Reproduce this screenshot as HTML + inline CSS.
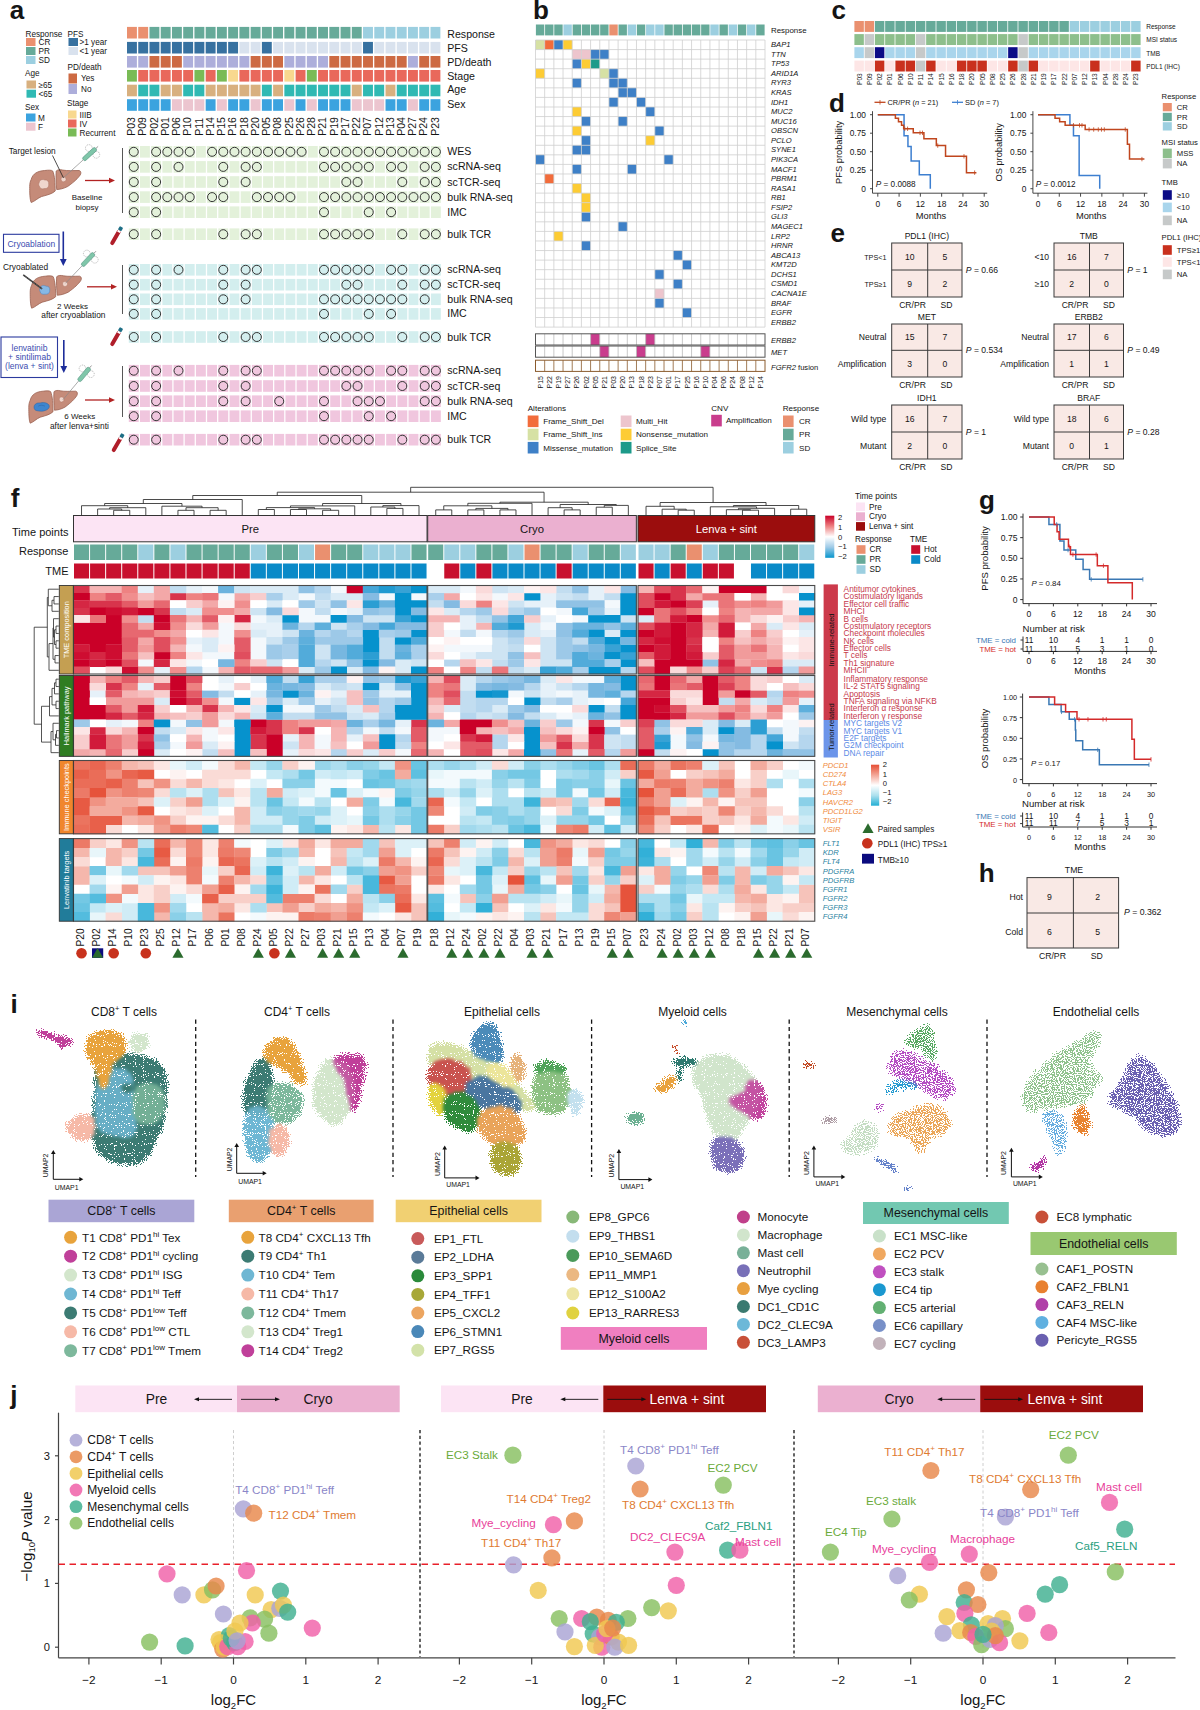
<!DOCTYPE html>
<html><head><meta charset="utf-8"><title>Figure</title>
<style>
html,body{margin:0;padding:0;background:#fff;}
svg{display:block;}
svg text{font-family:"Liberation Sans", sans-serif;}
</style></head>
<body>
<svg width="1200" height="1710" viewBox="0 0 1200 1710">
<rect x="0" y="0" width="1200" height="1710" fill="#fff"/>
<text x="9.80" y="18.50" font-size="26" fill="#151515" font-weight="bold">a</text>
<text x="25.50" y="36.50" font-size="8.2" fill="#151515">Response</text>
<rect x="26.00" y="38.00" width="9.50" height="8.00" fill="#ea906f"/>
<text x="38.50" y="45.00" font-size="8.2" fill="#151515">CR</text>
<rect x="26.00" y="47.00" width="9.50" height="8.00" fill="#66aa99"/>
<text x="38.50" y="54.00" font-size="8.2" fill="#151515">PR</text>
<rect x="26.00" y="56.00" width="9.50" height="8.00" fill="#9ccfe0"/>
<text x="38.50" y="63.00" font-size="8.2" fill="#151515">SD</text>
<text x="25.00" y="76.00" font-size="8.2" fill="#151515">Age</text>
<rect x="26.50" y="80.50" width="9.50" height="8.00" fill="#d8b07f"/>
<text x="38.50" y="87.50" font-size="8.2" fill="#151515">≥65</text>
<rect x="26.50" y="89.70" width="9.50" height="8.00" fill="#30b9b3"/>
<text x="38.50" y="96.70" font-size="8.2" fill="#151515"><65</text>
<text x="25.00" y="110.00" font-size="8.2" fill="#151515">Sex</text>
<rect x="26.00" y="113.50" width="9.50" height="8.00" fill="#3ba3df"/>
<text x="38.00" y="120.50" font-size="8.2" fill="#151515">M</text>
<rect x="26.00" y="122.70" width="9.50" height="8.00" fill="#ecc5cf"/>
<text x="38.00" y="129.70" font-size="8.2" fill="#151515">F</text>
<text x="67.50" y="36.50" font-size="8.2" fill="#151515">PFS</text>
<rect x="68.50" y="38.00" width="9.50" height="8.00" fill="#3771a0"/>
<text x="79.50" y="45.00" font-size="8.2" fill="#151515">>1 year</text>
<rect x="68.50" y="47.00" width="9.50" height="8.00" fill="#d9e2ee"/>
<text x="79.50" y="54.00" font-size="8.2" fill="#151515"><1 year</text>
<text x="67.50" y="70.00" font-size="8.2" fill="#151515">PD/death</text>
<rect x="68.50" y="73.50" width="8.50" height="10.00" fill="#cd6a43"/>
<text x="81.00" y="81.30" font-size="8.2" fill="#151515">Yes</text>
<rect x="68.50" y="84.00" width="8.50" height="10.00" fill="#adaedb"/>
<text x="81.00" y="91.80" font-size="8.2" fill="#151515">No</text>
<text x="67.00" y="106.00" font-size="8.2" fill="#151515">Stage</text>
<rect x="68.00" y="110.50" width="8.50" height="8.00" fill="#f8d88f"/>
<text x="79.50" y="117.50" font-size="8.2" fill="#151515">IIIB</text>
<rect x="68.00" y="119.50" width="8.50" height="8.00" fill="#e9685b"/>
<text x="79.50" y="126.50" font-size="8.2" fill="#151515">IV</text>
<rect x="68.00" y="128.50" width="8.50" height="8.00" fill="#79bb56"/>
<text x="79.50" y="135.50" font-size="8.2" fill="#151515">Recurrent</text>
<rect x="127.00" y="26.90" width="9.90" height="11.60" fill="#ea906f"/>
<rect x="138.24" y="26.90" width="9.90" height="11.60" fill="#ea906f"/>
<rect x="149.48" y="26.90" width="9.90" height="11.60" fill="#66aa99"/>
<rect x="160.72" y="26.90" width="9.90" height="11.60" fill="#66aa99"/>
<rect x="171.96" y="26.90" width="9.90" height="11.60" fill="#66aa99"/>
<rect x="183.20" y="26.90" width="9.90" height="11.60" fill="#66aa99"/>
<rect x="194.44" y="26.90" width="9.90" height="11.60" fill="#66aa99"/>
<rect x="205.68" y="26.90" width="9.90" height="11.60" fill="#66aa99"/>
<rect x="216.92" y="26.90" width="9.90" height="11.60" fill="#66aa99"/>
<rect x="228.16" y="26.90" width="9.90" height="11.60" fill="#66aa99"/>
<rect x="239.40" y="26.90" width="9.90" height="11.60" fill="#66aa99"/>
<rect x="250.64" y="26.90" width="9.90" height="11.60" fill="#66aa99"/>
<rect x="261.88" y="26.90" width="9.90" height="11.60" fill="#66aa99"/>
<rect x="273.12" y="26.90" width="9.90" height="11.60" fill="#66aa99"/>
<rect x="284.36" y="26.90" width="9.90" height="11.60" fill="#66aa99"/>
<rect x="295.60" y="26.90" width="9.90" height="11.60" fill="#66aa99"/>
<rect x="306.84" y="26.90" width="9.90" height="11.60" fill="#66aa99"/>
<rect x="318.08" y="26.90" width="9.90" height="11.60" fill="#66aa99"/>
<rect x="329.32" y="26.90" width="9.90" height="11.60" fill="#66aa99"/>
<rect x="340.56" y="26.90" width="9.90" height="11.60" fill="#66aa99"/>
<rect x="351.80" y="26.90" width="9.90" height="11.60" fill="#66aa99"/>
<rect x="363.04" y="26.90" width="9.90" height="11.60" fill="#9ccfe0"/>
<rect x="374.28" y="26.90" width="9.90" height="11.60" fill="#9ccfe0"/>
<rect x="385.52" y="26.90" width="9.90" height="11.60" fill="#9ccfe0"/>
<rect x="396.76" y="26.90" width="9.90" height="11.60" fill="#9ccfe0"/>
<rect x="408.00" y="26.90" width="9.90" height="11.60" fill="#9ccfe0"/>
<rect x="419.24" y="26.90" width="9.90" height="11.60" fill="#9ccfe0"/>
<rect x="430.48" y="26.90" width="9.90" height="11.60" fill="#9ccfe0"/>
<text x="447.30" y="37.90" font-size="10.6" fill="#151515">Response</text>
<rect x="127.00" y="41.90" width="9.90" height="11.60" fill="#3771a0"/>
<rect x="138.24" y="41.90" width="9.90" height="11.60" fill="#3771a0"/>
<rect x="149.48" y="41.90" width="9.90" height="11.60" fill="#3771a0"/>
<rect x="160.72" y="41.90" width="9.90" height="11.60" fill="#3771a0"/>
<rect x="171.96" y="41.90" width="9.90" height="11.60" fill="#3771a0"/>
<rect x="183.20" y="41.90" width="9.90" height="11.60" fill="#3771a0"/>
<rect x="194.44" y="41.90" width="9.90" height="11.60" fill="#3771a0"/>
<rect x="205.68" y="41.90" width="9.90" height="11.60" fill="#3771a0"/>
<rect x="216.92" y="41.90" width="9.90" height="11.60" fill="#3771a0"/>
<rect x="228.16" y="41.90" width="9.90" height="11.60" fill="#3771a0"/>
<rect x="239.40" y="41.90" width="9.90" height="11.60" fill="#d9e2ee"/>
<rect x="250.64" y="41.90" width="9.90" height="11.60" fill="#d9e2ee"/>
<rect x="261.88" y="41.90" width="9.90" height="11.60" fill="#3771a0"/>
<rect x="273.12" y="41.90" width="9.90" height="11.60" fill="#d9e2ee"/>
<rect x="284.36" y="41.90" width="9.90" height="11.60" fill="#d9e2ee"/>
<rect x="295.60" y="41.90" width="9.90" height="11.60" fill="#d9e2ee"/>
<rect x="306.84" y="41.90" width="9.90" height="11.60" fill="#d9e2ee"/>
<rect x="318.08" y="41.90" width="9.90" height="11.60" fill="#d9e2ee"/>
<rect x="329.32" y="41.90" width="9.90" height="11.60" fill="#d9e2ee"/>
<rect x="340.56" y="41.90" width="9.90" height="11.60" fill="#d9e2ee"/>
<rect x="351.80" y="41.90" width="9.90" height="11.60" fill="#d9e2ee"/>
<rect x="363.04" y="41.90" width="9.90" height="11.60" fill="#3771a0"/>
<rect x="374.28" y="41.90" width="9.90" height="11.60" fill="#d9e2ee"/>
<rect x="385.52" y="41.90" width="9.90" height="11.60" fill="#d9e2ee"/>
<rect x="396.76" y="41.90" width="9.90" height="11.60" fill="#d9e2ee"/>
<rect x="408.00" y="41.90" width="9.90" height="11.60" fill="#d9e2ee"/>
<rect x="419.24" y="41.90" width="9.90" height="11.60" fill="#d9e2ee"/>
<rect x="430.48" y="41.90" width="9.90" height="11.60" fill="#d9e2ee"/>
<text x="447.30" y="51.90" font-size="10.6" fill="#151515">PFS</text>
<rect x="127.00" y="56.00" width="9.90" height="11.60" fill="#adaedb"/>
<rect x="138.24" y="56.00" width="9.90" height="11.60" fill="#adaedb"/>
<rect x="149.48" y="56.00" width="9.90" height="11.60" fill="#cd6a43"/>
<rect x="160.72" y="56.00" width="9.90" height="11.60" fill="#cd6a43"/>
<rect x="171.96" y="56.00" width="9.90" height="11.60" fill="#cd6a43"/>
<rect x="183.20" y="56.00" width="9.90" height="11.60" fill="#adaedb"/>
<rect x="194.44" y="56.00" width="9.90" height="11.60" fill="#adaedb"/>
<rect x="205.68" y="56.00" width="9.90" height="11.60" fill="#adaedb"/>
<rect x="216.92" y="56.00" width="9.90" height="11.60" fill="#adaedb"/>
<rect x="228.16" y="56.00" width="9.90" height="11.60" fill="#adaedb"/>
<rect x="239.40" y="56.00" width="9.90" height="11.60" fill="#adaedb"/>
<rect x="250.64" y="56.00" width="9.90" height="11.60" fill="#cd6a43"/>
<rect x="261.88" y="56.00" width="9.90" height="11.60" fill="#cd6a43"/>
<rect x="273.12" y="56.00" width="9.90" height="11.60" fill="#cd6a43"/>
<rect x="284.36" y="56.00" width="9.90" height="11.60" fill="#adaedb"/>
<rect x="295.60" y="56.00" width="9.90" height="11.60" fill="#adaedb"/>
<rect x="306.84" y="56.00" width="9.90" height="11.60" fill="#adaedb"/>
<rect x="318.08" y="56.00" width="9.90" height="11.60" fill="#adaedb"/>
<rect x="329.32" y="56.00" width="9.90" height="11.60" fill="#cd6a43"/>
<rect x="340.56" y="56.00" width="9.90" height="11.60" fill="#cd6a43"/>
<rect x="351.80" y="56.00" width="9.90" height="11.60" fill="#cd6a43"/>
<rect x="363.04" y="56.00" width="9.90" height="11.60" fill="#cd6a43"/>
<rect x="374.28" y="56.00" width="9.90" height="11.60" fill="#cd6a43"/>
<rect x="385.52" y="56.00" width="9.90" height="11.60" fill="#cd6a43"/>
<rect x="396.76" y="56.00" width="9.90" height="11.60" fill="#cd6a43"/>
<rect x="408.00" y="56.00" width="9.90" height="11.60" fill="#adaedb"/>
<rect x="419.24" y="56.00" width="9.90" height="11.60" fill="#cd6a43"/>
<rect x="430.48" y="56.00" width="9.90" height="11.60" fill="#cd6a43"/>
<text x="447.30" y="65.90" font-size="10.6" fill="#151515">PD/death</text>
<rect x="127.00" y="70.00" width="9.90" height="11.60" fill="#79bb56"/>
<rect x="138.24" y="70.00" width="9.90" height="11.60" fill="#e9685b"/>
<rect x="149.48" y="70.00" width="9.90" height="11.60" fill="#e9685b"/>
<rect x="160.72" y="70.00" width="9.90" height="11.60" fill="#e9685b"/>
<rect x="171.96" y="70.00" width="9.90" height="11.60" fill="#e9685b"/>
<rect x="183.20" y="70.00" width="9.90" height="11.60" fill="#e9685b"/>
<rect x="194.44" y="70.00" width="9.90" height="11.60" fill="#79bb56"/>
<rect x="205.68" y="70.00" width="9.90" height="11.60" fill="#e9685b"/>
<rect x="216.92" y="70.00" width="9.90" height="11.60" fill="#79bb56"/>
<rect x="228.16" y="70.00" width="9.90" height="11.60" fill="#f8d88f"/>
<rect x="239.40" y="70.00" width="9.90" height="11.60" fill="#e9685b"/>
<rect x="250.64" y="70.00" width="9.90" height="11.60" fill="#e9685b"/>
<rect x="261.88" y="70.00" width="9.90" height="11.60" fill="#e9685b"/>
<rect x="273.12" y="70.00" width="9.90" height="11.60" fill="#e9685b"/>
<rect x="284.36" y="70.00" width="9.90" height="11.60" fill="#f8d88f"/>
<rect x="295.60" y="70.00" width="9.90" height="11.60" fill="#e9685b"/>
<rect x="306.84" y="70.00" width="9.90" height="11.60" fill="#79bb56"/>
<rect x="318.08" y="70.00" width="9.90" height="11.60" fill="#e9685b"/>
<rect x="329.32" y="70.00" width="9.90" height="11.60" fill="#e9685b"/>
<rect x="340.56" y="70.00" width="9.90" height="11.60" fill="#e9685b"/>
<rect x="351.80" y="70.00" width="9.90" height="11.60" fill="#e9685b"/>
<rect x="363.04" y="70.00" width="9.90" height="11.60" fill="#e9685b"/>
<rect x="374.28" y="70.00" width="9.90" height="11.60" fill="#e9685b"/>
<rect x="385.52" y="70.00" width="9.90" height="11.60" fill="#e9685b"/>
<rect x="396.76" y="70.00" width="9.90" height="11.60" fill="#e9685b"/>
<rect x="408.00" y="70.00" width="9.90" height="11.60" fill="#e9685b"/>
<rect x="419.24" y="70.00" width="9.90" height="11.60" fill="#e9685b"/>
<rect x="430.48" y="70.00" width="9.90" height="11.60" fill="#e9685b"/>
<text x="447.30" y="79.70" font-size="10.6" fill="#151515">Stage</text>
<rect x="127.00" y="84.70" width="9.90" height="11.60" fill="#d8b07f"/>
<rect x="138.24" y="84.70" width="9.90" height="11.60" fill="#30b9b3"/>
<rect x="149.48" y="84.70" width="9.90" height="11.60" fill="#30b9b3"/>
<rect x="160.72" y="84.70" width="9.90" height="11.60" fill="#d8b07f"/>
<rect x="171.96" y="84.70" width="9.90" height="11.60" fill="#d8b07f"/>
<rect x="183.20" y="84.70" width="9.90" height="11.60" fill="#30b9b3"/>
<rect x="194.44" y="84.70" width="9.90" height="11.60" fill="#30b9b3"/>
<rect x="205.68" y="84.70" width="9.90" height="11.60" fill="#d8b07f"/>
<rect x="216.92" y="84.70" width="9.90" height="11.60" fill="#d8b07f"/>
<rect x="228.16" y="84.70" width="9.90" height="11.60" fill="#d8b07f"/>
<rect x="239.40" y="84.70" width="9.90" height="11.60" fill="#d8b07f"/>
<rect x="250.64" y="84.70" width="9.90" height="11.60" fill="#d8b07f"/>
<rect x="261.88" y="84.70" width="9.90" height="11.60" fill="#30b9b3"/>
<rect x="273.12" y="84.70" width="9.90" height="11.60" fill="#d8b07f"/>
<rect x="284.36" y="84.70" width="9.90" height="11.60" fill="#30b9b3"/>
<rect x="295.60" y="84.70" width="9.90" height="11.60" fill="#30b9b3"/>
<rect x="306.84" y="84.70" width="9.90" height="11.60" fill="#30b9b3"/>
<rect x="318.08" y="84.70" width="9.90" height="11.60" fill="#30b9b3"/>
<rect x="329.32" y="84.70" width="9.90" height="11.60" fill="#30b9b3"/>
<rect x="340.56" y="84.70" width="9.90" height="11.60" fill="#30b9b3"/>
<rect x="351.80" y="84.70" width="9.90" height="11.60" fill="#d8b07f"/>
<rect x="363.04" y="84.70" width="9.90" height="11.60" fill="#30b9b3"/>
<rect x="374.28" y="84.70" width="9.90" height="11.60" fill="#30b9b3"/>
<rect x="385.52" y="84.70" width="9.90" height="11.60" fill="#d8b07f"/>
<rect x="396.76" y="84.70" width="9.90" height="11.60" fill="#30b9b3"/>
<rect x="408.00" y="84.70" width="9.90" height="11.60" fill="#30b9b3"/>
<rect x="419.24" y="84.70" width="9.90" height="11.60" fill="#30b9b3"/>
<rect x="430.48" y="84.70" width="9.90" height="11.60" fill="#30b9b3"/>
<text x="447.30" y="93.30" font-size="10.6" fill="#151515">Age</text>
<rect x="127.00" y="99.20" width="9.90" height="11.60" fill="#3ba3df"/>
<rect x="138.24" y="99.20" width="9.90" height="11.60" fill="#3ba3df"/>
<rect x="149.48" y="99.20" width="9.90" height="11.60" fill="#3ba3df"/>
<rect x="160.72" y="99.20" width="9.90" height="11.60" fill="#3ba3df"/>
<rect x="171.96" y="99.20" width="9.90" height="11.60" fill="#ecc5cf"/>
<rect x="183.20" y="99.20" width="9.90" height="11.60" fill="#ecc5cf"/>
<rect x="194.44" y="99.20" width="9.90" height="11.60" fill="#ecc5cf"/>
<rect x="205.68" y="99.20" width="9.90" height="11.60" fill="#3ba3df"/>
<rect x="216.92" y="99.20" width="9.90" height="11.60" fill="#ecc5cf"/>
<rect x="228.16" y="99.20" width="9.90" height="11.60" fill="#3ba3df"/>
<rect x="239.40" y="99.20" width="9.90" height="11.60" fill="#3ba3df"/>
<rect x="250.64" y="99.20" width="9.90" height="11.60" fill="#ecc5cf"/>
<rect x="261.88" y="99.20" width="9.90" height="11.60" fill="#3ba3df"/>
<rect x="273.12" y="99.20" width="9.90" height="11.60" fill="#3ba3df"/>
<rect x="284.36" y="99.20" width="9.90" height="11.60" fill="#ecc5cf"/>
<rect x="295.60" y="99.20" width="9.90" height="11.60" fill="#3ba3df"/>
<rect x="306.84" y="99.20" width="9.90" height="11.60" fill="#ecc5cf"/>
<rect x="318.08" y="99.20" width="9.90" height="11.60" fill="#3ba3df"/>
<rect x="329.32" y="99.20" width="9.90" height="11.60" fill="#3ba3df"/>
<rect x="340.56" y="99.20" width="9.90" height="11.60" fill="#3ba3df"/>
<rect x="351.80" y="99.20" width="9.90" height="11.60" fill="#ecc5cf"/>
<rect x="363.04" y="99.20" width="9.90" height="11.60" fill="#ecc5cf"/>
<rect x="374.28" y="99.20" width="9.90" height="11.60" fill="#ecc5cf"/>
<rect x="385.52" y="99.20" width="9.90" height="11.60" fill="#3ba3df"/>
<rect x="396.76" y="99.20" width="9.90" height="11.60" fill="#3ba3df"/>
<rect x="408.00" y="99.20" width="9.90" height="11.60" fill="#ecc5cf"/>
<rect x="419.24" y="99.20" width="9.90" height="11.60" fill="#3ba3df"/>
<rect x="430.48" y="99.20" width="9.90" height="11.60" fill="#3ba3df"/>
<text x="447.30" y="107.70" font-size="10.6" fill="#151515">Sex</text>
<text transform="translate(135.25,135.80) rotate(-90)" font-size="10.5" fill="#151515">P03</text>
<text transform="translate(146.49,135.80) rotate(-90)" font-size="10.5" fill="#151515">P09</text>
<text transform="translate(157.73,135.80) rotate(-90)" font-size="10.5" fill="#151515">P02</text>
<text transform="translate(168.97,135.80) rotate(-90)" font-size="10.5" fill="#151515">P01</text>
<text transform="translate(180.21,135.80) rotate(-90)" font-size="10.5" fill="#151515">P06</text>
<text transform="translate(191.45,135.80) rotate(-90)" font-size="10.5" fill="#151515">P10</text>
<text transform="translate(202.69,135.80) rotate(-90)" font-size="10.5" fill="#151515">P11</text>
<text transform="translate(213.93,135.80) rotate(-90)" font-size="10.5" fill="#151515">P14</text>
<text transform="translate(225.17,135.80) rotate(-90)" font-size="10.5" fill="#151515">P15</text>
<text transform="translate(236.41,135.80) rotate(-90)" font-size="10.5" fill="#151515">P16</text>
<text transform="translate(247.65,135.80) rotate(-90)" font-size="10.5" fill="#151515">P18</text>
<text transform="translate(258.89,135.80) rotate(-90)" font-size="10.5" fill="#151515">P20</text>
<text transform="translate(270.13,135.80) rotate(-90)" font-size="10.5" fill="#151515">P05</text>
<text transform="translate(281.37,135.80) rotate(-90)" font-size="10.5" fill="#151515">P08</text>
<text transform="translate(292.61,135.80) rotate(-90)" font-size="10.5" fill="#151515">P25</text>
<text transform="translate(303.85,135.80) rotate(-90)" font-size="10.5" fill="#151515">P26</text>
<text transform="translate(315.09,135.80) rotate(-90)" font-size="10.5" fill="#151515">P28</text>
<text transform="translate(326.33,135.80) rotate(-90)" font-size="10.5" fill="#151515">P21</text>
<text transform="translate(337.57,135.80) rotate(-90)" font-size="10.5" fill="#151515">P19</text>
<text transform="translate(348.81,135.80) rotate(-90)" font-size="10.5" fill="#151515">P17</text>
<text transform="translate(360.05,135.80) rotate(-90)" font-size="10.5" fill="#151515">P22</text>
<text transform="translate(371.29,135.80) rotate(-90)" font-size="10.5" fill="#151515">P07</text>
<text transform="translate(382.53,135.80) rotate(-90)" font-size="10.5" fill="#151515">P12</text>
<text transform="translate(393.77,135.80) rotate(-90)" font-size="10.5" fill="#151515">P13</text>
<text transform="translate(405.01,135.80) rotate(-90)" font-size="10.5" fill="#151515">P04</text>
<text transform="translate(416.25,135.80) rotate(-90)" font-size="10.5" fill="#151515">P27</text>
<text transform="translate(427.49,135.80) rotate(-90)" font-size="10.5" fill="#151515">P24</text>
<text transform="translate(438.73,135.80) rotate(-90)" font-size="10.5" fill="#151515">P23</text>
<rect x="128.80" y="146.00" width="9.90" height="11.60" fill="#e3f1da"/>
<rect x="139.99" y="146.00" width="9.90" height="11.60" fill="#e3f1da"/>
<rect x="151.18" y="146.00" width="9.90" height="11.60" fill="#e3f1da"/>
<rect x="162.37" y="146.00" width="9.90" height="11.60" fill="#e3f1da"/>
<rect x="173.56" y="146.00" width="9.90" height="11.60" fill="#e3f1da"/>
<rect x="184.75" y="146.00" width="9.90" height="11.60" fill="#e3f1da"/>
<rect x="195.94" y="146.00" width="9.90" height="11.60" fill="#e3f1da"/>
<rect x="207.13" y="146.00" width="9.90" height="11.60" fill="#e3f1da"/>
<rect x="218.32" y="146.00" width="9.90" height="11.60" fill="#e3f1da"/>
<rect x="229.51" y="146.00" width="9.90" height="11.60" fill="#e3f1da"/>
<rect x="240.70" y="146.00" width="9.90" height="11.60" fill="#e3f1da"/>
<rect x="251.89" y="146.00" width="9.90" height="11.60" fill="#e3f1da"/>
<rect x="263.08" y="146.00" width="9.90" height="11.60" fill="#e3f1da"/>
<rect x="274.27" y="146.00" width="9.90" height="11.60" fill="#e3f1da"/>
<rect x="285.46" y="146.00" width="9.90" height="11.60" fill="#e3f1da"/>
<rect x="296.65" y="146.00" width="9.90" height="11.60" fill="#e3f1da"/>
<rect x="307.84" y="146.00" width="9.90" height="11.60" fill="#e3f1da"/>
<rect x="319.03" y="146.00" width="9.90" height="11.60" fill="#e3f1da"/>
<rect x="330.22" y="146.00" width="9.90" height="11.60" fill="#e3f1da"/>
<rect x="341.41" y="146.00" width="9.90" height="11.60" fill="#e3f1da"/>
<rect x="352.60" y="146.00" width="9.90" height="11.60" fill="#e3f1da"/>
<rect x="363.79" y="146.00" width="9.90" height="11.60" fill="#e3f1da"/>
<rect x="374.98" y="146.00" width="9.90" height="11.60" fill="#e3f1da"/>
<rect x="386.17" y="146.00" width="9.90" height="11.60" fill="#e3f1da"/>
<rect x="397.36" y="146.00" width="9.90" height="11.60" fill="#e3f1da"/>
<rect x="408.55" y="146.00" width="9.90" height="11.60" fill="#e3f1da"/>
<rect x="419.74" y="146.00" width="9.90" height="11.60" fill="#e3f1da"/>
<rect x="430.93" y="146.00" width="9.90" height="11.60" fill="#e3f1da"/>
<circle cx="133.75" cy="151.80" r="4.5" fill="none" stroke="#333" stroke-width="1.0"/>
<circle cx="156.13" cy="151.80" r="4.5" fill="none" stroke="#333" stroke-width="1.0"/>
<circle cx="167.32" cy="151.80" r="4.5" fill="none" stroke="#333" stroke-width="1.0"/>
<circle cx="178.51" cy="151.80" r="4.5" fill="none" stroke="#333" stroke-width="1.0"/>
<circle cx="189.70" cy="151.80" r="4.5" fill="none" stroke="#333" stroke-width="1.0"/>
<circle cx="212.08" cy="151.80" r="4.5" fill="none" stroke="#333" stroke-width="1.0"/>
<circle cx="223.27" cy="151.80" r="4.5" fill="none" stroke="#333" stroke-width="1.0"/>
<circle cx="234.46" cy="151.80" r="4.5" fill="none" stroke="#333" stroke-width="1.0"/>
<circle cx="245.65" cy="151.80" r="4.5" fill="none" stroke="#333" stroke-width="1.0"/>
<circle cx="256.84" cy="151.80" r="4.5" fill="none" stroke="#333" stroke-width="1.0"/>
<circle cx="268.03" cy="151.80" r="4.5" fill="none" stroke="#333" stroke-width="1.0"/>
<circle cx="279.22" cy="151.80" r="4.5" fill="none" stroke="#333" stroke-width="1.0"/>
<circle cx="290.41" cy="151.80" r="4.5" fill="none" stroke="#333" stroke-width="1.0"/>
<circle cx="301.60" cy="151.80" r="4.5" fill="none" stroke="#333" stroke-width="1.0"/>
<circle cx="323.98" cy="151.80" r="4.5" fill="none" stroke="#333" stroke-width="1.0"/>
<circle cx="335.17" cy="151.80" r="4.5" fill="none" stroke="#333" stroke-width="1.0"/>
<circle cx="346.36" cy="151.80" r="4.5" fill="none" stroke="#333" stroke-width="1.0"/>
<circle cx="357.55" cy="151.80" r="4.5" fill="none" stroke="#333" stroke-width="1.0"/>
<circle cx="368.74" cy="151.80" r="4.5" fill="none" stroke="#333" stroke-width="1.0"/>
<circle cx="379.93" cy="151.80" r="4.5" fill="none" stroke="#333" stroke-width="1.0"/>
<circle cx="391.12" cy="151.80" r="4.5" fill="none" stroke="#333" stroke-width="1.0"/>
<circle cx="402.31" cy="151.80" r="4.5" fill="none" stroke="#333" stroke-width="1.0"/>
<circle cx="413.50" cy="151.80" r="4.5" fill="none" stroke="#333" stroke-width="1.0"/>
<circle cx="424.69" cy="151.80" r="4.5" fill="none" stroke="#333" stroke-width="1.0"/>
<circle cx="435.88" cy="151.80" r="4.5" fill="none" stroke="#333" stroke-width="1.0"/>
<text x="447.30" y="155.30" font-size="10.6" fill="#151515">WES</text>
<rect x="128.80" y="161.10" width="9.90" height="11.60" fill="#e3f1da"/>
<rect x="139.99" y="161.10" width="9.90" height="11.60" fill="#e3f1da"/>
<rect x="151.18" y="161.10" width="9.90" height="11.60" fill="#e3f1da"/>
<rect x="162.37" y="161.10" width="9.90" height="11.60" fill="#e3f1da"/>
<rect x="173.56" y="161.10" width="9.90" height="11.60" fill="#e3f1da"/>
<rect x="184.75" y="161.10" width="9.90" height="11.60" fill="#e3f1da"/>
<rect x="195.94" y="161.10" width="9.90" height="11.60" fill="#e3f1da"/>
<rect x="207.13" y="161.10" width="9.90" height="11.60" fill="#e3f1da"/>
<rect x="218.32" y="161.10" width="9.90" height="11.60" fill="#e3f1da"/>
<rect x="229.51" y="161.10" width="9.90" height="11.60" fill="#e3f1da"/>
<rect x="240.70" y="161.10" width="9.90" height="11.60" fill="#e3f1da"/>
<rect x="251.89" y="161.10" width="9.90" height="11.60" fill="#e3f1da"/>
<rect x="263.08" y="161.10" width="9.90" height="11.60" fill="#e3f1da"/>
<rect x="274.27" y="161.10" width="9.90" height="11.60" fill="#e3f1da"/>
<rect x="285.46" y="161.10" width="9.90" height="11.60" fill="#e3f1da"/>
<rect x="296.65" y="161.10" width="9.90" height="11.60" fill="#e3f1da"/>
<rect x="307.84" y="161.10" width="9.90" height="11.60" fill="#e3f1da"/>
<rect x="319.03" y="161.10" width="9.90" height="11.60" fill="#e3f1da"/>
<rect x="330.22" y="161.10" width="9.90" height="11.60" fill="#e3f1da"/>
<rect x="341.41" y="161.10" width="9.90" height="11.60" fill="#e3f1da"/>
<rect x="352.60" y="161.10" width="9.90" height="11.60" fill="#e3f1da"/>
<rect x="363.79" y="161.10" width="9.90" height="11.60" fill="#e3f1da"/>
<rect x="374.98" y="161.10" width="9.90" height="11.60" fill="#e3f1da"/>
<rect x="386.17" y="161.10" width="9.90" height="11.60" fill="#e3f1da"/>
<rect x="397.36" y="161.10" width="9.90" height="11.60" fill="#e3f1da"/>
<rect x="408.55" y="161.10" width="9.90" height="11.60" fill="#e3f1da"/>
<rect x="419.74" y="161.10" width="9.90" height="11.60" fill="#e3f1da"/>
<rect x="430.93" y="161.10" width="9.90" height="11.60" fill="#e3f1da"/>
<circle cx="133.75" cy="166.90" r="4.5" fill="none" stroke="#333" stroke-width="1.0"/>
<circle cx="156.13" cy="166.90" r="4.5" fill="none" stroke="#333" stroke-width="1.0"/>
<circle cx="178.51" cy="166.90" r="4.5" fill="none" stroke="#333" stroke-width="1.0"/>
<circle cx="223.27" cy="166.90" r="4.5" fill="none" stroke="#333" stroke-width="1.0"/>
<circle cx="245.65" cy="166.90" r="4.5" fill="none" stroke="#333" stroke-width="1.0"/>
<circle cx="256.84" cy="166.90" r="4.5" fill="none" stroke="#333" stroke-width="1.0"/>
<circle cx="323.98" cy="166.90" r="4.5" fill="none" stroke="#333" stroke-width="1.0"/>
<circle cx="335.17" cy="166.90" r="4.5" fill="none" stroke="#333" stroke-width="1.0"/>
<circle cx="346.36" cy="166.90" r="4.5" fill="none" stroke="#333" stroke-width="1.0"/>
<circle cx="357.55" cy="166.90" r="4.5" fill="none" stroke="#333" stroke-width="1.0"/>
<circle cx="368.74" cy="166.90" r="4.5" fill="none" stroke="#333" stroke-width="1.0"/>
<circle cx="391.12" cy="166.90" r="4.5" fill="none" stroke="#333" stroke-width="1.0"/>
<circle cx="402.31" cy="166.90" r="4.5" fill="none" stroke="#333" stroke-width="1.0"/>
<circle cx="424.69" cy="166.90" r="4.5" fill="none" stroke="#333" stroke-width="1.0"/>
<circle cx="435.88" cy="166.90" r="4.5" fill="none" stroke="#333" stroke-width="1.0"/>
<text x="447.30" y="170.40" font-size="10.6" fill="#151515">scRNA-seq</text>
<rect x="128.80" y="176.20" width="9.90" height="11.60" fill="#e3f1da"/>
<rect x="139.99" y="176.20" width="9.90" height="11.60" fill="#e3f1da"/>
<rect x="151.18" y="176.20" width="9.90" height="11.60" fill="#e3f1da"/>
<rect x="162.37" y="176.20" width="9.90" height="11.60" fill="#e3f1da"/>
<rect x="173.56" y="176.20" width="9.90" height="11.60" fill="#e3f1da"/>
<rect x="184.75" y="176.20" width="9.90" height="11.60" fill="#e3f1da"/>
<rect x="195.94" y="176.20" width="9.90" height="11.60" fill="#e3f1da"/>
<rect x="207.13" y="176.20" width="9.90" height="11.60" fill="#e3f1da"/>
<rect x="218.32" y="176.20" width="9.90" height="11.60" fill="#e3f1da"/>
<rect x="229.51" y="176.20" width="9.90" height="11.60" fill="#e3f1da"/>
<rect x="240.70" y="176.20" width="9.90" height="11.60" fill="#e3f1da"/>
<rect x="251.89" y="176.20" width="9.90" height="11.60" fill="#e3f1da"/>
<rect x="263.08" y="176.20" width="9.90" height="11.60" fill="#e3f1da"/>
<rect x="274.27" y="176.20" width="9.90" height="11.60" fill="#e3f1da"/>
<rect x="285.46" y="176.20" width="9.90" height="11.60" fill="#e3f1da"/>
<rect x="296.65" y="176.20" width="9.90" height="11.60" fill="#e3f1da"/>
<rect x="307.84" y="176.20" width="9.90" height="11.60" fill="#e3f1da"/>
<rect x="319.03" y="176.20" width="9.90" height="11.60" fill="#e3f1da"/>
<rect x="330.22" y="176.20" width="9.90" height="11.60" fill="#e3f1da"/>
<rect x="341.41" y="176.20" width="9.90" height="11.60" fill="#e3f1da"/>
<rect x="352.60" y="176.20" width="9.90" height="11.60" fill="#e3f1da"/>
<rect x="363.79" y="176.20" width="9.90" height="11.60" fill="#e3f1da"/>
<rect x="374.98" y="176.20" width="9.90" height="11.60" fill="#e3f1da"/>
<rect x="386.17" y="176.20" width="9.90" height="11.60" fill="#e3f1da"/>
<rect x="397.36" y="176.20" width="9.90" height="11.60" fill="#e3f1da"/>
<rect x="408.55" y="176.20" width="9.90" height="11.60" fill="#e3f1da"/>
<rect x="419.74" y="176.20" width="9.90" height="11.60" fill="#e3f1da"/>
<rect x="430.93" y="176.20" width="9.90" height="11.60" fill="#e3f1da"/>
<circle cx="133.75" cy="182.00" r="4.5" fill="none" stroke="#333" stroke-width="1.0"/>
<circle cx="156.13" cy="182.00" r="4.5" fill="none" stroke="#333" stroke-width="1.0"/>
<circle cx="223.27" cy="182.00" r="4.5" fill="none" stroke="#333" stroke-width="1.0"/>
<circle cx="245.65" cy="182.00" r="4.5" fill="none" stroke="#333" stroke-width="1.0"/>
<circle cx="346.36" cy="182.00" r="4.5" fill="none" stroke="#333" stroke-width="1.0"/>
<circle cx="357.55" cy="182.00" r="4.5" fill="none" stroke="#333" stroke-width="1.0"/>
<circle cx="402.31" cy="182.00" r="4.5" fill="none" stroke="#333" stroke-width="1.0"/>
<circle cx="424.69" cy="182.00" r="4.5" fill="none" stroke="#333" stroke-width="1.0"/>
<circle cx="435.88" cy="182.00" r="4.5" fill="none" stroke="#333" stroke-width="1.0"/>
<text x="447.30" y="185.50" font-size="10.6" fill="#151515">scTCR-seq</text>
<rect x="128.80" y="191.30" width="9.90" height="11.60" fill="#e3f1da"/>
<rect x="139.99" y="191.30" width="9.90" height="11.60" fill="#e3f1da"/>
<rect x="151.18" y="191.30" width="9.90" height="11.60" fill="#e3f1da"/>
<rect x="162.37" y="191.30" width="9.90" height="11.60" fill="#e3f1da"/>
<rect x="173.56" y="191.30" width="9.90" height="11.60" fill="#e3f1da"/>
<rect x="184.75" y="191.30" width="9.90" height="11.60" fill="#e3f1da"/>
<rect x="195.94" y="191.30" width="9.90" height="11.60" fill="#e3f1da"/>
<rect x="207.13" y="191.30" width="9.90" height="11.60" fill="#e3f1da"/>
<rect x="218.32" y="191.30" width="9.90" height="11.60" fill="#e3f1da"/>
<rect x="229.51" y="191.30" width="9.90" height="11.60" fill="#e3f1da"/>
<rect x="240.70" y="191.30" width="9.90" height="11.60" fill="#e3f1da"/>
<rect x="251.89" y="191.30" width="9.90" height="11.60" fill="#e3f1da"/>
<rect x="263.08" y="191.30" width="9.90" height="11.60" fill="#e3f1da"/>
<rect x="274.27" y="191.30" width="9.90" height="11.60" fill="#e3f1da"/>
<rect x="285.46" y="191.30" width="9.90" height="11.60" fill="#e3f1da"/>
<rect x="296.65" y="191.30" width="9.90" height="11.60" fill="#e3f1da"/>
<rect x="307.84" y="191.30" width="9.90" height="11.60" fill="#e3f1da"/>
<rect x="319.03" y="191.30" width="9.90" height="11.60" fill="#e3f1da"/>
<rect x="330.22" y="191.30" width="9.90" height="11.60" fill="#e3f1da"/>
<rect x="341.41" y="191.30" width="9.90" height="11.60" fill="#e3f1da"/>
<rect x="352.60" y="191.30" width="9.90" height="11.60" fill="#e3f1da"/>
<rect x="363.79" y="191.30" width="9.90" height="11.60" fill="#e3f1da"/>
<rect x="374.98" y="191.30" width="9.90" height="11.60" fill="#e3f1da"/>
<rect x="386.17" y="191.30" width="9.90" height="11.60" fill="#e3f1da"/>
<rect x="397.36" y="191.30" width="9.90" height="11.60" fill="#e3f1da"/>
<rect x="408.55" y="191.30" width="9.90" height="11.60" fill="#e3f1da"/>
<rect x="419.74" y="191.30" width="9.90" height="11.60" fill="#e3f1da"/>
<rect x="430.93" y="191.30" width="9.90" height="11.60" fill="#e3f1da"/>
<circle cx="133.75" cy="197.10" r="4.5" fill="none" stroke="#333" stroke-width="1.0"/>
<circle cx="156.13" cy="197.10" r="4.5" fill="none" stroke="#333" stroke-width="1.0"/>
<circle cx="167.32" cy="197.10" r="4.5" fill="none" stroke="#333" stroke-width="1.0"/>
<circle cx="178.51" cy="197.10" r="4.5" fill="none" stroke="#333" stroke-width="1.0"/>
<circle cx="189.70" cy="197.10" r="4.5" fill="none" stroke="#333" stroke-width="1.0"/>
<circle cx="212.08" cy="197.10" r="4.5" fill="none" stroke="#333" stroke-width="1.0"/>
<circle cx="223.27" cy="197.10" r="4.5" fill="none" stroke="#333" stroke-width="1.0"/>
<circle cx="256.84" cy="197.10" r="4.5" fill="none" stroke="#333" stroke-width="1.0"/>
<circle cx="268.03" cy="197.10" r="4.5" fill="none" stroke="#333" stroke-width="1.0"/>
<circle cx="279.22" cy="197.10" r="4.5" fill="none" stroke="#333" stroke-width="1.0"/>
<circle cx="290.41" cy="197.10" r="4.5" fill="none" stroke="#333" stroke-width="1.0"/>
<circle cx="323.98" cy="197.10" r="4.5" fill="none" stroke="#333" stroke-width="1.0"/>
<circle cx="335.17" cy="197.10" r="4.5" fill="none" stroke="#333" stroke-width="1.0"/>
<circle cx="346.36" cy="197.10" r="4.5" fill="none" stroke="#333" stroke-width="1.0"/>
<circle cx="357.55" cy="197.10" r="4.5" fill="none" stroke="#333" stroke-width="1.0"/>
<circle cx="368.74" cy="197.10" r="4.5" fill="none" stroke="#333" stroke-width="1.0"/>
<circle cx="379.93" cy="197.10" r="4.5" fill="none" stroke="#333" stroke-width="1.0"/>
<circle cx="391.12" cy="197.10" r="4.5" fill="none" stroke="#333" stroke-width="1.0"/>
<circle cx="402.31" cy="197.10" r="4.5" fill="none" stroke="#333" stroke-width="1.0"/>
<circle cx="413.50" cy="197.10" r="4.5" fill="none" stroke="#333" stroke-width="1.0"/>
<circle cx="424.69" cy="197.10" r="4.5" fill="none" stroke="#333" stroke-width="1.0"/>
<circle cx="435.88" cy="197.10" r="4.5" fill="none" stroke="#333" stroke-width="1.0"/>
<text x="447.30" y="200.60" font-size="10.6" fill="#151515">bulk RNA-seq</text>
<rect x="128.80" y="206.40" width="9.90" height="11.60" fill="#e3f1da"/>
<rect x="139.99" y="206.40" width="9.90" height="11.60" fill="#e3f1da"/>
<rect x="151.18" y="206.40" width="9.90" height="11.60" fill="#e3f1da"/>
<rect x="162.37" y="206.40" width="9.90" height="11.60" fill="#e3f1da"/>
<rect x="173.56" y="206.40" width="9.90" height="11.60" fill="#e3f1da"/>
<rect x="184.75" y="206.40" width="9.90" height="11.60" fill="#e3f1da"/>
<rect x="195.94" y="206.40" width="9.90" height="11.60" fill="#e3f1da"/>
<rect x="207.13" y="206.40" width="9.90" height="11.60" fill="#e3f1da"/>
<rect x="218.32" y="206.40" width="9.90" height="11.60" fill="#e3f1da"/>
<rect x="229.51" y="206.40" width="9.90" height="11.60" fill="#e3f1da"/>
<rect x="240.70" y="206.40" width="9.90" height="11.60" fill="#e3f1da"/>
<rect x="251.89" y="206.40" width="9.90" height="11.60" fill="#e3f1da"/>
<rect x="263.08" y="206.40" width="9.90" height="11.60" fill="#e3f1da"/>
<rect x="274.27" y="206.40" width="9.90" height="11.60" fill="#e3f1da"/>
<rect x="285.46" y="206.40" width="9.90" height="11.60" fill="#e3f1da"/>
<rect x="296.65" y="206.40" width="9.90" height="11.60" fill="#e3f1da"/>
<rect x="307.84" y="206.40" width="9.90" height="11.60" fill="#e3f1da"/>
<rect x="319.03" y="206.40" width="9.90" height="11.60" fill="#e3f1da"/>
<rect x="330.22" y="206.40" width="9.90" height="11.60" fill="#e3f1da"/>
<rect x="341.41" y="206.40" width="9.90" height="11.60" fill="#e3f1da"/>
<rect x="352.60" y="206.40" width="9.90" height="11.60" fill="#e3f1da"/>
<rect x="363.79" y="206.40" width="9.90" height="11.60" fill="#e3f1da"/>
<rect x="374.98" y="206.40" width="9.90" height="11.60" fill="#e3f1da"/>
<rect x="386.17" y="206.40" width="9.90" height="11.60" fill="#e3f1da"/>
<rect x="397.36" y="206.40" width="9.90" height="11.60" fill="#e3f1da"/>
<rect x="408.55" y="206.40" width="9.90" height="11.60" fill="#e3f1da"/>
<rect x="419.74" y="206.40" width="9.90" height="11.60" fill="#e3f1da"/>
<rect x="430.93" y="206.40" width="9.90" height="11.60" fill="#e3f1da"/>
<circle cx="133.75" cy="212.20" r="4.5" fill="none" stroke="#333" stroke-width="1.0"/>
<circle cx="156.13" cy="212.20" r="4.5" fill="none" stroke="#333" stroke-width="1.0"/>
<circle cx="323.98" cy="212.20" r="4.5" fill="none" stroke="#333" stroke-width="1.0"/>
<circle cx="368.74" cy="212.20" r="4.5" fill="none" stroke="#333" stroke-width="1.0"/>
<circle cx="391.12" cy="212.20" r="4.5" fill="none" stroke="#333" stroke-width="1.0"/>
<text x="447.30" y="215.70" font-size="10.6" fill="#151515">IMC</text>
<rect x="128.80" y="228.40" width="9.90" height="11.60" fill="#e3f1da"/>
<rect x="139.99" y="228.40" width="9.90" height="11.60" fill="#e3f1da"/>
<rect x="151.18" y="228.40" width="9.90" height="11.60" fill="#e3f1da"/>
<rect x="162.37" y="228.40" width="9.90" height="11.60" fill="#e3f1da"/>
<rect x="173.56" y="228.40" width="9.90" height="11.60" fill="#e3f1da"/>
<rect x="184.75" y="228.40" width="9.90" height="11.60" fill="#e3f1da"/>
<rect x="195.94" y="228.40" width="9.90" height="11.60" fill="#e3f1da"/>
<rect x="207.13" y="228.40" width="9.90" height="11.60" fill="#e3f1da"/>
<rect x="218.32" y="228.40" width="9.90" height="11.60" fill="#e3f1da"/>
<rect x="229.51" y="228.40" width="9.90" height="11.60" fill="#e3f1da"/>
<rect x="240.70" y="228.40" width="9.90" height="11.60" fill="#e3f1da"/>
<rect x="251.89" y="228.40" width="9.90" height="11.60" fill="#e3f1da"/>
<rect x="263.08" y="228.40" width="9.90" height="11.60" fill="#e3f1da"/>
<rect x="274.27" y="228.40" width="9.90" height="11.60" fill="#e3f1da"/>
<rect x="285.46" y="228.40" width="9.90" height="11.60" fill="#e3f1da"/>
<rect x="296.65" y="228.40" width="9.90" height="11.60" fill="#e3f1da"/>
<rect x="307.84" y="228.40" width="9.90" height="11.60" fill="#e3f1da"/>
<rect x="319.03" y="228.40" width="9.90" height="11.60" fill="#e3f1da"/>
<rect x="330.22" y="228.40" width="9.90" height="11.60" fill="#e3f1da"/>
<rect x="341.41" y="228.40" width="9.90" height="11.60" fill="#e3f1da"/>
<rect x="352.60" y="228.40" width="9.90" height="11.60" fill="#e3f1da"/>
<rect x="363.79" y="228.40" width="9.90" height="11.60" fill="#e3f1da"/>
<rect x="374.98" y="228.40" width="9.90" height="11.60" fill="#e3f1da"/>
<rect x="386.17" y="228.40" width="9.90" height="11.60" fill="#e3f1da"/>
<rect x="397.36" y="228.40" width="9.90" height="11.60" fill="#e3f1da"/>
<rect x="408.55" y="228.40" width="9.90" height="11.60" fill="#e3f1da"/>
<rect x="419.74" y="228.40" width="9.90" height="11.60" fill="#e3f1da"/>
<rect x="430.93" y="228.40" width="9.90" height="11.60" fill="#e3f1da"/>
<circle cx="133.75" cy="234.20" r="4.5" fill="none" stroke="#333" stroke-width="1.0"/>
<circle cx="156.13" cy="234.20" r="4.5" fill="none" stroke="#333" stroke-width="1.0"/>
<circle cx="223.27" cy="234.20" r="4.5" fill="none" stroke="#333" stroke-width="1.0"/>
<circle cx="245.65" cy="234.20" r="4.5" fill="none" stroke="#333" stroke-width="1.0"/>
<circle cx="256.84" cy="234.20" r="4.5" fill="none" stroke="#333" stroke-width="1.0"/>
<circle cx="323.98" cy="234.20" r="4.5" fill="none" stroke="#333" stroke-width="1.0"/>
<circle cx="335.17" cy="234.20" r="4.5" fill="none" stroke="#333" stroke-width="1.0"/>
<circle cx="346.36" cy="234.20" r="4.5" fill="none" stroke="#333" stroke-width="1.0"/>
<circle cx="357.55" cy="234.20" r="4.5" fill="none" stroke="#333" stroke-width="1.0"/>
<circle cx="368.74" cy="234.20" r="4.5" fill="none" stroke="#333" stroke-width="1.0"/>
<circle cx="402.31" cy="234.20" r="4.5" fill="none" stroke="#333" stroke-width="1.0"/>
<circle cx="424.69" cy="234.20" r="4.5" fill="none" stroke="#333" stroke-width="1.0"/>
<circle cx="435.88" cy="234.20" r="4.5" fill="none" stroke="#333" stroke-width="1.0"/>
<text x="447.30" y="237.70" font-size="10.6" fill="#151515">bulk TCR</text>
<rect x="128.80" y="264.00" width="9.90" height="11.60" fill="#d3eeee"/>
<rect x="139.99" y="264.00" width="9.90" height="11.60" fill="#d3eeee"/>
<rect x="151.18" y="264.00" width="9.90" height="11.60" fill="#d3eeee"/>
<rect x="162.37" y="264.00" width="9.90" height="11.60" fill="#d3eeee"/>
<rect x="173.56" y="264.00" width="9.90" height="11.60" fill="#d3eeee"/>
<rect x="184.75" y="264.00" width="9.90" height="11.60" fill="#d3eeee"/>
<rect x="195.94" y="264.00" width="9.90" height="11.60" fill="#d3eeee"/>
<rect x="207.13" y="264.00" width="9.90" height="11.60" fill="#d3eeee"/>
<rect x="218.32" y="264.00" width="9.90" height="11.60" fill="#d3eeee"/>
<rect x="229.51" y="264.00" width="9.90" height="11.60" fill="#d3eeee"/>
<rect x="240.70" y="264.00" width="9.90" height="11.60" fill="#d3eeee"/>
<rect x="251.89" y="264.00" width="9.90" height="11.60" fill="#d3eeee"/>
<rect x="263.08" y="264.00" width="9.90" height="11.60" fill="#d3eeee"/>
<rect x="274.27" y="264.00" width="9.90" height="11.60" fill="#d3eeee"/>
<rect x="285.46" y="264.00" width="9.90" height="11.60" fill="#d3eeee"/>
<rect x="296.65" y="264.00" width="9.90" height="11.60" fill="#d3eeee"/>
<rect x="307.84" y="264.00" width="9.90" height="11.60" fill="#d3eeee"/>
<rect x="319.03" y="264.00" width="9.90" height="11.60" fill="#d3eeee"/>
<rect x="330.22" y="264.00" width="9.90" height="11.60" fill="#d3eeee"/>
<rect x="341.41" y="264.00" width="9.90" height="11.60" fill="#d3eeee"/>
<rect x="352.60" y="264.00" width="9.90" height="11.60" fill="#d3eeee"/>
<rect x="363.79" y="264.00" width="9.90" height="11.60" fill="#d3eeee"/>
<rect x="374.98" y="264.00" width="9.90" height="11.60" fill="#d3eeee"/>
<rect x="386.17" y="264.00" width="9.90" height="11.60" fill="#d3eeee"/>
<rect x="397.36" y="264.00" width="9.90" height="11.60" fill="#d3eeee"/>
<rect x="408.55" y="264.00" width="9.90" height="11.60" fill="#d3eeee"/>
<rect x="419.74" y="264.00" width="9.90" height="11.60" fill="#d3eeee"/>
<rect x="430.93" y="264.00" width="9.90" height="11.60" fill="#d3eeee"/>
<circle cx="133.75" cy="269.80" r="4.5" fill="none" stroke="#333" stroke-width="1.0"/>
<circle cx="156.13" cy="269.80" r="4.5" fill="none" stroke="#333" stroke-width="1.0"/>
<circle cx="178.51" cy="269.80" r="4.5" fill="none" stroke="#333" stroke-width="1.0"/>
<circle cx="223.27" cy="269.80" r="4.5" fill="none" stroke="#333" stroke-width="1.0"/>
<circle cx="245.65" cy="269.80" r="4.5" fill="none" stroke="#333" stroke-width="1.0"/>
<circle cx="256.84" cy="269.80" r="4.5" fill="none" stroke="#333" stroke-width="1.0"/>
<circle cx="323.98" cy="269.80" r="4.5" fill="none" stroke="#333" stroke-width="1.0"/>
<circle cx="335.17" cy="269.80" r="4.5" fill="none" stroke="#333" stroke-width="1.0"/>
<circle cx="346.36" cy="269.80" r="4.5" fill="none" stroke="#333" stroke-width="1.0"/>
<circle cx="357.55" cy="269.80" r="4.5" fill="none" stroke="#333" stroke-width="1.0"/>
<circle cx="368.74" cy="269.80" r="4.5" fill="none" stroke="#333" stroke-width="1.0"/>
<circle cx="391.12" cy="269.80" r="4.5" fill="none" stroke="#333" stroke-width="1.0"/>
<circle cx="402.31" cy="269.80" r="4.5" fill="none" stroke="#333" stroke-width="1.0"/>
<circle cx="424.69" cy="269.80" r="4.5" fill="none" stroke="#333" stroke-width="1.0"/>
<circle cx="435.88" cy="269.80" r="4.5" fill="none" stroke="#333" stroke-width="1.0"/>
<text x="447.30" y="273.30" font-size="10.6" fill="#151515">scRNA-seq</text>
<rect x="128.80" y="278.90" width="9.90" height="11.60" fill="#d3eeee"/>
<rect x="139.99" y="278.90" width="9.90" height="11.60" fill="#d3eeee"/>
<rect x="151.18" y="278.90" width="9.90" height="11.60" fill="#d3eeee"/>
<rect x="162.37" y="278.90" width="9.90" height="11.60" fill="#d3eeee"/>
<rect x="173.56" y="278.90" width="9.90" height="11.60" fill="#d3eeee"/>
<rect x="184.75" y="278.90" width="9.90" height="11.60" fill="#d3eeee"/>
<rect x="195.94" y="278.90" width="9.90" height="11.60" fill="#d3eeee"/>
<rect x="207.13" y="278.90" width="9.90" height="11.60" fill="#d3eeee"/>
<rect x="218.32" y="278.90" width="9.90" height="11.60" fill="#d3eeee"/>
<rect x="229.51" y="278.90" width="9.90" height="11.60" fill="#d3eeee"/>
<rect x="240.70" y="278.90" width="9.90" height="11.60" fill="#d3eeee"/>
<rect x="251.89" y="278.90" width="9.90" height="11.60" fill="#d3eeee"/>
<rect x="263.08" y="278.90" width="9.90" height="11.60" fill="#d3eeee"/>
<rect x="274.27" y="278.90" width="9.90" height="11.60" fill="#d3eeee"/>
<rect x="285.46" y="278.90" width="9.90" height="11.60" fill="#d3eeee"/>
<rect x="296.65" y="278.90" width="9.90" height="11.60" fill="#d3eeee"/>
<rect x="307.84" y="278.90" width="9.90" height="11.60" fill="#d3eeee"/>
<rect x="319.03" y="278.90" width="9.90" height="11.60" fill="#d3eeee"/>
<rect x="330.22" y="278.90" width="9.90" height="11.60" fill="#d3eeee"/>
<rect x="341.41" y="278.90" width="9.90" height="11.60" fill="#d3eeee"/>
<rect x="352.60" y="278.90" width="9.90" height="11.60" fill="#d3eeee"/>
<rect x="363.79" y="278.90" width="9.90" height="11.60" fill="#d3eeee"/>
<rect x="374.98" y="278.90" width="9.90" height="11.60" fill="#d3eeee"/>
<rect x="386.17" y="278.90" width="9.90" height="11.60" fill="#d3eeee"/>
<rect x="397.36" y="278.90" width="9.90" height="11.60" fill="#d3eeee"/>
<rect x="408.55" y="278.90" width="9.90" height="11.60" fill="#d3eeee"/>
<rect x="419.74" y="278.90" width="9.90" height="11.60" fill="#d3eeee"/>
<rect x="430.93" y="278.90" width="9.90" height="11.60" fill="#d3eeee"/>
<circle cx="133.75" cy="284.70" r="4.5" fill="none" stroke="#333" stroke-width="1.0"/>
<circle cx="156.13" cy="284.70" r="4.5" fill="none" stroke="#333" stroke-width="1.0"/>
<circle cx="223.27" cy="284.70" r="4.5" fill="none" stroke="#333" stroke-width="1.0"/>
<circle cx="245.65" cy="284.70" r="4.5" fill="none" stroke="#333" stroke-width="1.0"/>
<circle cx="346.36" cy="284.70" r="4.5" fill="none" stroke="#333" stroke-width="1.0"/>
<circle cx="357.55" cy="284.70" r="4.5" fill="none" stroke="#333" stroke-width="1.0"/>
<circle cx="402.31" cy="284.70" r="4.5" fill="none" stroke="#333" stroke-width="1.0"/>
<circle cx="424.69" cy="284.70" r="4.5" fill="none" stroke="#333" stroke-width="1.0"/>
<circle cx="435.88" cy="284.70" r="4.5" fill="none" stroke="#333" stroke-width="1.0"/>
<text x="447.30" y="288.20" font-size="10.6" fill="#151515">scTCR-seq</text>
<rect x="128.80" y="293.50" width="9.90" height="11.60" fill="#d3eeee"/>
<rect x="139.99" y="293.50" width="9.90" height="11.60" fill="#d3eeee"/>
<rect x="151.18" y="293.50" width="9.90" height="11.60" fill="#d3eeee"/>
<rect x="162.37" y="293.50" width="9.90" height="11.60" fill="#d3eeee"/>
<rect x="173.56" y="293.50" width="9.90" height="11.60" fill="#d3eeee"/>
<rect x="184.75" y="293.50" width="9.90" height="11.60" fill="#d3eeee"/>
<rect x="195.94" y="293.50" width="9.90" height="11.60" fill="#d3eeee"/>
<rect x="207.13" y="293.50" width="9.90" height="11.60" fill="#d3eeee"/>
<rect x="218.32" y="293.50" width="9.90" height="11.60" fill="#d3eeee"/>
<rect x="229.51" y="293.50" width="9.90" height="11.60" fill="#d3eeee"/>
<rect x="240.70" y="293.50" width="9.90" height="11.60" fill="#d3eeee"/>
<rect x="251.89" y="293.50" width="9.90" height="11.60" fill="#d3eeee"/>
<rect x="263.08" y="293.50" width="9.90" height="11.60" fill="#d3eeee"/>
<rect x="274.27" y="293.50" width="9.90" height="11.60" fill="#d3eeee"/>
<rect x="285.46" y="293.50" width="9.90" height="11.60" fill="#d3eeee"/>
<rect x="296.65" y="293.50" width="9.90" height="11.60" fill="#d3eeee"/>
<rect x="307.84" y="293.50" width="9.90" height="11.60" fill="#d3eeee"/>
<rect x="319.03" y="293.50" width="9.90" height="11.60" fill="#d3eeee"/>
<rect x="330.22" y="293.50" width="9.90" height="11.60" fill="#d3eeee"/>
<rect x="341.41" y="293.50" width="9.90" height="11.60" fill="#d3eeee"/>
<rect x="352.60" y="293.50" width="9.90" height="11.60" fill="#d3eeee"/>
<rect x="363.79" y="293.50" width="9.90" height="11.60" fill="#d3eeee"/>
<rect x="374.98" y="293.50" width="9.90" height="11.60" fill="#d3eeee"/>
<rect x="386.17" y="293.50" width="9.90" height="11.60" fill="#d3eeee"/>
<rect x="397.36" y="293.50" width="9.90" height="11.60" fill="#d3eeee"/>
<rect x="408.55" y="293.50" width="9.90" height="11.60" fill="#d3eeee"/>
<rect x="419.74" y="293.50" width="9.90" height="11.60" fill="#d3eeee"/>
<rect x="430.93" y="293.50" width="9.90" height="11.60" fill="#d3eeee"/>
<circle cx="133.75" cy="299.30" r="4.5" fill="none" stroke="#333" stroke-width="1.0"/>
<circle cx="156.13" cy="299.30" r="4.5" fill="none" stroke="#333" stroke-width="1.0"/>
<circle cx="223.27" cy="299.30" r="4.5" fill="none" stroke="#333" stroke-width="1.0"/>
<circle cx="245.65" cy="299.30" r="4.5" fill="none" stroke="#333" stroke-width="1.0"/>
<circle cx="323.98" cy="299.30" r="4.5" fill="none" stroke="#333" stroke-width="1.0"/>
<circle cx="335.17" cy="299.30" r="4.5" fill="none" stroke="#333" stroke-width="1.0"/>
<circle cx="346.36" cy="299.30" r="4.5" fill="none" stroke="#333" stroke-width="1.0"/>
<circle cx="357.55" cy="299.30" r="4.5" fill="none" stroke="#333" stroke-width="1.0"/>
<circle cx="368.74" cy="299.30" r="4.5" fill="none" stroke="#333" stroke-width="1.0"/>
<circle cx="379.93" cy="299.30" r="4.5" fill="none" stroke="#333" stroke-width="1.0"/>
<circle cx="391.12" cy="299.30" r="4.5" fill="none" stroke="#333" stroke-width="1.0"/>
<circle cx="402.31" cy="299.30" r="4.5" fill="none" stroke="#333" stroke-width="1.0"/>
<circle cx="424.69" cy="299.30" r="4.5" fill="none" stroke="#333" stroke-width="1.0"/>
<text x="447.30" y="302.80" font-size="10.6" fill="#151515">bulk RNA-seq</text>
<rect x="128.80" y="308.10" width="9.90" height="11.60" fill="#d3eeee"/>
<rect x="139.99" y="308.10" width="9.90" height="11.60" fill="#d3eeee"/>
<rect x="151.18" y="308.10" width="9.90" height="11.60" fill="#d3eeee"/>
<rect x="162.37" y="308.10" width="9.90" height="11.60" fill="#d3eeee"/>
<rect x="173.56" y="308.10" width="9.90" height="11.60" fill="#d3eeee"/>
<rect x="184.75" y="308.10" width="9.90" height="11.60" fill="#d3eeee"/>
<rect x="195.94" y="308.10" width="9.90" height="11.60" fill="#d3eeee"/>
<rect x="207.13" y="308.10" width="9.90" height="11.60" fill="#d3eeee"/>
<rect x="218.32" y="308.10" width="9.90" height="11.60" fill="#d3eeee"/>
<rect x="229.51" y="308.10" width="9.90" height="11.60" fill="#d3eeee"/>
<rect x="240.70" y="308.10" width="9.90" height="11.60" fill="#d3eeee"/>
<rect x="251.89" y="308.10" width="9.90" height="11.60" fill="#d3eeee"/>
<rect x="263.08" y="308.10" width="9.90" height="11.60" fill="#d3eeee"/>
<rect x="274.27" y="308.10" width="9.90" height="11.60" fill="#d3eeee"/>
<rect x="285.46" y="308.10" width="9.90" height="11.60" fill="#d3eeee"/>
<rect x="296.65" y="308.10" width="9.90" height="11.60" fill="#d3eeee"/>
<rect x="307.84" y="308.10" width="9.90" height="11.60" fill="#d3eeee"/>
<rect x="319.03" y="308.10" width="9.90" height="11.60" fill="#d3eeee"/>
<rect x="330.22" y="308.10" width="9.90" height="11.60" fill="#d3eeee"/>
<rect x="341.41" y="308.10" width="9.90" height="11.60" fill="#d3eeee"/>
<rect x="352.60" y="308.10" width="9.90" height="11.60" fill="#d3eeee"/>
<rect x="363.79" y="308.10" width="9.90" height="11.60" fill="#d3eeee"/>
<rect x="374.98" y="308.10" width="9.90" height="11.60" fill="#d3eeee"/>
<rect x="386.17" y="308.10" width="9.90" height="11.60" fill="#d3eeee"/>
<rect x="397.36" y="308.10" width="9.90" height="11.60" fill="#d3eeee"/>
<rect x="408.55" y="308.10" width="9.90" height="11.60" fill="#d3eeee"/>
<rect x="419.74" y="308.10" width="9.90" height="11.60" fill="#d3eeee"/>
<rect x="430.93" y="308.10" width="9.90" height="11.60" fill="#d3eeee"/>
<circle cx="133.75" cy="313.90" r="4.5" fill="none" stroke="#333" stroke-width="1.0"/>
<circle cx="156.13" cy="313.90" r="4.5" fill="none" stroke="#333" stroke-width="1.0"/>
<circle cx="323.98" cy="313.90" r="4.5" fill="none" stroke="#333" stroke-width="1.0"/>
<circle cx="368.74" cy="313.90" r="4.5" fill="none" stroke="#333" stroke-width="1.0"/>
<circle cx="391.12" cy="313.90" r="4.5" fill="none" stroke="#333" stroke-width="1.0"/>
<text x="447.30" y="317.40" font-size="10.6" fill="#151515">IMC</text>
<rect x="128.80" y="331.20" width="9.90" height="11.60" fill="#d3eeee"/>
<rect x="139.99" y="331.20" width="9.90" height="11.60" fill="#d3eeee"/>
<rect x="151.18" y="331.20" width="9.90" height="11.60" fill="#d3eeee"/>
<rect x="162.37" y="331.20" width="9.90" height="11.60" fill="#d3eeee"/>
<rect x="173.56" y="331.20" width="9.90" height="11.60" fill="#d3eeee"/>
<rect x="184.75" y="331.20" width="9.90" height="11.60" fill="#d3eeee"/>
<rect x="195.94" y="331.20" width="9.90" height="11.60" fill="#d3eeee"/>
<rect x="207.13" y="331.20" width="9.90" height="11.60" fill="#d3eeee"/>
<rect x="218.32" y="331.20" width="9.90" height="11.60" fill="#d3eeee"/>
<rect x="229.51" y="331.20" width="9.90" height="11.60" fill="#d3eeee"/>
<rect x="240.70" y="331.20" width="9.90" height="11.60" fill="#d3eeee"/>
<rect x="251.89" y="331.20" width="9.90" height="11.60" fill="#d3eeee"/>
<rect x="263.08" y="331.20" width="9.90" height="11.60" fill="#d3eeee"/>
<rect x="274.27" y="331.20" width="9.90" height="11.60" fill="#d3eeee"/>
<rect x="285.46" y="331.20" width="9.90" height="11.60" fill="#d3eeee"/>
<rect x="296.65" y="331.20" width="9.90" height="11.60" fill="#d3eeee"/>
<rect x="307.84" y="331.20" width="9.90" height="11.60" fill="#d3eeee"/>
<rect x="319.03" y="331.20" width="9.90" height="11.60" fill="#d3eeee"/>
<rect x="330.22" y="331.20" width="9.90" height="11.60" fill="#d3eeee"/>
<rect x="341.41" y="331.20" width="9.90" height="11.60" fill="#d3eeee"/>
<rect x="352.60" y="331.20" width="9.90" height="11.60" fill="#d3eeee"/>
<rect x="363.79" y="331.20" width="9.90" height="11.60" fill="#d3eeee"/>
<rect x="374.98" y="331.20" width="9.90" height="11.60" fill="#d3eeee"/>
<rect x="386.17" y="331.20" width="9.90" height="11.60" fill="#d3eeee"/>
<rect x="397.36" y="331.20" width="9.90" height="11.60" fill="#d3eeee"/>
<rect x="408.55" y="331.20" width="9.90" height="11.60" fill="#d3eeee"/>
<rect x="419.74" y="331.20" width="9.90" height="11.60" fill="#d3eeee"/>
<rect x="430.93" y="331.20" width="9.90" height="11.60" fill="#d3eeee"/>
<circle cx="133.75" cy="337.00" r="4.5" fill="none" stroke="#333" stroke-width="1.0"/>
<circle cx="156.13" cy="337.00" r="4.5" fill="none" stroke="#333" stroke-width="1.0"/>
<circle cx="223.27" cy="337.00" r="4.5" fill="none" stroke="#333" stroke-width="1.0"/>
<circle cx="245.65" cy="337.00" r="4.5" fill="none" stroke="#333" stroke-width="1.0"/>
<circle cx="256.84" cy="337.00" r="4.5" fill="none" stroke="#333" stroke-width="1.0"/>
<circle cx="323.98" cy="337.00" r="4.5" fill="none" stroke="#333" stroke-width="1.0"/>
<circle cx="335.17" cy="337.00" r="4.5" fill="none" stroke="#333" stroke-width="1.0"/>
<circle cx="346.36" cy="337.00" r="4.5" fill="none" stroke="#333" stroke-width="1.0"/>
<circle cx="357.55" cy="337.00" r="4.5" fill="none" stroke="#333" stroke-width="1.0"/>
<circle cx="368.74" cy="337.00" r="4.5" fill="none" stroke="#333" stroke-width="1.0"/>
<circle cx="402.31" cy="337.00" r="4.5" fill="none" stroke="#333" stroke-width="1.0"/>
<circle cx="424.69" cy="337.00" r="4.5" fill="none" stroke="#333" stroke-width="1.0"/>
<circle cx="435.88" cy="337.00" r="4.5" fill="none" stroke="#333" stroke-width="1.0"/>
<text x="447.30" y="340.50" font-size="10.6" fill="#151515">bulk TCR</text>
<rect x="128.80" y="364.90" width="9.90" height="11.60" fill="#f0c6de"/>
<rect x="139.99" y="364.90" width="9.90" height="11.60" fill="#f0c6de"/>
<rect x="151.18" y="364.90" width="9.90" height="11.60" fill="#f0c6de"/>
<rect x="162.37" y="364.90" width="9.90" height="11.60" fill="#f0c6de"/>
<rect x="173.56" y="364.90" width="9.90" height="11.60" fill="#f0c6de"/>
<rect x="184.75" y="364.90" width="9.90" height="11.60" fill="#f0c6de"/>
<rect x="195.94" y="364.90" width="9.90" height="11.60" fill="#f0c6de"/>
<rect x="207.13" y="364.90" width="9.90" height="11.60" fill="#f0c6de"/>
<rect x="218.32" y="364.90" width="9.90" height="11.60" fill="#f0c6de"/>
<rect x="229.51" y="364.90" width="9.90" height="11.60" fill="#f0c6de"/>
<rect x="240.70" y="364.90" width="9.90" height="11.60" fill="#f0c6de"/>
<rect x="251.89" y="364.90" width="9.90" height="11.60" fill="#f0c6de"/>
<rect x="263.08" y="364.90" width="9.90" height="11.60" fill="#f0c6de"/>
<rect x="274.27" y="364.90" width="9.90" height="11.60" fill="#f0c6de"/>
<rect x="285.46" y="364.90" width="9.90" height="11.60" fill="#f0c6de"/>
<rect x="296.65" y="364.90" width="9.90" height="11.60" fill="#f0c6de"/>
<rect x="307.84" y="364.90" width="9.90" height="11.60" fill="#f0c6de"/>
<rect x="319.03" y="364.90" width="9.90" height="11.60" fill="#f0c6de"/>
<rect x="330.22" y="364.90" width="9.90" height="11.60" fill="#f0c6de"/>
<rect x="341.41" y="364.90" width="9.90" height="11.60" fill="#f0c6de"/>
<rect x="352.60" y="364.90" width="9.90" height="11.60" fill="#f0c6de"/>
<rect x="363.79" y="364.90" width="9.90" height="11.60" fill="#f0c6de"/>
<rect x="374.98" y="364.90" width="9.90" height="11.60" fill="#f0c6de"/>
<rect x="386.17" y="364.90" width="9.90" height="11.60" fill="#f0c6de"/>
<rect x="397.36" y="364.90" width="9.90" height="11.60" fill="#f0c6de"/>
<rect x="408.55" y="364.90" width="9.90" height="11.60" fill="#f0c6de"/>
<rect x="419.74" y="364.90" width="9.90" height="11.60" fill="#f0c6de"/>
<rect x="430.93" y="364.90" width="9.90" height="11.60" fill="#f0c6de"/>
<circle cx="133.75" cy="370.70" r="4.5" fill="none" stroke="#333" stroke-width="1.0"/>
<circle cx="156.13" cy="370.70" r="4.5" fill="none" stroke="#333" stroke-width="1.0"/>
<circle cx="178.51" cy="370.70" r="4.5" fill="none" stroke="#333" stroke-width="1.0"/>
<circle cx="223.27" cy="370.70" r="4.5" fill="none" stroke="#333" stroke-width="1.0"/>
<circle cx="245.65" cy="370.70" r="4.5" fill="none" stroke="#333" stroke-width="1.0"/>
<circle cx="256.84" cy="370.70" r="4.5" fill="none" stroke="#333" stroke-width="1.0"/>
<circle cx="323.98" cy="370.70" r="4.5" fill="none" stroke="#333" stroke-width="1.0"/>
<circle cx="335.17" cy="370.70" r="4.5" fill="none" stroke="#333" stroke-width="1.0"/>
<circle cx="346.36" cy="370.70" r="4.5" fill="none" stroke="#333" stroke-width="1.0"/>
<circle cx="357.55" cy="370.70" r="4.5" fill="none" stroke="#333" stroke-width="1.0"/>
<circle cx="368.74" cy="370.70" r="4.5" fill="none" stroke="#333" stroke-width="1.0"/>
<circle cx="391.12" cy="370.70" r="4.5" fill="none" stroke="#333" stroke-width="1.0"/>
<circle cx="402.31" cy="370.70" r="4.5" fill="none" stroke="#333" stroke-width="1.0"/>
<circle cx="424.69" cy="370.70" r="4.5" fill="none" stroke="#333" stroke-width="1.0"/>
<circle cx="435.88" cy="370.70" r="4.5" fill="none" stroke="#333" stroke-width="1.0"/>
<text x="447.30" y="374.20" font-size="10.6" fill="#151515">scRNA-seq</text>
<rect x="128.80" y="380.20" width="9.90" height="11.60" fill="#f0c6de"/>
<rect x="139.99" y="380.20" width="9.90" height="11.60" fill="#f0c6de"/>
<rect x="151.18" y="380.20" width="9.90" height="11.60" fill="#f0c6de"/>
<rect x="162.37" y="380.20" width="9.90" height="11.60" fill="#f0c6de"/>
<rect x="173.56" y="380.20" width="9.90" height="11.60" fill="#f0c6de"/>
<rect x="184.75" y="380.20" width="9.90" height="11.60" fill="#f0c6de"/>
<rect x="195.94" y="380.20" width="9.90" height="11.60" fill="#f0c6de"/>
<rect x="207.13" y="380.20" width="9.90" height="11.60" fill="#f0c6de"/>
<rect x="218.32" y="380.20" width="9.90" height="11.60" fill="#f0c6de"/>
<rect x="229.51" y="380.20" width="9.90" height="11.60" fill="#f0c6de"/>
<rect x="240.70" y="380.20" width="9.90" height="11.60" fill="#f0c6de"/>
<rect x="251.89" y="380.20" width="9.90" height="11.60" fill="#f0c6de"/>
<rect x="263.08" y="380.20" width="9.90" height="11.60" fill="#f0c6de"/>
<rect x="274.27" y="380.20" width="9.90" height="11.60" fill="#f0c6de"/>
<rect x="285.46" y="380.20" width="9.90" height="11.60" fill="#f0c6de"/>
<rect x="296.65" y="380.20" width="9.90" height="11.60" fill="#f0c6de"/>
<rect x="307.84" y="380.20" width="9.90" height="11.60" fill="#f0c6de"/>
<rect x="319.03" y="380.20" width="9.90" height="11.60" fill="#f0c6de"/>
<rect x="330.22" y="380.20" width="9.90" height="11.60" fill="#f0c6de"/>
<rect x="341.41" y="380.20" width="9.90" height="11.60" fill="#f0c6de"/>
<rect x="352.60" y="380.20" width="9.90" height="11.60" fill="#f0c6de"/>
<rect x="363.79" y="380.20" width="9.90" height="11.60" fill="#f0c6de"/>
<rect x="374.98" y="380.20" width="9.90" height="11.60" fill="#f0c6de"/>
<rect x="386.17" y="380.20" width="9.90" height="11.60" fill="#f0c6de"/>
<rect x="397.36" y="380.20" width="9.90" height="11.60" fill="#f0c6de"/>
<rect x="408.55" y="380.20" width="9.90" height="11.60" fill="#f0c6de"/>
<rect x="419.74" y="380.20" width="9.90" height="11.60" fill="#f0c6de"/>
<rect x="430.93" y="380.20" width="9.90" height="11.60" fill="#f0c6de"/>
<circle cx="133.75" cy="386.00" r="4.5" fill="none" stroke="#333" stroke-width="1.0"/>
<circle cx="156.13" cy="386.00" r="4.5" fill="none" stroke="#333" stroke-width="1.0"/>
<circle cx="223.27" cy="386.00" r="4.5" fill="none" stroke="#333" stroke-width="1.0"/>
<circle cx="245.65" cy="386.00" r="4.5" fill="none" stroke="#333" stroke-width="1.0"/>
<circle cx="346.36" cy="386.00" r="4.5" fill="none" stroke="#333" stroke-width="1.0"/>
<circle cx="357.55" cy="386.00" r="4.5" fill="none" stroke="#333" stroke-width="1.0"/>
<circle cx="402.31" cy="386.00" r="4.5" fill="none" stroke="#333" stroke-width="1.0"/>
<circle cx="424.69" cy="386.00" r="4.5" fill="none" stroke="#333" stroke-width="1.0"/>
<circle cx="435.88" cy="386.00" r="4.5" fill="none" stroke="#333" stroke-width="1.0"/>
<text x="447.30" y="389.50" font-size="10.6" fill="#151515">scTCR-seq</text>
<rect x="128.80" y="395.40" width="9.90" height="11.60" fill="#f0c6de"/>
<rect x="139.99" y="395.40" width="9.90" height="11.60" fill="#f0c6de"/>
<rect x="151.18" y="395.40" width="9.90" height="11.60" fill="#f0c6de"/>
<rect x="162.37" y="395.40" width="9.90" height="11.60" fill="#f0c6de"/>
<rect x="173.56" y="395.40" width="9.90" height="11.60" fill="#f0c6de"/>
<rect x="184.75" y="395.40" width="9.90" height="11.60" fill="#f0c6de"/>
<rect x="195.94" y="395.40" width="9.90" height="11.60" fill="#f0c6de"/>
<rect x="207.13" y="395.40" width="9.90" height="11.60" fill="#f0c6de"/>
<rect x="218.32" y="395.40" width="9.90" height="11.60" fill="#f0c6de"/>
<rect x="229.51" y="395.40" width="9.90" height="11.60" fill="#f0c6de"/>
<rect x="240.70" y="395.40" width="9.90" height="11.60" fill="#f0c6de"/>
<rect x="251.89" y="395.40" width="9.90" height="11.60" fill="#f0c6de"/>
<rect x="263.08" y="395.40" width="9.90" height="11.60" fill="#f0c6de"/>
<rect x="274.27" y="395.40" width="9.90" height="11.60" fill="#f0c6de"/>
<rect x="285.46" y="395.40" width="9.90" height="11.60" fill="#f0c6de"/>
<rect x="296.65" y="395.40" width="9.90" height="11.60" fill="#f0c6de"/>
<rect x="307.84" y="395.40" width="9.90" height="11.60" fill="#f0c6de"/>
<rect x="319.03" y="395.40" width="9.90" height="11.60" fill="#f0c6de"/>
<rect x="330.22" y="395.40" width="9.90" height="11.60" fill="#f0c6de"/>
<rect x="341.41" y="395.40" width="9.90" height="11.60" fill="#f0c6de"/>
<rect x="352.60" y="395.40" width="9.90" height="11.60" fill="#f0c6de"/>
<rect x="363.79" y="395.40" width="9.90" height="11.60" fill="#f0c6de"/>
<rect x="374.98" y="395.40" width="9.90" height="11.60" fill="#f0c6de"/>
<rect x="386.17" y="395.40" width="9.90" height="11.60" fill="#f0c6de"/>
<rect x="397.36" y="395.40" width="9.90" height="11.60" fill="#f0c6de"/>
<rect x="408.55" y="395.40" width="9.90" height="11.60" fill="#f0c6de"/>
<rect x="419.74" y="395.40" width="9.90" height="11.60" fill="#f0c6de"/>
<rect x="430.93" y="395.40" width="9.90" height="11.60" fill="#f0c6de"/>
<circle cx="133.75" cy="401.20" r="4.5" fill="none" stroke="#333" stroke-width="1.0"/>
<circle cx="156.13" cy="401.20" r="4.5" fill="none" stroke="#333" stroke-width="1.0"/>
<circle cx="223.27" cy="401.20" r="4.5" fill="none" stroke="#333" stroke-width="1.0"/>
<circle cx="245.65" cy="401.20" r="4.5" fill="none" stroke="#333" stroke-width="1.0"/>
<circle cx="279.22" cy="401.20" r="4.5" fill="none" stroke="#333" stroke-width="1.0"/>
<circle cx="323.98" cy="401.20" r="4.5" fill="none" stroke="#333" stroke-width="1.0"/>
<circle cx="357.55" cy="401.20" r="4.5" fill="none" stroke="#333" stroke-width="1.0"/>
<circle cx="368.74" cy="401.20" r="4.5" fill="none" stroke="#333" stroke-width="1.0"/>
<circle cx="379.93" cy="401.20" r="4.5" fill="none" stroke="#333" stroke-width="1.0"/>
<circle cx="424.69" cy="401.20" r="4.5" fill="none" stroke="#333" stroke-width="1.0"/>
<circle cx="435.88" cy="401.20" r="4.5" fill="none" stroke="#333" stroke-width="1.0"/>
<text x="447.30" y="404.70" font-size="10.6" fill="#151515">bulk RNA-seq</text>
<rect x="128.80" y="410.40" width="9.90" height="11.60" fill="#f0c6de"/>
<rect x="139.99" y="410.40" width="9.90" height="11.60" fill="#f0c6de"/>
<rect x="151.18" y="410.40" width="9.90" height="11.60" fill="#f0c6de"/>
<rect x="162.37" y="410.40" width="9.90" height="11.60" fill="#f0c6de"/>
<rect x="173.56" y="410.40" width="9.90" height="11.60" fill="#f0c6de"/>
<rect x="184.75" y="410.40" width="9.90" height="11.60" fill="#f0c6de"/>
<rect x="195.94" y="410.40" width="9.90" height="11.60" fill="#f0c6de"/>
<rect x="207.13" y="410.40" width="9.90" height="11.60" fill="#f0c6de"/>
<rect x="218.32" y="410.40" width="9.90" height="11.60" fill="#f0c6de"/>
<rect x="229.51" y="410.40" width="9.90" height="11.60" fill="#f0c6de"/>
<rect x="240.70" y="410.40" width="9.90" height="11.60" fill="#f0c6de"/>
<rect x="251.89" y="410.40" width="9.90" height="11.60" fill="#f0c6de"/>
<rect x="263.08" y="410.40" width="9.90" height="11.60" fill="#f0c6de"/>
<rect x="274.27" y="410.40" width="9.90" height="11.60" fill="#f0c6de"/>
<rect x="285.46" y="410.40" width="9.90" height="11.60" fill="#f0c6de"/>
<rect x="296.65" y="410.40" width="9.90" height="11.60" fill="#f0c6de"/>
<rect x="307.84" y="410.40" width="9.90" height="11.60" fill="#f0c6de"/>
<rect x="319.03" y="410.40" width="9.90" height="11.60" fill="#f0c6de"/>
<rect x="330.22" y="410.40" width="9.90" height="11.60" fill="#f0c6de"/>
<rect x="341.41" y="410.40" width="9.90" height="11.60" fill="#f0c6de"/>
<rect x="352.60" y="410.40" width="9.90" height="11.60" fill="#f0c6de"/>
<rect x="363.79" y="410.40" width="9.90" height="11.60" fill="#f0c6de"/>
<rect x="374.98" y="410.40" width="9.90" height="11.60" fill="#f0c6de"/>
<rect x="386.17" y="410.40" width="9.90" height="11.60" fill="#f0c6de"/>
<rect x="397.36" y="410.40" width="9.90" height="11.60" fill="#f0c6de"/>
<rect x="408.55" y="410.40" width="9.90" height="11.60" fill="#f0c6de"/>
<rect x="419.74" y="410.40" width="9.90" height="11.60" fill="#f0c6de"/>
<rect x="430.93" y="410.40" width="9.90" height="11.60" fill="#f0c6de"/>
<circle cx="133.75" cy="416.20" r="4.5" fill="none" stroke="#333" stroke-width="1.0"/>
<circle cx="156.13" cy="416.20" r="4.5" fill="none" stroke="#333" stroke-width="1.0"/>
<circle cx="323.98" cy="416.20" r="4.5" fill="none" stroke="#333" stroke-width="1.0"/>
<circle cx="368.74" cy="416.20" r="4.5" fill="none" stroke="#333" stroke-width="1.0"/>
<circle cx="391.12" cy="416.20" r="4.5" fill="none" stroke="#333" stroke-width="1.0"/>
<text x="447.30" y="419.70" font-size="10.6" fill="#151515">IMC</text>
<rect x="128.80" y="433.90" width="9.90" height="11.60" fill="#f0c6de"/>
<rect x="139.99" y="433.90" width="9.90" height="11.60" fill="#f0c6de"/>
<rect x="151.18" y="433.90" width="9.90" height="11.60" fill="#f0c6de"/>
<rect x="162.37" y="433.90" width="9.90" height="11.60" fill="#f0c6de"/>
<rect x="173.56" y="433.90" width="9.90" height="11.60" fill="#f0c6de"/>
<rect x="184.75" y="433.90" width="9.90" height="11.60" fill="#f0c6de"/>
<rect x="195.94" y="433.90" width="9.90" height="11.60" fill="#f0c6de"/>
<rect x="207.13" y="433.90" width="9.90" height="11.60" fill="#f0c6de"/>
<rect x="218.32" y="433.90" width="9.90" height="11.60" fill="#f0c6de"/>
<rect x="229.51" y="433.90" width="9.90" height="11.60" fill="#f0c6de"/>
<rect x="240.70" y="433.90" width="9.90" height="11.60" fill="#f0c6de"/>
<rect x="251.89" y="433.90" width="9.90" height="11.60" fill="#f0c6de"/>
<rect x="263.08" y="433.90" width="9.90" height="11.60" fill="#f0c6de"/>
<rect x="274.27" y="433.90" width="9.90" height="11.60" fill="#f0c6de"/>
<rect x="285.46" y="433.90" width="9.90" height="11.60" fill="#f0c6de"/>
<rect x="296.65" y="433.90" width="9.90" height="11.60" fill="#f0c6de"/>
<rect x="307.84" y="433.90" width="9.90" height="11.60" fill="#f0c6de"/>
<rect x="319.03" y="433.90" width="9.90" height="11.60" fill="#f0c6de"/>
<rect x="330.22" y="433.90" width="9.90" height="11.60" fill="#f0c6de"/>
<rect x="341.41" y="433.90" width="9.90" height="11.60" fill="#f0c6de"/>
<rect x="352.60" y="433.90" width="9.90" height="11.60" fill="#f0c6de"/>
<rect x="363.79" y="433.90" width="9.90" height="11.60" fill="#f0c6de"/>
<rect x="374.98" y="433.90" width="9.90" height="11.60" fill="#f0c6de"/>
<rect x="386.17" y="433.90" width="9.90" height="11.60" fill="#f0c6de"/>
<rect x="397.36" y="433.90" width="9.90" height="11.60" fill="#f0c6de"/>
<rect x="408.55" y="433.90" width="9.90" height="11.60" fill="#f0c6de"/>
<rect x="419.74" y="433.90" width="9.90" height="11.60" fill="#f0c6de"/>
<rect x="430.93" y="433.90" width="9.90" height="11.60" fill="#f0c6de"/>
<circle cx="133.75" cy="439.70" r="4.5" fill="none" stroke="#333" stroke-width="1.0"/>
<circle cx="156.13" cy="439.70" r="4.5" fill="none" stroke="#333" stroke-width="1.0"/>
<circle cx="223.27" cy="439.70" r="4.5" fill="none" stroke="#333" stroke-width="1.0"/>
<circle cx="245.65" cy="439.70" r="4.5" fill="none" stroke="#333" stroke-width="1.0"/>
<circle cx="256.84" cy="439.70" r="4.5" fill="none" stroke="#333" stroke-width="1.0"/>
<circle cx="323.98" cy="439.70" r="4.5" fill="none" stroke="#333" stroke-width="1.0"/>
<circle cx="335.17" cy="439.70" r="4.5" fill="none" stroke="#333" stroke-width="1.0"/>
<circle cx="346.36" cy="439.70" r="4.5" fill="none" stroke="#333" stroke-width="1.0"/>
<circle cx="357.55" cy="439.70" r="4.5" fill="none" stroke="#333" stroke-width="1.0"/>
<circle cx="368.74" cy="439.70" r="4.5" fill="none" stroke="#333" stroke-width="1.0"/>
<circle cx="402.31" cy="439.70" r="4.5" fill="none" stroke="#333" stroke-width="1.0"/>
<circle cx="424.69" cy="439.70" r="4.5" fill="none" stroke="#333" stroke-width="1.0"/>
<circle cx="435.88" cy="439.70" r="4.5" fill="none" stroke="#333" stroke-width="1.0"/>
<text x="447.30" y="443.20" font-size="10.6" fill="#151515">bulk TCR</text>
<line x1="122.50" y1="148.00" x2="122.50" y2="213.00" stroke="#444" stroke-width="0.9"/>
<line x1="122.50" y1="265.00" x2="122.50" y2="314.00" stroke="#444" stroke-width="0.9"/>
<line x1="122.50" y1="366.00" x2="122.50" y2="417.00" stroke="#444" stroke-width="0.9"/>
<g transform="translate(29.7,169.5) scale(1.0,1)"><path d="M1.5,10 C3,4 8,1.5 15,1 C19,0.5 22,0.5 23,1.5 C25,6 25.5,14 25.5,21.5 C23,24 18,25.5 12,27 C8,28.5 5,32 1.5,33 C0,30 0,22 0,17 C0,14 0.5,12 1.5,10 Z" fill="#c58b79" stroke="#9b6151" stroke-width="0.8"/><path d="M26.5,1.5 C28,0 31,0 33,0.6 C38,1.5 44,1 49.5,1 C51.5,1.5 51.5,4 50.5,5.5 C48,9 45,12 38,17 C34,19 30,20 27,20 C26.5,14 26,7 26.5,1.5 Z" fill="#c58b79" stroke="#9b6151" stroke-width="0.8"/><path d="M9.5,13 C10,10 13,9.5 15,10.5 C17.5,10 19.5,12 19,14.5 C19.5,17 17.5,19.5 15,19 C12.5,20 10,19 9.5,16.5 C8.5,15.5 9,14 9.5,13 Z" fill="#efd6cd" stroke="#a86e5e" stroke-width="0.5"/><path d="M31.5,8.5 C32.5,7 35,7 36,8.5 C37,10 36,12 34,12.3 C32,12.5 31,10.5 31.5,8.5 Z" fill="#efd6cd" stroke="#a86e5e" stroke-width="0.4"/></g>
<g transform="translate(30.2,275.2) scale(1.0,1)"><path d="M1.5,10 C3,4 8,1.5 15,1 C19,0.5 22,0.5 23,1.5 C25,6 25.5,14 25.5,21.5 C23,24 18,25.5 12,27 C8,28.5 5,32 1.5,33 C0,30 0,22 0,17 C0,14 0.5,12 1.5,10 Z" fill="#c58b79" stroke="#9b6151" stroke-width="0.8"/><path d="M26.5,1.5 C28,0 31,0 33,0.6 C38,1.5 44,1 49.5,1 C51.5,1.5 51.5,4 50.5,5.5 C48,9 45,12 38,17 C34,19 30,20 27,20 C26.5,14 26,7 26.5,1.5 Z" fill="#c58b79" stroke="#9b6151" stroke-width="0.8"/><path d="M10,12.5 C11,10 14,10 16,11 C18.5,10.5 20,13 19.5,15 C20,17.5 17.5,19.5 15,19 C12.5,19.5 10,18.5 10,16.5 C9,15 9.5,13.5 10,12.5 Z" fill="#86b8e4" stroke="#4d80bd" stroke-width="0.5"/><path d="M32.5,7.5 C33.5,6 36,6 37,7.5 C38,9 37,11 35,11.3 C33,11.5 32,9.5 32.5,7.5 Z" fill="#efd6cd" stroke="#a86e5e" stroke-width="0.4"/></g>
<g transform="translate(28.8,390.2) scale(0.95,1)"><path d="M1.5,10 C3,4 8,1.5 15,1 C19,0.5 22,0.5 23,1.5 C25,6 25.5,14 25.5,21.5 C23,24 18,25.5 12,27 C8,28.5 5,32 1.5,33 C0,30 0,22 0,17 C0,14 0.5,12 1.5,10 Z" fill="#c58b79" stroke="#9b6151" stroke-width="0.8"/><path d="M26.5,1.5 C28,0 31,0 33,0.6 C38,1.5 44,1 49.5,1 C51.5,1.5 51.5,4 50.5,5.5 C48,9 45,12 38,17 C34,19 30,20 27,20 C26.5,14 26,7 26.5,1.5 Z" fill="#c58b79" stroke="#9b6151" stroke-width="0.8"/><path d="M6,15 C8,12 11,13 13,12.5 C16,12 19,12.5 21,14.5 C22.5,16.5 21,19 18,20 C15,21.5 11,21 8.5,20.5 C5.5,20 5,17 6,15 Z" fill="#3f86cf" stroke="#2b5f9f" stroke-width="0.5"/><path d="M10,16 C12,14.5 15,15 17,16" fill="none" stroke="#2b5f9f" stroke-width="0.5"/><path d="M32.2,8 C33.2,6.5 35.7,6.5 36.7,8 C37.7,9.5 36.7,11.5 34.7,11.8 C32.7,12 31.7,10 32.2,8 Z" fill="#efd6cd" stroke="#a86e5e" stroke-width="0.4"/></g>
<line x1="23.20" y1="274.90" x2="42.10" y2="288.90" stroke="#333" stroke-width="1.6"/>
<line x1="23.20" y1="274.90" x2="42.10" y2="288.90" stroke="#bbb" stroke-width="0.5" stroke-dasharray="0.8,1.2"/>
<line x1="63.70" y1="177.50" x2="83.30" y2="159.80" stroke="#888" stroke-width="0.7"/><g transform="translate(83.3,159.8) rotate(-42.1)"><circle cx="12" cy="-5" r="3.4" fill="#fff" stroke="#999" stroke-width="0.6" stroke-dasharray="1,0.8"/><circle cx="13" cy="5" r="3.4" fill="#fff" stroke="#999" stroke-width="0.6" stroke-dasharray="1,0.8"/><rect x="0" y="-2.1" width="17" height="4.2" rx="1.8" fill="#7fc6a9" stroke="#4a8a78" stroke-width="0.5"/><line x1="17" y1="0" x2="20" y2="0" stroke="#888" stroke-width="0.8"/></g>
<line x1="65.50" y1="283.30" x2="82.20" y2="265.70" stroke="#888" stroke-width="0.7"/><g transform="translate(82.2,265.7) rotate(-46.5)"><circle cx="12" cy="-5" r="3.4" fill="#fff" stroke="#999" stroke-width="0.6" stroke-dasharray="1,0.8"/><circle cx="13" cy="5" r="3.4" fill="#fff" stroke="#999" stroke-width="0.6" stroke-dasharray="1,0.8"/><rect x="0" y="-2.1" width="17" height="4.2" rx="1.8" fill="#7fc6a9" stroke="#4a8a78" stroke-width="0.5"/><line x1="17" y1="0" x2="20" y2="0" stroke="#888" stroke-width="0.8"/></g>
<line x1="62.80" y1="399.90" x2="78.70" y2="380.90" stroke="#888" stroke-width="0.7"/><g transform="translate(78.7,380.9) rotate(-50.1)"><circle cx="12" cy="-5" r="3.4" fill="#fff" stroke="#999" stroke-width="0.6" stroke-dasharray="1,0.8"/><circle cx="13" cy="5" r="3.4" fill="#fff" stroke="#999" stroke-width="0.6" stroke-dasharray="1,0.8"/><rect x="0" y="-2.1" width="17" height="4.2" rx="1.8" fill="#7fc6a9" stroke="#4a8a78" stroke-width="0.5"/><line x1="17" y1="0" x2="20" y2="0" stroke="#888" stroke-width="0.8"/></g>
<line x1="85" y1="180.5" x2="111" y2="180.5" stroke="#b22222" stroke-width="1.3"/><path d="M109,177.7 L115,180.5 L109,183.3 Z" fill="#b22222"/>
<line x1="87" y1="286.8" x2="113" y2="286.8" stroke="#b22222" stroke-width="1.3"/><path d="M111,284.0 L117,286.8 L111,289.6 Z" fill="#b22222"/>
<line x1="85" y1="400" x2="111" y2="400" stroke="#b22222" stroke-width="1.3"/><path d="M109,397.2 L115,400 L109,402.8 Z" fill="#b22222"/>
<text x="8.70" y="153.60" font-size="8.3" fill="#151515">Target lesion</text>
<line x1="52.50" y1="155.50" x2="63.50" y2="178.00" stroke="#222" stroke-width="0.8"/>
<text x="87.00" y="200.00" font-size="8.0" fill="#151515" text-anchor="middle">Baseline</text>
<text x="87.00" y="209.50" font-size="8.0" fill="#151515" text-anchor="middle">biopsy</text>
<text x="3.00" y="270.00" font-size="8.4" fill="#151515">Cryoablated</text>
<text x="72.50" y="308.60" font-size="8.0" fill="#151515" text-anchor="middle">2 Weeks</text>
<text x="73.40" y="318.00" font-size="8.4" fill="#151515" text-anchor="middle">after cryoablation</text>
<text x="79.70" y="419.00" font-size="8.0" fill="#151515" text-anchor="middle">6 Weeks</text>
<text x="79.40" y="428.70" font-size="8.4" fill="#151515" text-anchor="middle">after lenva+sinti</text>
<rect x="3.5" y="234.3" width="55.5" height="18" fill="#fff" stroke="#2b3a9e" stroke-width="1.1"/>
<text x="31.30" y="246.50" font-size="8.5" fill="#3b4cb0" text-anchor="middle">Cryoablation</text>
<rect x="1" y="337" width="56.5" height="40.5" fill="#fff" stroke="#2b3a9e" stroke-width="1.1"/>
<text x="29.50" y="350.50" font-size="8.5" fill="#3b4cb0" text-anchor="middle">lenvatinib</text>
<text x="29.50" y="359.80" font-size="8.5" fill="#3b4cb0" text-anchor="middle">+ sintilimab</text>
<text x="29.50" y="369.20" font-size="8.5" fill="#3b4cb0" text-anchor="middle">(lenva + sint)</text>
<line x1="63.3" y1="231.5" x2="63.3" y2="261" stroke="#1d2d9a" stroke-width="1.6"/><path d="M59.9,259 L63.3,266 L66.7,259 Z" fill="#1d2d9a"/>
<line x1="63.8" y1="340" x2="63.8" y2="368" stroke="#1d2d9a" stroke-width="1.6"/><path d="M60.4,366 L63.8,373 L67.2,366 Z" fill="#1d2d9a"/>
<g transform="translate(119.5,230.5) rotate(30)"><rect x="-2" y="-0.5" width="4" height="17" rx="2" fill="#b01e2a"/><rect x="-1.9" y="-4" width="3.8" height="4" rx="0.8" fill="#1e6f86"/><rect x="-1.6" y="0" width="3.2" height="2" fill="#fff"/></g>
<g transform="translate(119.5,331.5) rotate(30)"><rect x="-2" y="-0.5" width="4" height="17" rx="2" fill="#b01e2a"/><rect x="-1.9" y="-4" width="3.8" height="4" rx="0.8" fill="#1e6f86"/><rect x="-1.6" y="0" width="3.2" height="2" fill="#fff"/></g>
<g transform="translate(121,437.5) rotate(30)"><rect x="-2" y="-0.5" width="4" height="17" rx="2" fill="#b01e2a"/><rect x="-1.9" y="-4" width="3.8" height="4" rx="0.8" fill="#1e6f86"/><rect x="-1.6" y="0" width="3.2" height="2" fill="#fff"/></g>
<text x="533.00" y="18.50" font-size="26" fill="#151515" font-weight="bold">b</text>
<rect x="535.90" y="24.50" width="8.38" height="10.90" fill="#66aa99"/>
<rect x="545.08" y="24.50" width="8.38" height="10.90" fill="#66aa99"/>
<rect x="554.26" y="24.50" width="8.38" height="10.90" fill="#66aa99"/>
<rect x="563.44" y="24.50" width="8.38" height="10.90" fill="#9ccfe0"/>
<rect x="572.62" y="24.50" width="8.38" height="10.90" fill="#66aa99"/>
<rect x="581.80" y="24.50" width="8.38" height="10.90" fill="#66aa99"/>
<rect x="590.98" y="24.50" width="8.38" height="10.90" fill="#66aa99"/>
<rect x="600.16" y="24.50" width="8.38" height="10.90" fill="#66aa99"/>
<rect x="609.34" y="24.50" width="8.38" height="10.90" fill="#ea906f"/>
<rect x="618.52" y="24.50" width="8.38" height="10.90" fill="#66aa99"/>
<rect x="627.70" y="24.50" width="8.38" height="10.90" fill="#9ccfe0"/>
<rect x="636.88" y="24.50" width="8.38" height="10.90" fill="#66aa99"/>
<rect x="646.06" y="24.50" width="8.38" height="10.90" fill="#9ccfe0"/>
<rect x="655.24" y="24.50" width="8.38" height="10.90" fill="#9ccfe0"/>
<rect x="664.42" y="24.50" width="8.38" height="10.90" fill="#66aa99"/>
<rect x="673.60" y="24.50" width="8.38" height="10.90" fill="#66aa99"/>
<rect x="682.78" y="24.50" width="8.38" height="10.90" fill="#66aa99"/>
<rect x="691.96" y="24.50" width="8.38" height="10.90" fill="#66aa99"/>
<rect x="701.14" y="24.50" width="8.38" height="10.90" fill="#66aa99"/>
<rect x="710.32" y="24.50" width="8.38" height="10.90" fill="#9ccfe0"/>
<rect x="719.50" y="24.50" width="8.38" height="10.90" fill="#66aa99"/>
<rect x="728.68" y="24.50" width="8.38" height="10.90" fill="#9ccfe0"/>
<rect x="737.86" y="24.50" width="8.38" height="10.90" fill="#66aa99"/>
<rect x="747.04" y="24.50" width="8.38" height="10.90" fill="#9ccfe0"/>
<rect x="756.22" y="24.50" width="8.38" height="10.90" fill="#66aa99"/>
<text x="771.00" y="33.20" font-size="7.9" fill="#151515">Response</text>
<rect x="535.50" y="40.00" width="9.18" height="9.57" fill="#d6e1a4"/>
<rect x="544.68" y="40.00" width="9.18" height="9.57" fill="#f26c3b"/>
<rect x="553.86" y="40.00" width="9.18" height="9.57" fill="#3e80c7"/>
<rect x="563.04" y="40.00" width="9.18" height="9.57" fill="#fdcc34"/>
<rect x="572.22" y="49.57" width="9.18" height="9.57" fill="#edc5cd"/>
<rect x="581.40" y="49.57" width="9.18" height="9.57" fill="#edc5cd"/>
<rect x="590.58" y="49.57" width="9.18" height="9.57" fill="#3e80c7"/>
<rect x="599.76" y="49.57" width="9.18" height="9.57" fill="#3e80c7"/>
<rect x="572.22" y="59.14" width="9.18" height="9.57" fill="#3e80c7"/>
<rect x="581.40" y="59.14" width="9.18" height="9.57" fill="#fdcc34"/>
<rect x="590.58" y="59.14" width="9.18" height="9.57" fill="#1d9a8a"/>
<rect x="535.50" y="68.71" width="9.18" height="9.57" fill="#fdcc34"/>
<rect x="599.76" y="68.71" width="9.18" height="9.57" fill="#d6e1a4"/>
<rect x="608.94" y="68.71" width="9.18" height="9.57" fill="#3e80c7"/>
<rect x="572.22" y="78.28" width="9.18" height="9.57" fill="#3e80c7"/>
<rect x="608.94" y="78.28" width="9.18" height="9.57" fill="#3e80c7"/>
<rect x="618.12" y="78.28" width="9.18" height="9.57" fill="#3e80c7"/>
<rect x="618.12" y="87.85" width="9.18" height="9.57" fill="#3e80c7"/>
<rect x="627.30" y="87.85" width="9.18" height="9.57" fill="#3e80c7"/>
<rect x="608.94" y="97.42" width="9.18" height="9.57" fill="#3e80c7"/>
<rect x="636.48" y="97.42" width="9.18" height="9.57" fill="#3e80c7"/>
<rect x="572.22" y="106.99" width="9.18" height="9.57" fill="#fdcc34"/>
<rect x="645.66" y="106.99" width="9.18" height="9.57" fill="#3e80c7"/>
<rect x="581.40" y="116.56" width="9.18" height="9.57" fill="#3e80c7"/>
<rect x="618.12" y="116.56" width="9.18" height="9.57" fill="#3e80c7"/>
<rect x="572.22" y="126.13" width="9.18" height="9.57" fill="#fdcc34"/>
<rect x="654.84" y="126.13" width="9.18" height="9.57" fill="#3e80c7"/>
<rect x="581.40" y="135.70" width="9.18" height="9.57" fill="#3e80c7"/>
<rect x="645.66" y="135.70" width="9.18" height="9.57" fill="#fdcc34"/>
<rect x="572.22" y="145.27" width="9.18" height="9.57" fill="#3e80c7"/>
<rect x="581.40" y="145.27" width="9.18" height="9.57" fill="#3e80c7"/>
<rect x="535.50" y="154.84" width="9.18" height="9.57" fill="#3e80c7"/>
<rect x="664.02" y="154.84" width="9.18" height="9.57" fill="#3e80c7"/>
<rect x="572.22" y="164.41" width="9.18" height="9.57" fill="#3e80c7"/>
<rect x="627.30" y="164.41" width="9.18" height="9.57" fill="#3e80c7"/>
<rect x="544.68" y="173.98" width="9.18" height="9.57" fill="#f26c3b"/>
<rect x="572.22" y="183.55" width="9.18" height="9.57" fill="#fdcc34"/>
<rect x="581.40" y="193.12" width="9.18" height="9.57" fill="#fdcc34"/>
<rect x="581.40" y="202.69" width="9.18" height="9.57" fill="#fdcc34"/>
<rect x="581.40" y="212.26" width="9.18" height="9.57" fill="#3e80c7"/>
<rect x="618.12" y="221.83" width="9.18" height="9.57" fill="#3e80c7"/>
<rect x="553.86" y="231.40" width="9.18" height="9.57" fill="#fdcc34"/>
<rect x="581.40" y="240.97" width="9.18" height="9.57" fill="#3e80c7"/>
<rect x="673.20" y="250.54" width="9.18" height="9.57" fill="#3e80c7"/>
<rect x="682.38" y="260.11" width="9.18" height="9.57" fill="#3e80c7"/>
<rect x="654.84" y="269.68" width="9.18" height="9.57" fill="#3e80c7"/>
<rect x="673.20" y="279.25" width="9.18" height="9.57" fill="#3e80c7"/>
<rect x="654.84" y="288.82" width="9.18" height="9.57" fill="#edc5cd"/>
<rect x="654.84" y="298.39" width="9.18" height="9.57" fill="#3e80c7"/>
<rect x="682.38" y="307.96" width="9.18" height="9.57" fill="#3e80c7"/>
<path d="M535.50,40.00V327.10M544.68,40.00V327.10M553.86,40.00V327.10M563.04,40.00V327.10M572.22,40.00V327.10M581.40,40.00V327.10M590.58,40.00V327.10M599.76,40.00V327.10M608.94,40.00V327.10M618.12,40.00V327.10M627.30,40.00V327.10M636.48,40.00V327.10M645.66,40.00V327.10M654.84,40.00V327.10M664.02,40.00V327.10M673.20,40.00V327.10M682.38,40.00V327.10M691.56,40.00V327.10M700.74,40.00V327.10M709.92,40.00V327.10M719.10,40.00V327.10M728.28,40.00V327.10M737.46,40.00V327.10M746.64,40.00V327.10M755.82,40.00V327.10M765.00,40.00V327.10M535.50,40.00H765.00M535.50,49.57H765.00M535.50,59.14H765.00M535.50,68.71H765.00M535.50,78.28H765.00M535.50,87.85H765.00M535.50,97.42H765.00M535.50,106.99H765.00M535.50,116.56H765.00M535.50,126.13H765.00M535.50,135.70H765.00M535.50,145.27H765.00M535.50,154.84H765.00M535.50,164.41H765.00M535.50,173.98H765.00M535.50,183.55H765.00M535.50,193.12H765.00M535.50,202.69H765.00M535.50,212.26H765.00M535.50,221.83H765.00M535.50,231.40H765.00M535.50,240.97H765.00M535.50,250.54H765.00M535.50,260.11H765.00M535.50,269.68H765.00M535.50,279.25H765.00M535.50,288.82H765.00M535.50,298.39H765.00M535.50,307.96H765.00M535.50,317.53H765.00M535.50,327.10H765.00" fill="none" stroke="#cfcfcf" stroke-width="0.8"/>
<text x="771.00" y="47.20" font-size="7.6" fill="#151515" font-style="italic">BAP1</text>
<text x="771.00" y="56.77" font-size="7.6" fill="#151515" font-style="italic">TTN</text>
<text x="771.00" y="66.34" font-size="7.6" fill="#151515" font-style="italic">TP53</text>
<text x="771.00" y="75.91" font-size="7.6" fill="#151515" font-style="italic">ARID1A</text>
<text x="771.00" y="85.48" font-size="7.6" fill="#151515" font-style="italic">RYR3</text>
<text x="771.00" y="95.05" font-size="7.6" fill="#151515" font-style="italic">KRAS</text>
<text x="771.00" y="104.62" font-size="7.6" fill="#151515" font-style="italic">IDH1</text>
<text x="771.00" y="114.19" font-size="7.6" fill="#151515" font-style="italic">MUC2</text>
<text x="771.00" y="123.76" font-size="7.6" fill="#151515" font-style="italic">MUC16</text>
<text x="771.00" y="133.33" font-size="7.6" fill="#151515" font-style="italic">OBSCN</text>
<text x="771.00" y="142.90" font-size="7.6" fill="#151515" font-style="italic">PCLO</text>
<text x="771.00" y="152.47" font-size="7.6" fill="#151515" font-style="italic">SYNE1</text>
<text x="771.00" y="162.04" font-size="7.6" fill="#151515" font-style="italic">PIK3CA</text>
<text x="771.00" y="171.61" font-size="7.6" fill="#151515" font-style="italic">MACF1</text>
<text x="771.00" y="181.18" font-size="7.6" fill="#151515" font-style="italic">PBRM1</text>
<text x="771.00" y="190.75" font-size="7.6" fill="#151515" font-style="italic">RASA1</text>
<text x="771.00" y="200.32" font-size="7.6" fill="#151515" font-style="italic">RB1</text>
<text x="771.00" y="209.89" font-size="7.6" fill="#151515" font-style="italic">FSIP2</text>
<text x="771.00" y="219.46" font-size="7.6" fill="#151515" font-style="italic">GLI3</text>
<text x="771.00" y="229.03" font-size="7.6" fill="#151515" font-style="italic">MAGEC1</text>
<text x="771.00" y="238.60" font-size="7.6" fill="#151515" font-style="italic">LRP2</text>
<text x="771.00" y="248.17" font-size="7.6" fill="#151515" font-style="italic">HRNR</text>
<text x="771.00" y="257.74" font-size="7.6" fill="#151515" font-style="italic">ABCA13</text>
<text x="771.00" y="267.31" font-size="7.6" fill="#151515" font-style="italic">KMT2D</text>
<text x="771.00" y="276.88" font-size="7.6" fill="#151515" font-style="italic">DCHS1</text>
<text x="771.00" y="286.45" font-size="7.6" fill="#151515" font-style="italic">CSMD1</text>
<text x="771.00" y="296.02" font-size="7.6" fill="#151515" font-style="italic">CACNA1E</text>
<text x="771.00" y="305.59" font-size="7.6" fill="#151515" font-style="italic">BRAF</text>
<text x="771.00" y="315.16" font-size="7.6" fill="#151515" font-style="italic">EGFR</text>
<text x="771.00" y="324.73" font-size="7.6" fill="#151515" font-style="italic">ERBB2</text>
<rect x="590.58" y="333.80" width="9.18" height="11.20" fill="#c93d8d"/>
<rect x="645.66" y="333.80" width="9.18" height="11.20" fill="#c93d8d"/>
<path d="M544.68,333.80v11.2M553.86,333.80v11.2M563.04,333.80v11.2M572.22,333.80v11.2M581.40,333.80v11.2M590.58,333.80v11.2M599.76,333.80v11.2M608.94,333.80v11.2M618.12,333.80v11.2M627.30,333.80v11.2M636.48,333.80v11.2M645.66,333.80v11.2M654.84,333.80v11.2M664.02,333.80v11.2M673.20,333.80v11.2M682.38,333.80v11.2M691.56,333.80v11.2M700.74,333.80v11.2M709.92,333.80v11.2M719.10,333.80v11.2M728.28,333.80v11.2M737.46,333.80v11.2M746.64,333.80v11.2M755.82,333.80v11.2" fill="none" stroke="#bbb" stroke-width="0.8"/>
<rect x="535.50" y="333.80" width="229.50" height="11.2" fill="none" stroke="#555" stroke-width="1"/>
<rect x="599.76" y="346.00" width="9.18" height="11.20" fill="#c93d8d"/>
<rect x="636.48" y="346.00" width="9.18" height="11.20" fill="#c93d8d"/>
<rect x="700.74" y="346.00" width="9.18" height="11.20" fill="#c93d8d"/>
<path d="M544.68,346.00v11.2M553.86,346.00v11.2M563.04,346.00v11.2M572.22,346.00v11.2M581.40,346.00v11.2M590.58,346.00v11.2M599.76,346.00v11.2M608.94,346.00v11.2M618.12,346.00v11.2M627.30,346.00v11.2M636.48,346.00v11.2M645.66,346.00v11.2M654.84,346.00v11.2M664.02,346.00v11.2M673.20,346.00v11.2M682.38,346.00v11.2M691.56,346.00v11.2M700.74,346.00v11.2M709.92,346.00v11.2M719.10,346.00v11.2M728.28,346.00v11.2M737.46,346.00v11.2M746.64,346.00v11.2M755.82,346.00v11.2" fill="none" stroke="#bbb" stroke-width="0.8"/>
<rect x="535.50" y="346.00" width="229.50" height="11.2" fill="none" stroke="#555" stroke-width="1"/>
<path d="M544.68,360.20v11.2M553.86,360.20v11.2M563.04,360.20v11.2M572.22,360.20v11.2M581.40,360.20v11.2M590.58,360.20v11.2M599.76,360.20v11.2M608.94,360.20v11.2M618.12,360.20v11.2M627.30,360.20v11.2M636.48,360.20v11.2M645.66,360.20v11.2M654.84,360.20v11.2M664.02,360.20v11.2M673.20,360.20v11.2M682.38,360.20v11.2M691.56,360.20v11.2M700.74,360.20v11.2M709.92,360.20v11.2M719.10,360.20v11.2M728.28,360.20v11.2M737.46,360.20v11.2M746.64,360.20v11.2M755.82,360.20v11.2" fill="none" stroke="#8a5a2c" stroke-width="0.8"/>
<rect x="535.50" y="360.20" width="229.50" height="11.2" fill="none" stroke="#8a5a2c" stroke-width="1"/>
<text x="771.00" y="343.00" font-size="7.6" fill="#151515" font-style="italic">ERBB2</text>
<text x="771.00" y="355.20" font-size="7.6" fill="#151515" font-style="italic">MET</text>
<text x="771.00" y="369.50" font-size="7.6" fill="#151515"><tspan font-style="italic">FGFR2</tspan> fusion</text>
<text transform="translate(542.69,388.50) rotate(-90)" font-size="7.0" fill="#151515">P15</text>
<text transform="translate(551.87,388.50) rotate(-90)" font-size="7.0" fill="#151515">P22</text>
<text transform="translate(561.05,388.50) rotate(-90)" font-size="7.0" fill="#151515">P19</text>
<text transform="translate(570.23,388.50) rotate(-90)" font-size="7.0" fill="#151515">P27</text>
<text transform="translate(579.41,388.50) rotate(-90)" font-size="7.0" fill="#151515">P26</text>
<text transform="translate(588.59,388.50) rotate(-90)" font-size="7.0" fill="#151515">P02</text>
<text transform="translate(597.77,388.50) rotate(-90)" font-size="7.0" fill="#151515">P05</text>
<text transform="translate(606.95,388.50) rotate(-90)" font-size="7.0" fill="#151515">P21</text>
<text transform="translate(616.13,388.50) rotate(-90)" font-size="7.0" fill="#151515">P03</text>
<text transform="translate(625.31,388.50) rotate(-90)" font-size="7.0" fill="#151515">P20</text>
<text transform="translate(634.49,388.50) rotate(-90)" font-size="7.0" fill="#151515">P13</text>
<text transform="translate(643.67,388.50) rotate(-90)" font-size="7.0" fill="#151515">P18</text>
<text transform="translate(652.85,388.50) rotate(-90)" font-size="7.0" fill="#151515">P23</text>
<text transform="translate(662.03,388.50) rotate(-90)" font-size="7.0" fill="#151515">P07</text>
<text transform="translate(671.21,388.50) rotate(-90)" font-size="7.0" fill="#151515">P01</text>
<text transform="translate(680.39,388.50) rotate(-90)" font-size="7.0" fill="#151515">P17</text>
<text transform="translate(689.57,388.50) rotate(-90)" font-size="7.0" fill="#151515">P25</text>
<text transform="translate(698.75,388.50) rotate(-90)" font-size="7.0" fill="#151515">P16</text>
<text transform="translate(707.93,388.50) rotate(-90)" font-size="7.0" fill="#151515">P10</text>
<text transform="translate(717.11,388.50) rotate(-90)" font-size="7.0" fill="#151515">P04</text>
<text transform="translate(726.29,388.50) rotate(-90)" font-size="7.0" fill="#151515">P06</text>
<text transform="translate(735.47,388.50) rotate(-90)" font-size="7.0" fill="#151515">P24</text>
<text transform="translate(744.65,388.50) rotate(-90)" font-size="7.0" fill="#151515">P08</text>
<text transform="translate(753.83,388.50) rotate(-90)" font-size="7.0" fill="#151515">P12</text>
<text transform="translate(763.01,388.50) rotate(-90)" font-size="7.0" fill="#151515">P14</text>
<text x="527.70" y="410.50" font-size="8.1" fill="#151515">Alterations</text>
<rect x="527.70" y="415.50" width="10.80" height="11.60" fill="#f26c3b"/>
<text x="543.20" y="424.10" font-size="8.1" fill="#151515">Frame_Shift_Del</text>
<rect x="527.70" y="428.70" width="10.80" height="11.60" fill="#d6e1a4"/>
<text x="543.20" y="437.30" font-size="8.1" fill="#151515">Frame_Shift_Ins</text>
<rect x="527.70" y="441.90" width="10.80" height="11.60" fill="#3e80c7"/>
<text x="543.20" y="450.50" font-size="8.1" fill="#151515">Missense_mutation</text>
<rect x="620.70" y="415.50" width="10.80" height="11.60" fill="#edc5cd"/>
<text x="636.00" y="424.10" font-size="8.1" fill="#151515">Multi_Hit</text>
<rect x="620.70" y="428.70" width="10.80" height="11.60" fill="#fdcc34"/>
<text x="636.00" y="437.30" font-size="8.1" fill="#151515">Nonsense_mutation</text>
<rect x="620.70" y="441.90" width="10.80" height="11.60" fill="#1d9a8a"/>
<text x="636.00" y="450.50" font-size="8.1" fill="#151515">Splice_Site</text>
<text x="711.20" y="410.50" font-size="8.1" fill="#151515">CNV</text>
<rect x="711.20" y="414.80" width="10.60" height="11.60" fill="#c93d8d"/>
<text x="725.90" y="423.30" font-size="8.1" fill="#151515">Amplification</text>
<text x="782.70" y="410.50" font-size="8.1" fill="#151515">Response</text>
<rect x="783.00" y="415.50" width="10.60" height="11.60" fill="#ea906f"/>
<text x="799.00" y="424.10" font-size="8.1" fill="#151515">CR</text>
<rect x="783.00" y="428.70" width="10.60" height="11.60" fill="#66aa99"/>
<text x="799.00" y="437.30" font-size="8.1" fill="#151515">PR</text>
<rect x="783.00" y="441.90" width="10.60" height="11.60" fill="#9ccfe0"/>
<text x="799.00" y="450.50" font-size="8.1" fill="#151515">SD</text>
<text x="831.50" y="18.50" font-size="26" fill="#151515" font-weight="bold">c</text>
<rect x="854.40" y="21.00" width="9.45" height="10.90" fill="#ea906f"/>
<rect x="864.65" y="21.00" width="9.45" height="10.90" fill="#ea906f"/>
<rect x="874.90" y="21.00" width="9.45" height="10.90" fill="#66aa99"/>
<rect x="885.15" y="21.00" width="9.45" height="10.90" fill="#66aa99"/>
<rect x="895.40" y="21.00" width="9.45" height="10.90" fill="#66aa99"/>
<rect x="905.65" y="21.00" width="9.45" height="10.90" fill="#66aa99"/>
<rect x="915.90" y="21.00" width="9.45" height="10.90" fill="#66aa99"/>
<rect x="926.15" y="21.00" width="9.45" height="10.90" fill="#66aa99"/>
<rect x="936.40" y="21.00" width="9.45" height="10.90" fill="#66aa99"/>
<rect x="946.65" y="21.00" width="9.45" height="10.90" fill="#66aa99"/>
<rect x="956.90" y="21.00" width="9.45" height="10.90" fill="#66aa99"/>
<rect x="967.15" y="21.00" width="9.45" height="10.90" fill="#66aa99"/>
<rect x="977.40" y="21.00" width="9.45" height="10.90" fill="#66aa99"/>
<rect x="987.65" y="21.00" width="9.45" height="10.90" fill="#66aa99"/>
<rect x="997.90" y="21.00" width="9.45" height="10.90" fill="#66aa99"/>
<rect x="1008.15" y="21.00" width="9.45" height="10.90" fill="#66aa99"/>
<rect x="1018.40" y="21.00" width="9.45" height="10.90" fill="#66aa99"/>
<rect x="1028.65" y="21.00" width="9.45" height="10.90" fill="#66aa99"/>
<rect x="1038.90" y="21.00" width="9.45" height="10.90" fill="#66aa99"/>
<rect x="1049.15" y="21.00" width="9.45" height="10.90" fill="#66aa99"/>
<rect x="1059.40" y="21.00" width="9.45" height="10.90" fill="#66aa99"/>
<rect x="1069.65" y="21.00" width="9.45" height="10.90" fill="#9ccfe0"/>
<rect x="1079.90" y="21.00" width="9.45" height="10.90" fill="#9ccfe0"/>
<rect x="1090.15" y="21.00" width="9.45" height="10.90" fill="#9ccfe0"/>
<rect x="1100.40" y="21.00" width="9.45" height="10.90" fill="#9ccfe0"/>
<rect x="1110.65" y="21.00" width="9.45" height="10.90" fill="#9ccfe0"/>
<rect x="1120.90" y="21.00" width="9.45" height="10.90" fill="#9ccfe0"/>
<rect x="1131.15" y="21.00" width="9.45" height="10.90" fill="#9ccfe0"/>
<text x="1146.30" y="29.30" font-size="6.5" fill="#151515">Response</text>
<rect x="854.40" y="34.10" width="9.45" height="10.90" fill="#8dbf8c"/>
<rect x="864.65" y="34.10" width="9.45" height="10.90" fill="#c6c9c9"/>
<rect x="874.90" y="34.10" width="9.45" height="10.90" fill="#8dbf8c"/>
<rect x="885.15" y="34.10" width="9.45" height="10.90" fill="#8dbf8c"/>
<rect x="895.40" y="34.10" width="9.45" height="10.90" fill="#8dbf8c"/>
<rect x="905.65" y="34.10" width="9.45" height="10.90" fill="#8dbf8c"/>
<rect x="915.90" y="34.10" width="9.45" height="10.90" fill="#c6c9c9"/>
<rect x="926.15" y="34.10" width="9.45" height="10.90" fill="#8dbf8c"/>
<rect x="936.40" y="34.10" width="9.45" height="10.90" fill="#8dbf8c"/>
<rect x="946.65" y="34.10" width="9.45" height="10.90" fill="#8dbf8c"/>
<rect x="956.90" y="34.10" width="9.45" height="10.90" fill="#8dbf8c"/>
<rect x="967.15" y="34.10" width="9.45" height="10.90" fill="#8dbf8c"/>
<rect x="977.40" y="34.10" width="9.45" height="10.90" fill="#8dbf8c"/>
<rect x="987.65" y="34.10" width="9.45" height="10.90" fill="#8dbf8c"/>
<rect x="997.90" y="34.10" width="9.45" height="10.90" fill="#8dbf8c"/>
<rect x="1008.15" y="34.10" width="9.45" height="10.90" fill="#8dbf8c"/>
<rect x="1018.40" y="34.10" width="9.45" height="10.90" fill="#c6c9c9"/>
<rect x="1028.65" y="34.10" width="9.45" height="10.90" fill="#8dbf8c"/>
<rect x="1038.90" y="34.10" width="9.45" height="10.90" fill="#8dbf8c"/>
<rect x="1049.15" y="34.10" width="9.45" height="10.90" fill="#8dbf8c"/>
<rect x="1059.40" y="34.10" width="9.45" height="10.90" fill="#8dbf8c"/>
<rect x="1069.65" y="34.10" width="9.45" height="10.90" fill="#8dbf8c"/>
<rect x="1079.90" y="34.10" width="9.45" height="10.90" fill="#8dbf8c"/>
<rect x="1090.15" y="34.10" width="9.45" height="10.90" fill="#8dbf8c"/>
<rect x="1100.40" y="34.10" width="9.45" height="10.90" fill="#8dbf8c"/>
<rect x="1110.65" y="34.10" width="9.45" height="10.90" fill="#8dbf8c"/>
<rect x="1120.90" y="34.10" width="9.45" height="10.90" fill="#8dbf8c"/>
<rect x="1131.15" y="34.10" width="9.45" height="10.90" fill="#8dbf8c"/>
<text x="1146.30" y="42.40" font-size="6.5" fill="#151515">MSI status</text>
<rect x="854.40" y="47.20" width="9.45" height="10.90" fill="#a9d5ec"/>
<rect x="864.65" y="47.20" width="9.45" height="10.90" fill="#c6c9c9"/>
<rect x="874.90" y="47.20" width="9.45" height="10.90" fill="#0b0b86"/>
<rect x="885.15" y="47.20" width="9.45" height="10.90" fill="#a9d5ec"/>
<rect x="895.40" y="47.20" width="9.45" height="10.90" fill="#a9d5ec"/>
<rect x="905.65" y="47.20" width="9.45" height="10.90" fill="#a9d5ec"/>
<rect x="915.90" y="47.20" width="9.45" height="10.90" fill="#c6c9c9"/>
<rect x="926.15" y="47.20" width="9.45" height="10.90" fill="#a9d5ec"/>
<rect x="936.40" y="47.20" width="9.45" height="10.90" fill="#a9d5ec"/>
<rect x="946.65" y="47.20" width="9.45" height="10.90" fill="#a9d5ec"/>
<rect x="956.90" y="47.20" width="9.45" height="10.90" fill="#a9d5ec"/>
<rect x="967.15" y="47.20" width="9.45" height="10.90" fill="#a9d5ec"/>
<rect x="977.40" y="47.20" width="9.45" height="10.90" fill="#a9d5ec"/>
<rect x="987.65" y="47.20" width="9.45" height="10.90" fill="#a9d5ec"/>
<rect x="997.90" y="47.20" width="9.45" height="10.90" fill="#a9d5ec"/>
<rect x="1008.15" y="47.20" width="9.45" height="10.90" fill="#0b0b86"/>
<rect x="1018.40" y="47.20" width="9.45" height="10.90" fill="#c6c9c9"/>
<rect x="1028.65" y="47.20" width="9.45" height="10.90" fill="#a9d5ec"/>
<rect x="1038.90" y="47.20" width="9.45" height="10.90" fill="#a9d5ec"/>
<rect x="1049.15" y="47.20" width="9.45" height="10.90" fill="#a9d5ec"/>
<rect x="1059.40" y="47.20" width="9.45" height="10.90" fill="#a9d5ec"/>
<rect x="1069.65" y="47.20" width="9.45" height="10.90" fill="#a9d5ec"/>
<rect x="1079.90" y="47.20" width="9.45" height="10.90" fill="#a9d5ec"/>
<rect x="1090.15" y="47.20" width="9.45" height="10.90" fill="#a9d5ec"/>
<rect x="1100.40" y="47.20" width="9.45" height="10.90" fill="#a9d5ec"/>
<rect x="1110.65" y="47.20" width="9.45" height="10.90" fill="#a9d5ec"/>
<rect x="1120.90" y="47.20" width="9.45" height="10.90" fill="#a9d5ec"/>
<rect x="1131.15" y="47.20" width="9.45" height="10.90" fill="#a9d5ec"/>
<text x="1146.30" y="55.50" font-size="6.5" fill="#151515">TMB</text>
<rect x="854.40" y="60.60" width="9.45" height="10.90" fill="#fde6e6"/>
<rect x="864.65" y="60.60" width="9.45" height="10.90" fill="#fde6e6"/>
<rect x="874.90" y="60.60" width="9.45" height="10.90" fill="#c9301d"/>
<rect x="885.15" y="60.60" width="9.45" height="10.90" fill="#fde6e6"/>
<rect x="895.40" y="60.60" width="9.45" height="10.90" fill="#c9301d"/>
<rect x="905.65" y="60.60" width="9.45" height="10.90" fill="#c9301d"/>
<rect x="915.90" y="60.60" width="9.45" height="10.90" fill="#c6c9c9"/>
<rect x="926.15" y="60.60" width="9.45" height="10.90" fill="#c9301d"/>
<rect x="936.40" y="60.60" width="9.45" height="10.90" fill="#fde6e6"/>
<rect x="946.65" y="60.60" width="9.45" height="10.90" fill="#fde6e6"/>
<rect x="956.90" y="60.60" width="9.45" height="10.90" fill="#c9301d"/>
<rect x="967.15" y="60.60" width="9.45" height="10.90" fill="#c9301d"/>
<rect x="977.40" y="60.60" width="9.45" height="10.90" fill="#c9301d"/>
<rect x="987.65" y="60.60" width="9.45" height="10.90" fill="#fde6e6"/>
<rect x="997.90" y="60.60" width="9.45" height="10.90" fill="#fde6e6"/>
<rect x="1008.15" y="60.60" width="9.45" height="10.90" fill="#c9301d"/>
<rect x="1018.40" y="60.60" width="9.45" height="10.90" fill="#c6c9c9"/>
<rect x="1028.65" y="60.60" width="9.45" height="10.90" fill="#c9301d"/>
<rect x="1038.90" y="60.60" width="9.45" height="10.90" fill="#fde6e6"/>
<rect x="1049.15" y="60.60" width="9.45" height="10.90" fill="#fde6e6"/>
<rect x="1059.40" y="60.60" width="9.45" height="10.90" fill="#fde6e6"/>
<rect x="1069.65" y="60.60" width="9.45" height="10.90" fill="#fde6e6"/>
<rect x="1079.90" y="60.60" width="9.45" height="10.90" fill="#fde6e6"/>
<rect x="1090.15" y="60.60" width="9.45" height="10.90" fill="#c9301d"/>
<rect x="1100.40" y="60.60" width="9.45" height="10.90" fill="#fde6e6"/>
<rect x="1110.65" y="60.60" width="9.45" height="10.90" fill="#fde6e6"/>
<rect x="1120.90" y="60.60" width="9.45" height="10.90" fill="#fde6e6"/>
<rect x="1131.15" y="60.60" width="9.45" height="10.90" fill="#c9301d"/>
<text x="1146.30" y="68.90" font-size="6.5" fill="#151515">PDL1 (IHC)</text>
<text transform="translate(861.62,85.00) rotate(-90)" font-size="6.6" fill="#151515">P03</text>
<text transform="translate(871.88,85.00) rotate(-90)" font-size="6.6" fill="#151515">P09</text>
<text transform="translate(882.12,85.00) rotate(-90)" font-size="6.6" fill="#151515">P02</text>
<text transform="translate(892.38,85.00) rotate(-90)" font-size="6.6" fill="#151515">P01</text>
<text transform="translate(902.62,85.00) rotate(-90)" font-size="6.6" fill="#151515">P06</text>
<text transform="translate(912.88,85.00) rotate(-90)" font-size="6.6" fill="#151515">P10</text>
<text transform="translate(923.12,85.00) rotate(-90)" font-size="6.6" fill="#151515">P11</text>
<text transform="translate(933.38,85.00) rotate(-90)" font-size="6.6" fill="#151515">P14</text>
<text transform="translate(943.62,85.00) rotate(-90)" font-size="6.6" fill="#151515">P15</text>
<text transform="translate(953.88,85.00) rotate(-90)" font-size="6.6" fill="#151515">P16</text>
<text transform="translate(964.12,85.00) rotate(-90)" font-size="6.6" fill="#151515">P18</text>
<text transform="translate(974.38,85.00) rotate(-90)" font-size="6.6" fill="#151515">P20</text>
<text transform="translate(984.62,85.00) rotate(-90)" font-size="6.6" fill="#151515">P05</text>
<text transform="translate(994.88,85.00) rotate(-90)" font-size="6.6" fill="#151515">P08</text>
<text transform="translate(1005.12,85.00) rotate(-90)" font-size="6.6" fill="#151515">P25</text>
<text transform="translate(1015.38,85.00) rotate(-90)" font-size="6.6" fill="#151515">P26</text>
<text transform="translate(1025.62,85.00) rotate(-90)" font-size="6.6" fill="#151515">P28</text>
<text transform="translate(1035.88,85.00) rotate(-90)" font-size="6.6" fill="#151515">P21</text>
<text transform="translate(1046.12,85.00) rotate(-90)" font-size="6.6" fill="#151515">P19</text>
<text transform="translate(1056.38,85.00) rotate(-90)" font-size="6.6" fill="#151515">P17</text>
<text transform="translate(1066.62,85.00) rotate(-90)" font-size="6.6" fill="#151515">P22</text>
<text transform="translate(1076.88,85.00) rotate(-90)" font-size="6.6" fill="#151515">P07</text>
<text transform="translate(1087.12,85.00) rotate(-90)" font-size="6.6" fill="#151515">P12</text>
<text transform="translate(1097.38,85.00) rotate(-90)" font-size="6.6" fill="#151515">P13</text>
<text transform="translate(1107.62,85.00) rotate(-90)" font-size="6.6" fill="#151515">P04</text>
<text transform="translate(1117.88,85.00) rotate(-90)" font-size="6.6" fill="#151515">P28</text>
<text transform="translate(1128.12,85.00) rotate(-90)" font-size="6.6" fill="#151515">P24</text>
<text transform="translate(1138.38,85.00) rotate(-90)" font-size="6.6" fill="#151515">P23</text>
<text x="1161.60" y="99.20" font-size="7.7" fill="#151515">Response</text>
<rect x="1162.80" y="103.00" width="9.00" height="8.30" fill="#ea906f"/>
<text x="1176.80" y="110.00" font-size="7.7" fill="#151515">CR</text>
<rect x="1162.80" y="112.80" width="9.00" height="8.30" fill="#66aa99"/>
<text x="1176.80" y="119.80" font-size="7.7" fill="#151515">PR</text>
<rect x="1162.80" y="122.20" width="9.00" height="8.30" fill="#9ccfe0"/>
<text x="1176.80" y="129.20" font-size="7.7" fill="#151515">SD</text>
<text x="1161.60" y="145.40" font-size="7.7" fill="#151515">MSI status</text>
<rect x="1162.80" y="148.60" width="9.00" height="9.60" fill="#8dbf8c"/>
<text x="1176.80" y="156.20" font-size="7.7" fill="#151515">MSS</text>
<rect x="1162.80" y="158.80" width="9.00" height="9.60" fill="#c6c9c9"/>
<text x="1176.80" y="166.40" font-size="7.7" fill="#151515">NA</text>
<text x="1161.60" y="184.50" font-size="7.7" fill="#151515">TMB</text>
<rect x="1162.80" y="190.20" width="9.00" height="9.60" fill="#0b0b86"/>
<text x="1176.80" y="197.80" font-size="7.7" fill="#151515">≥10</text>
<rect x="1162.80" y="202.60" width="9.00" height="9.60" fill="#a9d5ec"/>
<text x="1176.80" y="210.20" font-size="7.7" fill="#151515"><10</text>
<rect x="1162.80" y="215.60" width="9.00" height="9.60" fill="#c6c9c9"/>
<text x="1176.80" y="223.20" font-size="7.7" fill="#151515">NA</text>
<text x="1161.60" y="239.50" font-size="7.7" fill="#151515">PDL1 (IHC)</text>
<rect x="1162.80" y="245.20" width="9.00" height="9.60" fill="#c9301d"/>
<text x="1176.80" y="252.80" font-size="7.7" fill="#151515">TPS≥1</text>
<rect x="1162.80" y="257.20" width="9.00" height="9.60" fill="#fde6e6"/>
<text x="1176.80" y="264.80" font-size="7.7" fill="#151515">TPS<1</text>
<rect x="1162.80" y="269.60" width="9.00" height="9.60" fill="#c6c9c9"/>
<text x="1176.80" y="277.20" font-size="7.7" fill="#151515">NA</text>
<text x="829.00" y="111.60" font-size="26" fill="#151515" font-weight="bold">d</text>
<line x1="874.50" y1="102.30" x2="885.50" y2="102.30" stroke="#c0461e" stroke-width="1.3"/>
<line x1="880.00" y1="100.00" x2="880.00" y2="104.60" stroke="#c0461e" stroke-width="0.8"/>
<text x="887.50" y="105.00" font-size="7.4" fill="#151515">CR/PR (<tspan font-style="italic">n</tspan> = 21)</text>
<line x1="952.00" y1="102.30" x2="963.00" y2="102.30" stroke="#3d7fd0" stroke-width="1.3"/>
<line x1="957.50" y1="100.00" x2="957.50" y2="104.60" stroke="#3d7fd0" stroke-width="0.8"/>
<text x="965.00" y="105.00" font-size="7.4" fill="#151515">SD (<tspan font-style="italic">n</tspan> = 7)</text>
<line x1="872.50" y1="111.20" x2="872.50" y2="193.20" stroke="#333" stroke-width="0.9"/>
<line x1="872.50" y1="193.20" x2="987.21" y2="193.20" stroke="#333" stroke-width="0.9"/>
<line x1="870.00" y1="188.70" x2="872.50" y2="188.70" stroke="#333" stroke-width="0.9"/>
<text x="866.00" y="191.70" font-size="8.4" fill="#151515" text-anchor="end">0</text>
<line x1="870.00" y1="170.20" x2="872.50" y2="170.20" stroke="#333" stroke-width="0.9"/>
<text x="866.00" y="173.20" font-size="8.4" fill="#151515" text-anchor="end">0.25</text>
<line x1="870.00" y1="151.70" x2="872.50" y2="151.70" stroke="#333" stroke-width="0.9"/>
<text x="866.00" y="154.70" font-size="8.4" fill="#151515" text-anchor="end">0.50</text>
<line x1="870.00" y1="133.20" x2="872.50" y2="133.20" stroke="#333" stroke-width="0.9"/>
<text x="866.00" y="136.20" font-size="8.4" fill="#151515" text-anchor="end">0.75</text>
<line x1="870.00" y1="114.70" x2="872.50" y2="114.70" stroke="#333" stroke-width="0.9"/>
<text x="866.00" y="117.70" font-size="8.4" fill="#151515" text-anchor="end">1.00</text>
<line x1="877.80" y1="193.20" x2="877.80" y2="196.70" stroke="#333" stroke-width="0.9"/>
<text x="877.80" y="206.50" font-size="8.4" fill="#151515" text-anchor="middle">0</text>
<line x1="899.08" y1="193.20" x2="899.08" y2="196.70" stroke="#333" stroke-width="0.9"/>
<text x="899.08" y="206.50" font-size="8.4" fill="#151515" text-anchor="middle">6</text>
<line x1="920.36" y1="193.20" x2="920.36" y2="196.70" stroke="#333" stroke-width="0.9"/>
<text x="920.36" y="206.50" font-size="8.4" fill="#151515" text-anchor="middle">12</text>
<line x1="941.65" y1="193.20" x2="941.65" y2="196.70" stroke="#333" stroke-width="0.9"/>
<text x="941.65" y="206.50" font-size="8.4" fill="#151515" text-anchor="middle">18</text>
<line x1="962.93" y1="193.20" x2="962.93" y2="196.70" stroke="#333" stroke-width="0.9"/>
<text x="962.93" y="206.50" font-size="8.4" fill="#151515" text-anchor="middle">24</text>
<line x1="984.21" y1="193.20" x2="984.21" y2="196.70" stroke="#333" stroke-width="0.9"/>
<text x="984.21" y="206.50" font-size="8.4" fill="#151515" text-anchor="middle">30</text>
<text x="931.00" y="219.20" font-size="9.3" fill="#151515" text-anchor="middle">Months</text>
<text transform="translate(842.00,152.40) rotate(-90)" font-size="9.3" fill="#151515" text-anchor="middle">PFS probability</text>
<path d="M877.80,114.70H904.05V135.86H907.95V146.45H911.14V160.95H919.30V174.64H930.30V188.70H930.30" fill="none" stroke="#3d7fd0" stroke-width="1.5"/>
<path d="M877.80,114.70H895.39V118.25H898.48V121.73H901.56V125.28H903.69V128.76H913.27V132.83H923.91V138.75H936.33V145.56H945.55V156.32H966.47V172.64H976.41" fill="none" stroke="#c0461e" stroke-width="1.5"/>
<line x1="904.76" y1="126.56" x2="904.76" y2="130.96" stroke="#c0461e" stroke-width="0.8"/>
<line x1="907.59" y1="126.56" x2="907.59" y2="130.96" stroke="#c0461e" stroke-width="0.8"/>
<line x1="920.01" y1="130.63" x2="920.01" y2="135.03" stroke="#c0461e" stroke-width="0.8"/>
<line x1="922.49" y1="130.63" x2="922.49" y2="135.03" stroke="#c0461e" stroke-width="0.8"/>
<line x1="937.74" y1="143.36" x2="937.74" y2="147.76" stroke="#c0461e" stroke-width="0.8"/>
<line x1="963.99" y1="154.12" x2="963.99" y2="158.52" stroke="#c0461e" stroke-width="0.8"/>
<line x1="974.63" y1="170.44" x2="974.63" y2="174.84" stroke="#c0461e" stroke-width="0.8"/>
<text x="875.80" y="187.00" font-size="8.2" fill="#151515"><tspan font-style="italic">P</tspan> = 0.0088</text>
<line x1="1032.90" y1="111.20" x2="1032.90" y2="193.20" stroke="#333" stroke-width="0.9"/>
<line x1="1032.90" y1="193.20" x2="1147.41" y2="193.20" stroke="#333" stroke-width="0.9"/>
<line x1="1030.40" y1="188.70" x2="1032.90" y2="188.70" stroke="#333" stroke-width="0.9"/>
<text x="1026.40" y="191.70" font-size="8.4" fill="#151515" text-anchor="end">0</text>
<line x1="1030.40" y1="170.20" x2="1032.90" y2="170.20" stroke="#333" stroke-width="0.9"/>
<text x="1026.40" y="173.20" font-size="8.4" fill="#151515" text-anchor="end">0.25</text>
<line x1="1030.40" y1="151.70" x2="1032.90" y2="151.70" stroke="#333" stroke-width="0.9"/>
<text x="1026.40" y="154.70" font-size="8.4" fill="#151515" text-anchor="end">0.50</text>
<line x1="1030.40" y1="133.20" x2="1032.90" y2="133.20" stroke="#333" stroke-width="0.9"/>
<text x="1026.40" y="136.20" font-size="8.4" fill="#151515" text-anchor="end">0.75</text>
<line x1="1030.40" y1="114.70" x2="1032.90" y2="114.70" stroke="#333" stroke-width="0.9"/>
<text x="1026.40" y="117.70" font-size="8.4" fill="#151515" text-anchor="end">1.00</text>
<line x1="1038.00" y1="193.20" x2="1038.00" y2="196.70" stroke="#333" stroke-width="0.9"/>
<text x="1038.00" y="206.50" font-size="8.4" fill="#151515" text-anchor="middle">0</text>
<line x1="1059.28" y1="193.20" x2="1059.28" y2="196.70" stroke="#333" stroke-width="0.9"/>
<text x="1059.28" y="206.50" font-size="8.4" fill="#151515" text-anchor="middle">6</text>
<line x1="1080.56" y1="193.20" x2="1080.56" y2="196.70" stroke="#333" stroke-width="0.9"/>
<text x="1080.56" y="206.50" font-size="8.4" fill="#151515" text-anchor="middle">12</text>
<line x1="1101.85" y1="193.20" x2="1101.85" y2="196.70" stroke="#333" stroke-width="0.9"/>
<text x="1101.85" y="206.50" font-size="8.4" fill="#151515" text-anchor="middle">18</text>
<line x1="1123.13" y1="193.20" x2="1123.13" y2="196.70" stroke="#333" stroke-width="0.9"/>
<text x="1123.13" y="206.50" font-size="8.4" fill="#151515" text-anchor="middle">24</text>
<line x1="1144.41" y1="193.20" x2="1144.41" y2="196.70" stroke="#333" stroke-width="0.9"/>
<text x="1144.41" y="206.50" font-size="8.4" fill="#151515" text-anchor="middle">30</text>
<text x="1091.20" y="219.20" font-size="9.3" fill="#151515" text-anchor="middle">Months</text>
<text transform="translate(1001.50,152.40) rotate(-90)" font-size="9.3" fill="#151515" text-anchor="middle">OS probability</text>
<path d="M1038.00,114.70H1069.92V125.28H1073.47V135.86H1079.15V175.38H1099.72V188.70H1099.72" fill="none" stroke="#3d7fd0" stroke-width="1.5"/>
<path d="M1038.00,114.70H1055.03V118.25H1059.64V121.73H1065.13V125.28H1085.18V129.50H1127.38V144.30H1129.51V159.10H1144.41" fill="none" stroke="#c0461e" stroke-width="1.5"/>
<line x1="1073.47" y1="123.08" x2="1073.47" y2="127.48" stroke="#c0461e" stroke-width="0.8"/>
<line x1="1079.50" y1="123.08" x2="1079.50" y2="127.48" stroke="#c0461e" stroke-width="0.8"/>
<line x1="1081.98" y1="123.08" x2="1081.98" y2="127.48" stroke="#c0461e" stroke-width="0.8"/>
<line x1="1089.08" y1="127.30" x2="1089.08" y2="131.70" stroke="#c0461e" stroke-width="0.8"/>
<line x1="1093.69" y1="127.30" x2="1093.69" y2="131.70" stroke="#c0461e" stroke-width="0.8"/>
<line x1="1098.30" y1="127.30" x2="1098.30" y2="131.70" stroke="#c0461e" stroke-width="0.8"/>
<line x1="1101.49" y1="127.30" x2="1101.49" y2="131.70" stroke="#c0461e" stroke-width="0.8"/>
<line x1="1104.33" y1="127.30" x2="1104.33" y2="131.70" stroke="#c0461e" stroke-width="0.8"/>
<line x1="1125.26" y1="127.30" x2="1125.26" y2="131.70" stroke="#c0461e" stroke-width="0.8"/>
<line x1="1141.93" y1="156.90" x2="1141.93" y2="161.30" stroke="#c0461e" stroke-width="0.8"/>
<text x="1035.80" y="187.00" font-size="8.2" fill="#151515"><tspan font-style="italic">P</tspan> = 0.0012</text>
<text x="830.50" y="241.60" font-size="26" fill="#151515" font-weight="bold">e</text>
<rect x="891.70" y="243.00" width="70.30" height="54.00" fill="#f9e9e5" stroke="#3a3a3a" stroke-width="1"/>
<line x1="927.70" y1="243.00" x2="927.70" y2="297.00" stroke="#3a3a3a" stroke-width="1"/>
<line x1="891.70" y1="270.00" x2="962.00" y2="270.00" stroke="#3a3a3a" stroke-width="1"/>
<text x="926.85" y="238.70" font-size="8.6" fill="#151515" text-anchor="middle">PDL1 (IHC)</text>
<text x="886.40" y="259.60" font-size="7.2" fill="#151515" text-anchor="end">TPS<1</text>
<text x="909.70" y="259.60" font-size="8.6" fill="#151515" text-anchor="middle">10</text>
<text x="944.85" y="259.60" font-size="8.6" fill="#151515" text-anchor="middle">5</text>
<text x="886.40" y="286.60" font-size="7.2" fill="#151515" text-anchor="end">TPS≥1</text>
<text x="909.70" y="286.60" font-size="8.6" fill="#151515" text-anchor="middle">9</text>
<text x="944.85" y="286.60" font-size="8.6" fill="#151515" text-anchor="middle">2</text>
<text x="912.50" y="308.00" font-size="8.6" fill="#151515" text-anchor="middle">CR/PR</text>
<text x="946.50" y="308.00" font-size="8.6" fill="#151515" text-anchor="middle">SD</text>
<text x="965.80" y="272.90" font-size="8.6" fill="#151515"><tspan font-style="italic">P</tspan> = 0.66</text>
<rect x="1054.00" y="243.00" width="69.50" height="54.00" fill="#f9e9e5" stroke="#3a3a3a" stroke-width="1"/>
<line x1="1089.50" y1="243.00" x2="1089.50" y2="297.00" stroke="#3a3a3a" stroke-width="1"/>
<line x1="1054.00" y1="270.00" x2="1123.50" y2="270.00" stroke="#3a3a3a" stroke-width="1"/>
<text x="1088.75" y="238.70" font-size="8.6" fill="#151515" text-anchor="middle">TMB</text>
<text x="1049.00" y="259.60" font-size="8.6" fill="#151515" text-anchor="end"><10</text>
<text x="1071.75" y="259.60" font-size="8.6" fill="#151515" text-anchor="middle">16</text>
<text x="1106.50" y="259.60" font-size="8.6" fill="#151515" text-anchor="middle">7</text>
<text x="1049.00" y="286.60" font-size="8.6" fill="#151515" text-anchor="end">≥10</text>
<text x="1071.75" y="286.60" font-size="8.6" fill="#151515" text-anchor="middle">2</text>
<text x="1106.50" y="286.60" font-size="8.6" fill="#151515" text-anchor="middle">0</text>
<text x="1075.00" y="308.00" font-size="8.6" fill="#151515" text-anchor="middle">CR/PR</text>
<text x="1109.00" y="308.00" font-size="8.6" fill="#151515" text-anchor="middle">SD</text>
<text x="1127.30" y="272.90" font-size="8.6" fill="#151515"><tspan font-style="italic">P</tspan> = 1</text>
<rect x="891.70" y="324.00" width="70.30" height="53.00" fill="#f9e9e5" stroke="#3a3a3a" stroke-width="1"/>
<line x1="927.70" y1="324.00" x2="927.70" y2="377.00" stroke="#3a3a3a" stroke-width="1"/>
<line x1="891.70" y1="350.30" x2="962.00" y2="350.30" stroke="#3a3a3a" stroke-width="1"/>
<text x="926.85" y="319.70" font-size="8.6" fill="#151515" text-anchor="middle">MET</text>
<text x="886.40" y="340.25" font-size="8.6" fill="#151515" text-anchor="end">Neutral</text>
<text x="909.70" y="340.25" font-size="8.6" fill="#151515" text-anchor="middle">15</text>
<text x="944.85" y="340.25" font-size="8.6" fill="#151515" text-anchor="middle">7</text>
<text x="886.40" y="366.75" font-size="8.6" fill="#151515" text-anchor="end">Amplification</text>
<text x="909.70" y="366.75" font-size="8.6" fill="#151515" text-anchor="middle">3</text>
<text x="944.85" y="366.75" font-size="8.6" fill="#151515" text-anchor="middle">0</text>
<text x="912.50" y="388.00" font-size="8.6" fill="#151515" text-anchor="middle">CR/PR</text>
<text x="946.50" y="388.00" font-size="8.6" fill="#151515" text-anchor="middle">SD</text>
<text x="965.80" y="353.20" font-size="8.6" fill="#151515"><tspan font-style="italic">P</tspan> = 0.534</text>
<rect x="1054.00" y="324.00" width="69.50" height="53.00" fill="#f9e9e5" stroke="#3a3a3a" stroke-width="1"/>
<line x1="1089.50" y1="324.00" x2="1089.50" y2="377.00" stroke="#3a3a3a" stroke-width="1"/>
<line x1="1054.00" y1="350.30" x2="1123.50" y2="350.30" stroke="#3a3a3a" stroke-width="1"/>
<text x="1088.75" y="319.70" font-size="8.6" fill="#151515" text-anchor="middle">ERBB2</text>
<text x="1049.00" y="340.25" font-size="8.6" fill="#151515" text-anchor="end">Neutral</text>
<text x="1071.75" y="340.25" font-size="8.6" fill="#151515" text-anchor="middle">17</text>
<text x="1106.50" y="340.25" font-size="8.6" fill="#151515" text-anchor="middle">6</text>
<text x="1049.00" y="366.75" font-size="8.6" fill="#151515" text-anchor="end">Amplification</text>
<text x="1071.75" y="366.75" font-size="8.6" fill="#151515" text-anchor="middle">1</text>
<text x="1106.50" y="366.75" font-size="8.6" fill="#151515" text-anchor="middle">1</text>
<text x="1075.00" y="388.00" font-size="8.6" fill="#151515" text-anchor="middle">CR/PR</text>
<text x="1109.00" y="388.00" font-size="8.6" fill="#151515" text-anchor="middle">SD</text>
<text x="1127.30" y="353.20" font-size="8.6" fill="#151515"><tspan font-style="italic">P</tspan> = 0.49</text>
<rect x="891.70" y="405.00" width="70.30" height="54.00" fill="#f9e9e5" stroke="#3a3a3a" stroke-width="1"/>
<line x1="927.70" y1="405.00" x2="927.70" y2="459.00" stroke="#3a3a3a" stroke-width="1"/>
<line x1="891.70" y1="432.00" x2="962.00" y2="432.00" stroke="#3a3a3a" stroke-width="1"/>
<text x="926.85" y="400.70" font-size="8.6" fill="#151515" text-anchor="middle">IDH1</text>
<text x="886.40" y="421.60" font-size="8.6" fill="#151515" text-anchor="end">Wild type</text>
<text x="909.70" y="421.60" font-size="8.6" fill="#151515" text-anchor="middle">16</text>
<text x="944.85" y="421.60" font-size="8.6" fill="#151515" text-anchor="middle">7</text>
<text x="886.40" y="448.60" font-size="8.6" fill="#151515" text-anchor="end">Mutant</text>
<text x="909.70" y="448.60" font-size="8.6" fill="#151515" text-anchor="middle">2</text>
<text x="944.85" y="448.60" font-size="8.6" fill="#151515" text-anchor="middle">0</text>
<text x="912.50" y="470.00" font-size="8.6" fill="#151515" text-anchor="middle">CR/PR</text>
<text x="946.50" y="470.00" font-size="8.6" fill="#151515" text-anchor="middle">SD</text>
<text x="965.80" y="434.90" font-size="8.6" fill="#151515"><tspan font-style="italic">P</tspan> = 1</text>
<rect x="1054.00" y="405.00" width="69.50" height="54.00" fill="#f9e9e5" stroke="#3a3a3a" stroke-width="1"/>
<line x1="1089.50" y1="405.00" x2="1089.50" y2="459.00" stroke="#3a3a3a" stroke-width="1"/>
<line x1="1054.00" y1="432.00" x2="1123.50" y2="432.00" stroke="#3a3a3a" stroke-width="1"/>
<text x="1088.75" y="400.70" font-size="8.6" fill="#151515" text-anchor="middle">BRAF</text>
<text x="1049.00" y="421.60" font-size="8.6" fill="#151515" text-anchor="end">Wild type</text>
<text x="1071.75" y="421.60" font-size="8.6" fill="#151515" text-anchor="middle">18</text>
<text x="1106.50" y="421.60" font-size="8.6" fill="#151515" text-anchor="middle">6</text>
<text x="1049.00" y="448.60" font-size="8.6" fill="#151515" text-anchor="end">Mutant</text>
<text x="1071.75" y="448.60" font-size="8.6" fill="#151515" text-anchor="middle">0</text>
<text x="1106.50" y="448.60" font-size="8.6" fill="#151515" text-anchor="middle">1</text>
<text x="1075.00" y="470.00" font-size="8.6" fill="#151515" text-anchor="middle">CR/PR</text>
<text x="1109.00" y="470.00" font-size="8.6" fill="#151515" text-anchor="middle">SD</text>
<text x="1127.30" y="434.90" font-size="8.6" fill="#151515"><tspan font-style="italic">P</tspan> = 0.28</text>
<text x="10.70" y="506.75" font-size="26" fill="#151515" font-weight="bold">f</text>
<path d="M113.67,515.00V510.30H129.75V515.00M97.61,515.00V509.00H121.71V510.30M109.66,509.00V507.70H145.81V515.00M81.53,515.00V505.70H127.74V507.70M177.95,515.00V510.30H194.03V515.00M210.09,515.00V510.30H226.16V515.00M185.99,510.30V507.70H218.13V510.30M161.88,515.00V506.20H202.06V507.70M104.64,505.70V503.50H181.97V506.20M143.30,503.50V499.50H242.24V515.00M258.31,515.00V509.50H274.38V515.00M290.44,515.00V509.50H306.51V515.00M322.59,515.00V510.30H338.66V515.00M298.48,509.50V508.80H330.62V510.30M266.34,509.50V507.60H314.55V508.80M290.45,507.60V505.90H354.73V515.00M386.87,515.00V508.40H402.94V515.00M370.80,515.00V507.00H394.90V508.40M382.85,507.00V505.60H419.00V515.00M322.59,505.90V503.50H400.93V505.60M192.77,499.50V495.50H361.76V503.50M435.72,515.00V509.90H451.77V515.00M467.82,515.00V509.90H483.88V515.00M499.93,515.00V509.90H515.98V515.00M475.85,509.90V508.40H507.95V509.90M443.75,509.90V505.80H491.90V508.40M467.83,505.80V503.30H532.02V515.00M564.12,515.00V509.90H580.17V515.00M548.08,515.00V507.70H572.15V509.90M596.23,515.00V507.20H612.27V515.00M604.25,507.20V505.40H628.33V515.00M560.11,507.70V504.50H616.29V505.40M499.93,503.30V502.20H588.20V504.50M277.26,495.50V492.20H544.06V502.20M678.17,515.00V510.20H694.25V515.00M662.11,515.00V509.20H686.21V510.20M646.03,515.00V506.30H674.16V509.20M742.46,515.00V510.20H758.52V515.00M726.38,515.00V509.70H750.49V510.20M738.44,509.70V508.30H774.60V515.00M710.32,515.00V506.80H756.52V508.30M790.66,515.00V509.20H806.74V515.00M733.42,506.80V505.50H798.70V509.20M660.10,506.30V502.50H766.06V505.50M410.66,492.20V487.30H713.08V502.50" fill="none" stroke="#2a2a2a" stroke-width="0.85"/>
<text x="68.50" y="536.00" font-size="11.0" fill="#151515" text-anchor="end">Time points</text>
<text x="68.50" y="555.00" font-size="11.0" fill="#151515" text-anchor="end">Response</text>
<text x="68.50" y="574.60" font-size="11.0" fill="#151515" text-anchor="end">TME</text>
<rect x="73.50" y="515.5" width="353.54" height="26.3" fill="#fce4f4" stroke="#333" stroke-width="1"/>
<text x="250.27" y="532.60" font-size="11.3" fill="#151515" text-anchor="middle">Pre</text>
<rect x="427.70" y="515.5" width="208.65" height="26.3" fill="#ebb0d0" stroke="#333" stroke-width="1"/>
<text x="532.02" y="532.60" font-size="11.3" fill="#151515" text-anchor="middle">Cryo</text>
<rect x="638.00" y="515.5" width="176.77" height="26.3" fill="#9b0d0d" stroke="#333" stroke-width="1"/>
<text x="726.38" y="532.60" font-size="11.3" fill="#fff" text-anchor="middle">Lenva + sint</text>
<rect x="74.00" y="544.50" width="15.07" height="15.50" fill="#66aa99"/>
<rect x="74.00" y="563.50" width="15.07" height="15.00" fill="#c8102e"/>
<rect x="90.07" y="544.50" width="15.07" height="15.50" fill="#66aa99"/>
<rect x="90.07" y="563.50" width="15.07" height="15.00" fill="#c8102e"/>
<rect x="106.14" y="544.50" width="15.07" height="15.50" fill="#66aa99"/>
<rect x="106.14" y="563.50" width="15.07" height="15.00" fill="#c8102e"/>
<rect x="122.21" y="544.50" width="15.07" height="15.50" fill="#66aa99"/>
<rect x="122.21" y="563.50" width="15.07" height="15.00" fill="#c8102e"/>
<rect x="138.28" y="544.50" width="15.07" height="15.50" fill="#9ccfe0"/>
<rect x="138.28" y="563.50" width="15.07" height="15.00" fill="#c8102e"/>
<rect x="154.35" y="544.50" width="15.07" height="15.50" fill="#66aa99"/>
<rect x="154.35" y="563.50" width="15.07" height="15.00" fill="#c8102e"/>
<rect x="170.42" y="544.50" width="15.07" height="15.50" fill="#9ccfe0"/>
<rect x="170.42" y="563.50" width="15.07" height="15.00" fill="#c8102e"/>
<rect x="186.49" y="544.50" width="15.07" height="15.50" fill="#66aa99"/>
<rect x="186.49" y="563.50" width="15.07" height="15.00" fill="#c8102e"/>
<rect x="202.56" y="544.50" width="15.07" height="15.50" fill="#66aa99"/>
<rect x="202.56" y="563.50" width="15.07" height="15.00" fill="#c8102e"/>
<rect x="218.63" y="544.50" width="15.07" height="15.50" fill="#66aa99"/>
<rect x="218.63" y="563.50" width="15.07" height="15.00" fill="#c8102e"/>
<rect x="234.70" y="544.50" width="15.07" height="15.50" fill="#66aa99"/>
<rect x="234.70" y="563.50" width="15.07" height="15.00" fill="#c8102e"/>
<rect x="250.77" y="544.50" width="15.07" height="15.50" fill="#9ccfe0"/>
<rect x="250.77" y="563.50" width="15.07" height="15.00" fill="#0a8ac8"/>
<rect x="266.84" y="544.50" width="15.07" height="15.50" fill="#66aa99"/>
<rect x="266.84" y="563.50" width="15.07" height="15.00" fill="#0a8ac8"/>
<rect x="282.91" y="544.50" width="15.07" height="15.50" fill="#66aa99"/>
<rect x="282.91" y="563.50" width="15.07" height="15.00" fill="#0a8ac8"/>
<rect x="298.98" y="544.50" width="15.07" height="15.50" fill="#9ccfe0"/>
<rect x="298.98" y="563.50" width="15.07" height="15.00" fill="#0a8ac8"/>
<rect x="315.05" y="544.50" width="15.07" height="15.50" fill="#ea906f"/>
<rect x="315.05" y="563.50" width="15.07" height="15.00" fill="#0a8ac8"/>
<rect x="331.12" y="544.50" width="15.07" height="15.50" fill="#66aa99"/>
<rect x="331.12" y="563.50" width="15.07" height="15.00" fill="#0a8ac8"/>
<rect x="347.19" y="544.50" width="15.07" height="15.50" fill="#66aa99"/>
<rect x="347.19" y="563.50" width="15.07" height="15.00" fill="#0a8ac8"/>
<rect x="363.26" y="544.50" width="15.07" height="15.50" fill="#9ccfe0"/>
<rect x="363.26" y="563.50" width="15.07" height="15.00" fill="#0a8ac8"/>
<rect x="379.33" y="544.50" width="15.07" height="15.50" fill="#9ccfe0"/>
<rect x="379.33" y="563.50" width="15.07" height="15.00" fill="#0a8ac8"/>
<rect x="395.40" y="544.50" width="15.07" height="15.50" fill="#9ccfe0"/>
<rect x="395.40" y="563.50" width="15.07" height="15.00" fill="#0a8ac8"/>
<rect x="411.47" y="544.50" width="15.07" height="15.50" fill="#66aa99"/>
<rect x="411.47" y="563.50" width="15.07" height="15.00" fill="#0a8ac8"/>
<rect x="428.20" y="544.50" width="15.05" height="15.50" fill="#66aa99"/>
<rect x="444.25" y="544.50" width="15.05" height="15.50" fill="#9ccfe0"/>
<rect x="444.25" y="563.50" width="15.05" height="15.00" fill="#c8102e"/>
<rect x="460.30" y="544.50" width="15.05" height="15.50" fill="#9ccfe0"/>
<rect x="460.30" y="563.50" width="15.05" height="15.00" fill="#0a8ac8"/>
<rect x="476.35" y="544.50" width="15.05" height="15.50" fill="#66aa99"/>
<rect x="476.35" y="563.50" width="15.05" height="15.00" fill="#c8102e"/>
<rect x="492.40" y="544.50" width="15.05" height="15.50" fill="#66aa99"/>
<rect x="492.40" y="563.50" width="15.05" height="15.00" fill="#0a8ac8"/>
<rect x="508.45" y="544.50" width="15.05" height="15.50" fill="#9ccfe0"/>
<rect x="508.45" y="563.50" width="15.05" height="15.00" fill="#0a8ac8"/>
<rect x="524.50" y="544.50" width="15.05" height="15.50" fill="#ea906f"/>
<rect x="524.50" y="563.50" width="15.05" height="15.00" fill="#0a8ac8"/>
<rect x="540.55" y="544.50" width="15.05" height="15.50" fill="#66aa99"/>
<rect x="540.55" y="563.50" width="15.05" height="15.00" fill="#0a8ac8"/>
<rect x="556.60" y="544.50" width="15.05" height="15.50" fill="#66aa99"/>
<rect x="556.60" y="563.50" width="15.05" height="15.00" fill="#c8102e"/>
<rect x="572.65" y="544.50" width="15.05" height="15.50" fill="#9ccfe0"/>
<rect x="572.65" y="563.50" width="15.05" height="15.00" fill="#0a8ac8"/>
<rect x="588.70" y="544.50" width="15.05" height="15.50" fill="#66aa99"/>
<rect x="588.70" y="563.50" width="15.05" height="15.00" fill="#0a8ac8"/>
<rect x="604.75" y="544.50" width="15.05" height="15.50" fill="#66aa99"/>
<rect x="604.75" y="563.50" width="15.05" height="15.00" fill="#0a8ac8"/>
<rect x="620.80" y="544.50" width="15.05" height="15.50" fill="#9ccfe0"/>
<rect x="620.80" y="563.50" width="15.05" height="15.00" fill="#0a8ac8"/>
<rect x="638.50" y="544.50" width="15.07" height="15.50" fill="#9ccfe0"/>
<rect x="638.50" y="563.50" width="15.07" height="15.00" fill="#c8102e"/>
<rect x="654.57" y="544.50" width="15.07" height="15.50" fill="#9ccfe0"/>
<rect x="654.57" y="563.50" width="15.07" height="15.00" fill="#0a8ac8"/>
<rect x="670.64" y="544.50" width="15.07" height="15.50" fill="#66aa99"/>
<rect x="670.64" y="563.50" width="15.07" height="15.00" fill="#c8102e"/>
<rect x="686.71" y="544.50" width="15.07" height="15.50" fill="#ea906f"/>
<rect x="686.71" y="563.50" width="15.07" height="15.00" fill="#0a8ac8"/>
<rect x="702.78" y="544.50" width="15.07" height="15.50" fill="#9ccfe0"/>
<rect x="702.78" y="563.50" width="15.07" height="15.00" fill="#c8102e"/>
<rect x="718.85" y="544.50" width="15.07" height="15.50" fill="#66aa99"/>
<rect x="718.85" y="563.50" width="15.07" height="15.00" fill="#c8102e"/>
<rect x="734.92" y="544.50" width="15.07" height="15.50" fill="#66aa99"/>
<rect x="750.99" y="544.50" width="15.07" height="15.50" fill="#66aa99"/>
<rect x="750.99" y="563.50" width="15.07" height="15.00" fill="#0a8ac8"/>
<rect x="767.06" y="544.50" width="15.07" height="15.50" fill="#66aa99"/>
<rect x="767.06" y="563.50" width="15.07" height="15.00" fill="#0a8ac8"/>
<rect x="783.13" y="544.50" width="15.07" height="15.50" fill="#66aa99"/>
<rect x="783.13" y="563.50" width="15.07" height="15.00" fill="#0a8ac8"/>
<rect x="799.20" y="544.50" width="15.07" height="15.50" fill="#9ccfe0"/>
<rect x="799.20" y="563.50" width="15.07" height="15.00" fill="#0a8ac8"/>
<path fill="#d8344c" d="M73.5 585.5h16.4v7.7h-16.4zM169.9 592.9h16.4v7.7h-16.4zM89.6 600.2h16.4v7.7h-16.4zM105.6 600.2h16.4v7.7h-16.4zM73.5 607.6h16.4v7.7h-16.4zM153.8 607.6h16.4v7.7h-16.4zM670.1 585.5h16.4v7.7h-16.4zM670.1 592.9h16.4v7.7h-16.4zM686.2 637.1h16.4v7.7h-16.4zM766.6 666.6h16.4v7.7h-16.4zM105.6 682.9h16.4v7.6h-16.4zM186.0 697.5h16.4v7.6h-16.4zM202.1 704.9h16.4v7.6h-16.4zM266.3 719.6h16.4v7.6h-16.4zM411.0 719.6h16.4v7.6h-16.4zM266.3 727.0h16.4v7.6h-16.4zM298.5 727.0h16.4v7.6h-16.4zM137.8 734.3h16.4v7.6h-16.4zM250.3 734.3h16.4v7.6h-16.4zM250.3 741.6h16.4v7.6h-16.4zM588.2 719.6h16.4v7.6h-16.4zM459.8 734.3h16.4v7.6h-16.4zM588.2 734.3h16.4v7.6h-16.4zM556.1 741.6h16.4v7.6h-16.4zM588.2 741.6h16.4v7.6h-16.4z"/>
<path fill="#f5b4b4" d="M89.6 585.5h16.4v7.7h-16.4zM105.6 585.5h16.4v7.7h-16.4zM186.0 615.0h16.4v7.7h-16.4zM169.9 644.5h16.4v7.7h-16.4zM218.1 666.6h16.4v7.7h-16.4zM427.7 615.0h16.4v7.7h-16.4zM443.8 615.0h16.4v7.7h-16.4zM475.9 622.4h16.4v7.7h-16.4zM638.0 585.5h16.4v7.7h-16.4zM750.5 592.9h16.4v7.7h-16.4zM734.4 607.6h16.4v7.7h-16.4zM734.4 615.0h16.4v7.7h-16.4zM798.7 615.0h16.4v7.7h-16.4zM702.3 629.8h16.4v7.7h-16.4zM766.6 644.5h16.4v7.7h-16.4zM766.6 651.9h16.4v7.7h-16.4zM89.6 675.5h16.4v7.6h-16.4zM137.8 675.5h16.4v7.6h-16.4zM121.7 690.2h16.4v7.6h-16.4zM186.0 704.9h16.4v7.6h-16.4zM218.1 704.9h16.4v7.6h-16.4zM153.8 712.2h16.4v7.6h-16.4zM234.2 712.2h16.4v7.6h-16.4zM121.7 727.0h16.4v7.6h-16.4zM330.6 727.0h16.4v7.6h-16.4zM186.0 734.3h16.4v7.6h-16.4zM298.5 734.3h16.4v7.6h-16.4zM330.6 734.3h16.4v7.6h-16.4zM298.5 741.6h16.4v7.6h-16.4zM89.6 749.0h16.4v7.6h-16.4zM427.7 675.5h16.4v7.6h-16.4zM427.7 697.5h16.4v7.6h-16.4zM427.7 712.2h16.4v7.6h-16.4zM475.9 727.0h16.4v7.6h-16.4zM427.7 749.0h16.4v7.6h-16.4z"/>
<path fill="#ee8282" d="M121.7 585.5h16.4v7.7h-16.4zM89.6 592.9h16.4v7.7h-16.4zM186.0 592.9h16.4v7.7h-16.4zM169.9 651.9h16.4v7.7h-16.4zM234.2 659.2h16.4v7.7h-16.4zM475.9 600.2h16.4v7.7h-16.4zM427.7 666.6h16.4v7.7h-16.4zM459.8 666.6h16.4v7.7h-16.4zM750.5 600.2h16.4v7.7h-16.4zM686.2 607.6h16.4v7.7h-16.4zM718.4 607.6h16.4v7.7h-16.4zM750.5 629.8h16.4v7.7h-16.4zM718.4 637.1h16.4v7.7h-16.4zM766.6 659.2h16.4v7.7h-16.4zM105.6 675.5h16.4v7.6h-16.4zM121.7 682.9h16.4v7.6h-16.4zM186.0 682.9h16.4v7.6h-16.4zM137.8 719.6h16.4v7.6h-16.4zM282.4 719.6h16.4v7.6h-16.4zM282.4 727.0h16.4v7.6h-16.4zM411.0 741.6h16.4v7.6h-16.4zM427.7 682.9h16.4v7.6h-16.4zM427.7 690.2h16.4v7.6h-16.4zM734.4 675.5h16.4v7.6h-16.4zM734.4 682.9h16.4v7.6h-16.4zM782.6 690.2h16.4v7.6h-16.4zM734.4 704.9h16.4v7.6h-16.4zM766.6 704.9h16.4v7.6h-16.4z"/>
<path fill="#e6f1f9" d="M137.8 585.5h16.4v7.7h-16.4zM186.0 585.5h16.4v7.7h-16.4zM346.7 607.6h16.4v7.7h-16.4zM250.3 622.4h16.4v7.7h-16.4zM266.3 622.4h16.4v7.7h-16.4zM266.3 629.8h16.4v7.7h-16.4zM186.0 637.1h16.4v7.7h-16.4zM153.8 666.6h16.4v7.7h-16.4zM588.2 585.5h16.4v7.7h-16.4zM540.0 592.9h16.4v7.7h-16.4zM588.2 592.9h16.4v7.7h-16.4zM524.0 600.2h16.4v7.7h-16.4zM540.0 600.2h16.4v7.7h-16.4zM604.2 607.6h16.4v7.7h-16.4zM459.8 615.0h16.4v7.7h-16.4zM540.0 615.0h16.4v7.7h-16.4zM459.8 622.4h16.4v7.7h-16.4zM540.0 629.8h16.4v7.7h-16.4zM459.8 651.9h16.4v7.7h-16.4zM702.3 600.2h16.4v7.7h-16.4zM798.7 600.2h16.4v7.7h-16.4zM798.7 629.8h16.4v7.7h-16.4zM218.1 675.5h16.4v7.6h-16.4zM250.3 675.5h16.4v7.6h-16.4zM137.8 682.9h16.4v7.6h-16.4zM89.6 690.2h16.4v7.6h-16.4zM250.3 690.2h16.4v7.6h-16.4zM330.6 690.2h16.4v7.6h-16.4zM378.8 690.2h16.4v7.6h-16.4zM394.9 690.2h16.4v7.6h-16.4zM314.6 697.5h16.4v7.6h-16.4zM105.6 719.6h16.4v7.6h-16.4zM394.9 719.6h16.4v7.6h-16.4zM282.4 734.3h16.4v7.6h-16.4zM346.7 734.3h16.4v7.6h-16.4zM282.4 749.0h16.4v7.6h-16.4zM540.0 682.9h16.4v7.6h-16.4zM540.0 690.2h16.4v7.6h-16.4zM572.1 690.2h16.4v7.6h-16.4zM572.1 697.5h16.4v7.6h-16.4zM572.1 712.2h16.4v7.6h-16.4zM572.1 749.0h16.4v7.6h-16.4zM798.7 697.5h16.4v7.6h-16.4z"/>
<path fill="#f3a8a8" d="M153.8 585.5h16.4v7.7h-16.4zM153.8 592.9h16.4v7.7h-16.4zM234.2 592.9h16.4v7.7h-16.4zM202.1 600.2h16.4v7.7h-16.4zM234.2 607.6h16.4v7.7h-16.4zM137.8 622.4h16.4v7.7h-16.4zM169.9 629.8h16.4v7.7h-16.4zM137.8 637.1h16.4v7.7h-16.4zM443.8 592.9h16.4v7.7h-16.4zM686.2 592.9h16.4v7.7h-16.4zM750.5 607.6h16.4v7.7h-16.4zM766.6 607.6h16.4v7.7h-16.4zM702.3 622.4h16.4v7.7h-16.4zM750.5 622.4h16.4v7.7h-16.4zM750.5 637.1h16.4v7.7h-16.4zM734.4 659.2h16.4v7.7h-16.4zM330.6 719.6h16.4v7.6h-16.4zM73.5 749.0h16.4v7.6h-16.4zM443.8 719.6h16.4v7.6h-16.4zM507.9 727.0h16.4v7.6h-16.4zM572.1 741.6h16.4v7.6h-16.4zM507.9 749.0h16.4v7.6h-16.4zM686.2 675.5h16.4v7.6h-16.4zM734.4 697.5h16.4v7.6h-16.4z"/>
<path fill="#c2ddf0" d="M169.9 585.5h16.4v7.7h-16.4zM314.6 592.9h16.4v7.7h-16.4zM169.9 607.6h16.4v7.7h-16.4zM314.6 607.6h16.4v7.7h-16.4zM137.8 615.0h16.4v7.7h-16.4zM378.8 637.1h16.4v7.7h-16.4zM378.8 644.5h16.4v7.7h-16.4zM378.8 651.9h16.4v7.7h-16.4zM556.1 585.5h16.4v7.7h-16.4zM572.1 592.9h16.4v7.7h-16.4zM604.2 592.9h16.4v7.7h-16.4zM427.7 600.2h16.4v7.7h-16.4zM475.9 615.0h16.4v7.7h-16.4zM459.8 629.8h16.4v7.7h-16.4zM572.1 637.1h16.4v7.7h-16.4zM507.9 644.5h16.4v7.7h-16.4zM491.9 659.2h16.4v7.7h-16.4zM475.9 666.6h16.4v7.7h-16.4zM507.9 666.6h16.4v7.7h-16.4zM282.4 675.5h16.4v7.6h-16.4zM330.6 682.9h16.4v7.6h-16.4zM218.1 690.2h16.4v7.6h-16.4zM330.6 704.9h16.4v7.6h-16.4zM282.4 712.2h16.4v7.6h-16.4zM298.5 712.2h16.4v7.6h-16.4zM153.8 727.0h16.4v7.6h-16.4zM378.8 727.0h16.4v7.6h-16.4zM394.9 741.6h16.4v7.6h-16.4zM202.1 749.0h16.4v7.6h-16.4zM459.8 690.2h16.4v7.6h-16.4zM459.8 697.5h16.4v7.6h-16.4zM540.0 697.5h16.4v7.6h-16.4zM459.8 704.9h16.4v7.6h-16.4zM604.2 704.9h16.4v7.6h-16.4zM491.9 712.2h16.4v7.6h-16.4zM524.0 712.2h16.4v7.6h-16.4zM620.3 734.3h16.4v7.6h-16.4zM620.3 741.6h16.4v7.6h-16.4zM718.4 697.5h16.4v7.6h-16.4zM766.6 697.5h16.4v7.6h-16.4zM766.6 727.0h16.4v7.6h-16.4zM798.7 727.0h16.4v7.6h-16.4zM654.1 749.0h16.4v7.6h-16.4z"/>
<path fill="#f3f8fc" d="M202.1 585.5h16.4v7.7h-16.4zM330.6 585.5h16.4v7.7h-16.4zM218.1 592.9h16.4v7.7h-16.4zM298.5 592.9h16.4v7.7h-16.4zM378.8 592.9h16.4v7.7h-16.4zM411.0 592.9h16.4v7.7h-16.4zM298.5 607.6h16.4v7.7h-16.4zM330.6 607.6h16.4v7.7h-16.4zM250.3 615.0h16.4v7.7h-16.4zM298.5 615.0h16.4v7.7h-16.4zM314.6 615.0h16.4v7.7h-16.4zM218.1 622.4h16.4v7.7h-16.4zM218.1 629.8h16.4v7.7h-16.4zM218.1 637.1h16.4v7.7h-16.4zM250.3 637.1h16.4v7.7h-16.4zM186.0 644.5h16.4v7.7h-16.4zM250.3 644.5h16.4v7.7h-16.4zM202.1 651.9h16.4v7.7h-16.4zM218.1 651.9h16.4v7.7h-16.4zM250.3 651.9h16.4v7.7h-16.4zM137.8 659.2h16.4v7.7h-16.4zM186.0 659.2h16.4v7.7h-16.4zM202.1 666.6h16.4v7.7h-16.4zM459.8 585.5h16.4v7.7h-16.4zM491.9 592.9h16.4v7.7h-16.4zM604.2 600.2h16.4v7.7h-16.4zM556.1 607.6h16.4v7.7h-16.4zM572.1 615.0h16.4v7.7h-16.4zM540.0 622.4h16.4v7.7h-16.4zM443.8 629.8h16.4v7.7h-16.4zM475.9 629.8h16.4v7.7h-16.4zM443.8 644.5h16.4v7.7h-16.4zM459.8 644.5h16.4v7.7h-16.4zM475.9 644.5h16.4v7.7h-16.4zM798.7 585.5h16.4v7.7h-16.4zM218.1 682.9h16.4v7.6h-16.4zM218.1 697.5h16.4v7.6h-16.4zM282.4 704.9h16.4v7.6h-16.4zM298.5 704.9h16.4v7.6h-16.4zM121.7 719.6h16.4v7.6h-16.4zM169.9 719.6h16.4v7.6h-16.4zM218.1 719.6h16.4v7.6h-16.4zM202.1 727.0h16.4v7.6h-16.4zM362.8 727.0h16.4v7.6h-16.4zM394.9 727.0h16.4v7.6h-16.4zM202.1 734.3h16.4v7.6h-16.4zM314.6 734.3h16.4v7.6h-16.4zM169.9 741.6h16.4v7.6h-16.4zM314.6 741.6h16.4v7.6h-16.4zM394.9 749.0h16.4v7.6h-16.4zM572.1 675.5h16.4v7.6h-16.4zM588.2 675.5h16.4v7.6h-16.4zM507.9 690.2h16.4v7.6h-16.4zM556.1 690.2h16.4v7.6h-16.4zM588.2 697.5h16.4v7.6h-16.4zM556.1 712.2h16.4v7.6h-16.4zM572.1 719.6h16.4v7.6h-16.4zM604.2 719.6h16.4v7.6h-16.4zM427.7 727.0h16.4v7.6h-16.4zM443.8 727.0h16.4v7.6h-16.4zM427.7 734.3h16.4v7.6h-16.4zM782.6 719.6h16.4v7.6h-16.4zM782.6 727.0h16.4v7.6h-16.4zM670.1 734.3h16.4v7.6h-16.4zM702.3 734.3h16.4v7.6h-16.4zM782.6 734.3h16.4v7.6h-16.4zM670.1 741.6h16.4v7.6h-16.4z"/>
<path fill="#6bb3de" d="M218.1 585.5h16.4v7.7h-16.4zM378.8 600.2h16.4v7.7h-16.4zM282.4 622.4h16.4v7.7h-16.4zM298.5 629.8h16.4v7.7h-16.4zM394.9 644.5h16.4v7.7h-16.4zM572.1 622.4h16.4v7.7h-16.4zM588.2 622.4h16.4v7.7h-16.4zM588.2 651.9h16.4v7.7h-16.4zM266.3 682.9h16.4v7.6h-16.4zM298.5 690.2h16.4v7.6h-16.4zM346.7 719.6h16.4v7.6h-16.4zM588.2 712.2h16.4v7.6h-16.4zM427.7 719.6h16.4v7.6h-16.4zM524.0 719.6h16.4v7.6h-16.4zM766.6 749.0h16.4v7.6h-16.4z"/>
<path fill="#cee4f3" d="M234.2 585.5h16.4v7.7h-16.4zM314.6 600.2h16.4v7.7h-16.4zM250.3 607.6h16.4v7.7h-16.4zM362.8 615.0h16.4v7.7h-16.4zM378.8 615.0h16.4v7.7h-16.4zM330.6 622.4h16.4v7.7h-16.4zM282.4 629.8h16.4v7.7h-16.4zM266.3 637.1h16.4v7.7h-16.4zM314.6 644.5h16.4v7.7h-16.4zM314.6 651.9h16.4v7.7h-16.4zM266.3 659.2h16.4v7.7h-16.4zM330.6 659.2h16.4v7.7h-16.4zM411.0 659.2h16.4v7.7h-16.4zM491.9 585.5h16.4v7.7h-16.4zM556.1 592.9h16.4v7.7h-16.4zM507.9 600.2h16.4v7.7h-16.4zM620.3 615.0h16.4v7.7h-16.4zM491.9 637.1h16.4v7.7h-16.4zM540.0 637.1h16.4v7.7h-16.4zM491.9 644.5h16.4v7.7h-16.4zM540.0 644.5h16.4v7.7h-16.4zM475.9 651.9h16.4v7.7h-16.4zM491.9 651.9h16.4v7.7h-16.4zM540.0 651.9h16.4v7.7h-16.4zM540.0 659.2h16.4v7.7h-16.4zM556.1 659.2h16.4v7.7h-16.4zM750.5 666.6h16.4v7.7h-16.4zM346.7 682.9h16.4v7.6h-16.4zM330.6 697.5h16.4v7.6h-16.4zM250.3 712.2h16.4v7.6h-16.4zM346.7 712.2h16.4v7.6h-16.4zM282.4 741.6h16.4v7.6h-16.4zM556.1 682.9h16.4v7.6h-16.4zM524.0 690.2h16.4v7.6h-16.4zM475.9 712.2h16.4v7.6h-16.4zM604.2 734.3h16.4v7.6h-16.4zM604.2 741.6h16.4v7.6h-16.4zM782.6 741.6h16.4v7.6h-16.4z"/>
<path fill="#daebf6" d="M250.3 585.5h16.4v7.7h-16.4zM266.3 585.5h16.4v7.7h-16.4zM282.4 585.5h16.4v7.7h-16.4zM282.4 592.9h16.4v7.7h-16.4zM330.6 592.9h16.4v7.7h-16.4zM346.7 592.9h16.4v7.7h-16.4zM266.3 600.2h16.4v7.7h-16.4zM186.0 607.6h16.4v7.7h-16.4zM266.3 615.0h16.4v7.7h-16.4zM250.3 629.8h16.4v7.7h-16.4zM202.1 637.1h16.4v7.7h-16.4zM202.1 644.5h16.4v7.7h-16.4zM394.9 659.2h16.4v7.7h-16.4zM298.5 666.6h16.4v7.7h-16.4zM346.7 666.6h16.4v7.7h-16.4zM394.9 666.6h16.4v7.7h-16.4zM427.7 585.5h16.4v7.7h-16.4zM443.8 585.5h16.4v7.7h-16.4zM507.9 585.5h16.4v7.7h-16.4zM443.8 607.6h16.4v7.7h-16.4zM524.0 622.4h16.4v7.7h-16.4zM524.0 629.8h16.4v7.7h-16.4zM604.2 629.8h16.4v7.7h-16.4zM524.0 666.6h16.4v7.7h-16.4zM638.0 615.0h16.4v7.7h-16.4zM766.6 622.4h16.4v7.7h-16.4zM798.7 622.4h16.4v7.7h-16.4zM782.6 659.2h16.4v7.7h-16.4zM798.7 659.2h16.4v7.7h-16.4zM314.6 682.9h16.4v7.6h-16.4zM378.8 682.9h16.4v7.6h-16.4zM153.8 697.5h16.4v7.6h-16.4zM282.4 697.5h16.4v7.6h-16.4zM250.3 704.9h16.4v7.6h-16.4zM346.7 704.9h16.4v7.6h-16.4zM362.8 712.2h16.4v7.6h-16.4zM169.9 727.0h16.4v7.6h-16.4zM202.1 741.6h16.4v7.6h-16.4zM153.8 749.0h16.4v7.6h-16.4zM362.8 749.0h16.4v7.6h-16.4zM459.8 675.5h16.4v7.6h-16.4zM540.0 675.5h16.4v7.6h-16.4zM459.8 682.9h16.4v7.6h-16.4zM443.8 704.9h16.4v7.6h-16.4zM491.9 704.9h16.4v7.6h-16.4zM540.0 712.2h16.4v7.6h-16.4zM798.7 675.5h16.4v7.6h-16.4zM750.5 697.5h16.4v7.6h-16.4zM702.3 719.6h16.4v7.6h-16.4zM734.4 719.6h16.4v7.6h-16.4zM702.3 727.0h16.4v7.6h-16.4z"/>
<path fill="#90c2e5" d="M298.5 585.5h16.4v7.7h-16.4zM330.6 600.2h16.4v7.7h-16.4zM362.8 607.6h16.4v7.7h-16.4zM346.7 659.2h16.4v7.7h-16.4zM572.1 585.5h16.4v7.7h-16.4zM556.1 600.2h16.4v7.7h-16.4zM572.1 600.2h16.4v7.7h-16.4zM588.2 600.2h16.4v7.7h-16.4zM491.9 615.0h16.4v7.7h-16.4zM556.1 622.4h16.4v7.7h-16.4zM604.2 622.4h16.4v7.7h-16.4zM556.1 629.8h16.4v7.7h-16.4zM572.1 644.5h16.4v7.7h-16.4zM507.9 651.9h16.4v7.7h-16.4zM702.3 659.2h16.4v7.7h-16.4zM362.8 675.5h16.4v7.6h-16.4zM394.9 682.9h16.4v7.6h-16.4zM362.8 697.5h16.4v7.6h-16.4zM314.6 712.2h16.4v7.6h-16.4zM330.6 712.2h16.4v7.6h-16.4zM186.0 719.6h16.4v7.6h-16.4zM153.8 734.3h16.4v7.6h-16.4zM507.9 675.5h16.4v7.6h-16.4zM604.2 712.2h16.4v7.6h-16.4zM604.2 727.0h16.4v7.6h-16.4zM540.0 749.0h16.4v7.6h-16.4zM654.1 719.6h16.4v7.6h-16.4zM686.2 734.3h16.4v7.6h-16.4zM718.4 741.6h16.4v7.6h-16.4zM718.4 749.0h16.4v7.6h-16.4zM782.6 749.0h16.4v7.6h-16.4zM798.7 749.0h16.4v7.6h-16.4z"/>
<path fill="#b5d6ee" d="M314.6 585.5h16.4v7.7h-16.4zM298.5 622.4h16.4v7.7h-16.4zM314.6 629.8h16.4v7.7h-16.4zM346.7 629.8h16.4v7.7h-16.4zM314.6 659.2h16.4v7.7h-16.4zM186.0 666.6h16.4v7.7h-16.4zM459.8 607.6h16.4v7.7h-16.4zM507.9 607.6h16.4v7.7h-16.4zM491.9 629.8h16.4v7.7h-16.4zM507.9 637.1h16.4v7.7h-16.4zM443.8 659.2h16.4v7.7h-16.4zM620.3 666.6h16.4v7.7h-16.4zM782.6 666.6h16.4v7.7h-16.4zM378.8 697.5h16.4v7.6h-16.4zM378.8 704.9h16.4v7.6h-16.4zM346.7 727.0h16.4v7.6h-16.4zM394.9 734.3h16.4v7.6h-16.4zM330.6 749.0h16.4v7.6h-16.4zM475.9 675.5h16.4v7.6h-16.4zM524.0 682.9h16.4v7.6h-16.4zM572.1 682.9h16.4v7.6h-16.4zM620.3 690.2h16.4v7.6h-16.4zM475.9 697.5h16.4v7.6h-16.4zM491.9 697.5h16.4v7.6h-16.4zM475.9 704.9h16.4v7.6h-16.4zM459.8 712.2h16.4v7.6h-16.4zM491.9 734.3h16.4v7.6h-16.4zM491.9 741.6h16.4v7.6h-16.4zM604.2 749.0h16.4v7.6h-16.4zM766.6 690.2h16.4v7.6h-16.4zM750.5 734.3h16.4v7.6h-16.4zM798.7 734.3h16.4v7.6h-16.4zM750.5 741.6h16.4v7.6h-16.4zM798.7 741.6h16.4v7.6h-16.4zM734.4 749.0h16.4v7.6h-16.4zM750.5 749.0h16.4v7.6h-16.4z"/>
<path fill="#ca0028" d="M346.7 585.5h16.4v7.7h-16.4zM73.5 592.9h16.4v7.7h-16.4zM89.6 607.6h16.4v7.7h-16.4zM137.8 607.6h16.4v7.7h-16.4zM105.6 615.0h16.4v7.7h-16.4zM153.8 615.0h16.4v7.7h-16.4zM73.5 622.4h16.4v7.7h-16.4zM89.6 622.4h16.4v7.7h-16.4zM105.6 622.4h16.4v7.7h-16.4zM73.5 629.8h16.4v7.7h-16.4zM89.6 629.8h16.4v7.7h-16.4zM105.6 629.8h16.4v7.7h-16.4zM73.5 637.1h16.4v7.7h-16.4zM89.6 637.1h16.4v7.7h-16.4zM105.6 637.1h16.4v7.7h-16.4zM89.6 644.5h16.4v7.7h-16.4zM153.8 651.9h16.4v7.7h-16.4zM73.5 659.2h16.4v7.7h-16.4zM105.6 659.2h16.4v7.7h-16.4zM718.4 585.5h16.4v7.7h-16.4zM734.4 585.5h16.4v7.7h-16.4zM750.5 585.5h16.4v7.7h-16.4zM654.1 592.9h16.4v7.7h-16.4zM670.1 600.2h16.4v7.7h-16.4zM638.0 607.6h16.4v7.7h-16.4zM686.2 615.0h16.4v7.7h-16.4zM670.1 622.4h16.4v7.7h-16.4zM638.0 629.8h16.4v7.7h-16.4zM670.1 629.8h16.4v7.7h-16.4zM670.1 637.1h16.4v7.7h-16.4zM638.0 644.5h16.4v7.7h-16.4zM670.1 644.5h16.4v7.7h-16.4zM670.1 651.9h16.4v7.7h-16.4zM654.1 659.2h16.4v7.7h-16.4zM670.1 659.2h16.4v7.7h-16.4zM686.2 659.2h16.4v7.7h-16.4zM654.1 666.6h16.4v7.7h-16.4zM73.5 675.5h16.4v7.6h-16.4zM169.9 675.5h16.4v7.6h-16.4zM73.5 682.9h16.4v7.6h-16.4zM169.9 682.9h16.4v7.6h-16.4zM73.5 690.2h16.4v7.6h-16.4zM73.5 697.5h16.4v7.6h-16.4zM169.9 697.5h16.4v7.6h-16.4zM73.5 704.9h16.4v7.6h-16.4zM89.6 704.9h16.4v7.6h-16.4zM73.5 712.2h16.4v7.6h-16.4zM89.6 712.2h16.4v7.6h-16.4zM250.3 719.6h16.4v7.6h-16.4zM137.8 727.0h16.4v7.6h-16.4zM266.3 734.3h16.4v7.6h-16.4zM266.3 741.6h16.4v7.6h-16.4zM137.8 749.0h16.4v7.6h-16.4zM266.3 749.0h16.4v7.6h-16.4zM459.8 719.6h16.4v7.6h-16.4zM475.9 719.6h16.4v7.6h-16.4zM459.8 727.0h16.4v7.6h-16.4zM588.2 727.0h16.4v7.6h-16.4zM654.1 675.5h16.4v7.6h-16.4zM702.3 675.5h16.4v7.6h-16.4zM654.1 682.9h16.4v7.6h-16.4zM702.3 682.9h16.4v7.6h-16.4zM702.3 690.2h16.4v7.6h-16.4zM734.4 690.2h16.4v7.6h-16.4zM638.0 697.5h16.4v7.6h-16.4zM654.1 697.5h16.4v7.6h-16.4zM702.3 697.5h16.4v7.6h-16.4zM638.0 704.9h16.4v7.6h-16.4zM638.0 712.2h16.4v7.6h-16.4zM654.1 712.2h16.4v7.6h-16.4zM638.0 749.0h16.4v7.6h-16.4z"/>
<path fill="#45a6d8" d="M362.8 585.5h16.4v7.7h-16.4zM378.8 622.4h16.4v7.7h-16.4zM572.1 607.6h16.4v7.7h-16.4zM507.9 615.0h16.4v7.7h-16.4zM620.3 697.5h16.4v7.6h-16.4zM766.6 734.3h16.4v7.6h-16.4z"/>
<path fill="#1f9ad1" d="M378.8 585.5h16.4v7.7h-16.4zM507.9 622.4h16.4v7.7h-16.4zM394.9 675.5h16.4v7.6h-16.4zM654.1 741.6h16.4v7.6h-16.4z"/>
<path fill="#38a2d5" d="M394.9 585.5h16.4v7.7h-16.4zM394.9 615.0h16.4v7.7h-16.4zM604.2 644.5h16.4v7.7h-16.4zM620.3 651.9h16.4v7.7h-16.4zM540.0 666.6h16.4v7.7h-16.4zM298.5 675.5h16.4v7.6h-16.4zM411.0 675.5h16.4v7.6h-16.4zM654.1 734.3h16.4v7.6h-16.4z"/>
<path fill="#0692cd" d="M411.0 585.5h16.4v7.7h-16.4zM394.9 592.9h16.4v7.7h-16.4zM394.9 600.2h16.4v7.7h-16.4zM411.0 600.2h16.4v7.7h-16.4zM394.9 607.6h16.4v7.7h-16.4zM282.4 615.0h16.4v7.7h-16.4zM330.6 615.0h16.4v7.7h-16.4zM411.0 615.0h16.4v7.7h-16.4zM362.8 629.8h16.4v7.7h-16.4zM411.0 629.8h16.4v7.7h-16.4zM362.8 637.1h16.4v7.7h-16.4zM394.9 637.1h16.4v7.7h-16.4zM362.8 644.5h16.4v7.7h-16.4zM362.8 659.2h16.4v7.7h-16.4zM330.6 666.6h16.4v7.7h-16.4zM411.0 666.6h16.4v7.7h-16.4zM524.0 592.9h16.4v7.7h-16.4zM620.3 592.9h16.4v7.7h-16.4zM620.3 600.2h16.4v7.7h-16.4zM620.3 607.6h16.4v7.7h-16.4zM588.2 615.0h16.4v7.7h-16.4zM604.2 615.0h16.4v7.7h-16.4zM588.2 629.8h16.4v7.7h-16.4zM620.3 629.8h16.4v7.7h-16.4zM604.2 637.1h16.4v7.7h-16.4zM620.3 644.5h16.4v7.7h-16.4zM604.2 651.9h16.4v7.7h-16.4zM620.3 659.2h16.4v7.7h-16.4zM588.2 666.6h16.4v7.7h-16.4zM604.2 666.6h16.4v7.7h-16.4zM798.7 592.9h16.4v7.7h-16.4zM798.7 607.6h16.4v7.7h-16.4zM362.8 682.9h16.4v7.6h-16.4zM411.0 682.9h16.4v7.6h-16.4zM282.4 690.2h16.4v7.6h-16.4zM411.0 690.2h16.4v7.6h-16.4zM234.2 697.5h16.4v7.6h-16.4zM411.0 697.5h16.4v7.6h-16.4zM266.3 704.9h16.4v7.6h-16.4zM394.9 704.9h16.4v7.6h-16.4zM411.0 704.9h16.4v7.6h-16.4zM394.9 712.2h16.4v7.6h-16.4zM411.0 712.2h16.4v7.6h-16.4zM153.8 719.6h16.4v7.6h-16.4zM234.2 719.6h16.4v7.6h-16.4zM234.2 727.0h16.4v7.6h-16.4zM234.2 734.3h16.4v7.6h-16.4zM378.8 734.3h16.4v7.6h-16.4zM234.2 741.6h16.4v7.6h-16.4zM378.8 741.6h16.4v7.6h-16.4zM234.2 749.0h16.4v7.6h-16.4zM620.3 675.5h16.4v7.6h-16.4zM620.3 682.9h16.4v7.6h-16.4zM475.9 690.2h16.4v7.6h-16.4zM524.0 697.5h16.4v7.6h-16.4zM588.2 704.9h16.4v7.6h-16.4zM620.3 704.9h16.4v7.6h-16.4zM620.3 712.2h16.4v7.6h-16.4zM524.0 727.0h16.4v7.6h-16.4zM524.0 734.3h16.4v7.6h-16.4zM524.0 741.6h16.4v7.6h-16.4zM524.0 749.0h16.4v7.6h-16.4zM718.4 727.0h16.4v7.6h-16.4zM766.6 741.6h16.4v7.6h-16.4zM702.3 749.0h16.4v7.6h-16.4z"/>
<path fill="#e35b67" d="M105.6 592.9h16.4v7.7h-16.4zM121.7 600.2h16.4v7.7h-16.4zM202.1 615.0h16.4v7.7h-16.4zM121.7 637.1h16.4v7.7h-16.4zM234.2 637.1h16.4v7.7h-16.4zM121.7 644.5h16.4v7.7h-16.4zM234.2 644.5h16.4v7.7h-16.4zM234.2 666.6h16.4v7.7h-16.4zM718.4 644.5h16.4v7.7h-16.4zM638.0 651.9h16.4v7.7h-16.4zM718.4 651.9h16.4v7.7h-16.4zM121.7 675.5h16.4v7.6h-16.4zM153.8 682.9h16.4v7.6h-16.4zM105.6 690.2h16.4v7.6h-16.4zM186.0 690.2h16.4v7.6h-16.4zM105.6 704.9h16.4v7.6h-16.4zM121.7 712.2h16.4v7.6h-16.4zM411.0 727.0h16.4v7.6h-16.4zM411.0 734.3h16.4v7.6h-16.4zM556.1 734.3h16.4v7.6h-16.4zM459.8 741.6h16.4v7.6h-16.4zM475.9 741.6h16.4v7.6h-16.4zM459.8 749.0h16.4v7.6h-16.4zM588.2 749.0h16.4v7.6h-16.4zM718.4 675.5h16.4v7.6h-16.4zM686.2 682.9h16.4v7.6h-16.4zM750.5 690.2h16.4v7.6h-16.4zM638.0 727.0h16.4v7.6h-16.4zM638.0 734.3h16.4v7.6h-16.4zM638.0 741.6h16.4v7.6h-16.4z"/>
<path fill="#f08e8e" d="M121.7 592.9h16.4v7.7h-16.4zM234.2 600.2h16.4v7.7h-16.4zM202.1 607.6h16.4v7.7h-16.4zM218.1 607.6h16.4v7.7h-16.4zM121.7 615.0h16.4v7.7h-16.4zM169.9 622.4h16.4v7.7h-16.4zM153.8 629.8h16.4v7.7h-16.4zM234.2 629.8h16.4v7.7h-16.4zM169.9 637.1h16.4v7.7h-16.4zM137.8 666.6h16.4v7.7h-16.4zM169.9 666.6h16.4v7.7h-16.4zM734.4 600.2h16.4v7.7h-16.4zM702.3 615.0h16.4v7.7h-16.4zM750.5 659.2h16.4v7.7h-16.4zM686.2 666.6h16.4v7.7h-16.4zM202.1 697.5h16.4v7.6h-16.4zM491.9 719.6h16.4v7.6h-16.4zM798.7 690.2h16.4v7.6h-16.4zM734.4 712.2h16.4v7.6h-16.4z"/>
<path fill="#f6c0c0" d="M137.8 592.9h16.4v7.7h-16.4zM137.8 651.9h16.4v7.7h-16.4zM524.0 651.9h16.4v7.7h-16.4zM459.8 659.2h16.4v7.7h-16.4zM734.4 637.1h16.4v7.7h-16.4zM766.6 637.1h16.4v7.7h-16.4zM638.0 659.2h16.4v7.7h-16.4zM137.8 690.2h16.4v7.6h-16.4zM346.7 690.2h16.4v7.6h-16.4zM346.7 697.5h16.4v7.6h-16.4zM362.8 704.9h16.4v7.6h-16.4zM169.9 712.2h16.4v7.6h-16.4zM362.8 734.3h16.4v7.6h-16.4zM330.6 741.6h16.4v7.6h-16.4zM218.1 749.0h16.4v7.6h-16.4zM250.3 749.0h16.4v7.6h-16.4zM507.9 719.6h16.4v7.6h-16.4zM491.9 727.0h16.4v7.6h-16.4zM540.0 727.0h16.4v7.6h-16.4zM540.0 741.6h16.4v7.6h-16.4zM782.6 682.9h16.4v7.6h-16.4zM686.2 704.9h16.4v7.6h-16.4zM702.3 704.9h16.4v7.6h-16.4zM750.5 712.2h16.4v7.6h-16.4z"/>
<path fill="#ea7579" d="M202.1 592.9h16.4v7.7h-16.4zM89.6 615.0h16.4v7.7h-16.4zM169.9 615.0h16.4v7.7h-16.4zM121.7 651.9h16.4v7.7h-16.4zM491.9 666.6h16.4v7.7h-16.4zM702.3 592.9h16.4v7.7h-16.4zM718.4 592.9h16.4v7.7h-16.4zM718.4 600.2h16.4v7.7h-16.4zM654.1 607.6h16.4v7.7h-16.4zM654.1 615.0h16.4v7.7h-16.4zM750.5 644.5h16.4v7.7h-16.4zM105.6 734.3h16.4v7.6h-16.4zM105.6 741.6h16.4v7.6h-16.4zM443.8 682.9h16.4v7.6h-16.4zM556.1 749.0h16.4v7.6h-16.4zM638.0 682.9h16.4v7.6h-16.4zM670.1 682.9h16.4v7.6h-16.4z"/>
<path fill="#f8cdcd" d="M250.3 592.9h16.4v7.7h-16.4zM186.0 600.2h16.4v7.7h-16.4zM250.3 659.2h16.4v7.7h-16.4zM524.0 615.0h16.4v7.7h-16.4zM427.7 622.4h16.4v7.7h-16.4zM427.7 629.8h16.4v7.7h-16.4zM782.6 615.0h16.4v7.7h-16.4zM734.4 629.8h16.4v7.7h-16.4zM766.6 629.8h16.4v7.7h-16.4zM702.3 651.9h16.4v7.7h-16.4zM702.3 666.6h16.4v7.7h-16.4zM153.8 675.5h16.4v7.6h-16.4zM234.2 682.9h16.4v7.6h-16.4zM153.8 690.2h16.4v7.6h-16.4zM153.8 704.9h16.4v7.6h-16.4zM186.0 712.2h16.4v7.6h-16.4zM73.5 734.3h16.4v7.6h-16.4zM73.5 741.6h16.4v7.6h-16.4zM121.7 749.0h16.4v7.6h-16.4zM346.7 749.0h16.4v7.6h-16.4zM378.8 749.0h16.4v7.6h-16.4zM427.7 704.9h16.4v7.6h-16.4zM540.0 719.6h16.4v7.6h-16.4zM620.3 719.6h16.4v7.6h-16.4zM766.6 675.5h16.4v7.6h-16.4zM670.1 697.5h16.4v7.6h-16.4z"/>
<path fill="#a9cfeb" d="M266.3 592.9h16.4v7.7h-16.4zM346.7 622.4h16.4v7.7h-16.4zM378.8 629.8h16.4v7.7h-16.4zM282.4 644.5h16.4v7.7h-16.4zM411.0 644.5h16.4v7.7h-16.4zM282.4 651.9h16.4v7.7h-16.4zM411.0 651.9h16.4v7.7h-16.4zM427.7 592.9h16.4v7.7h-16.4zM604.2 659.2h16.4v7.7h-16.4zM572.1 666.6h16.4v7.7h-16.4zM314.6 675.5h16.4v7.6h-16.4zM330.6 675.5h16.4v7.6h-16.4zM378.8 712.2h16.4v7.6h-16.4zM362.8 719.6h16.4v7.6h-16.4zM153.8 741.6h16.4v7.6h-16.4zM556.1 697.5h16.4v7.6h-16.4zM654.1 727.0h16.4v7.6h-16.4z"/>
<path fill="#84bbe2" d="M362.8 592.9h16.4v7.7h-16.4zM266.3 607.6h16.4v7.7h-16.4zM411.0 607.6h16.4v7.7h-16.4zM346.7 615.0h16.4v7.7h-16.4zM362.8 622.4h16.4v7.7h-16.4zM394.9 622.4h16.4v7.7h-16.4zM411.0 622.4h16.4v7.7h-16.4zM378.8 659.2h16.4v7.7h-16.4zM362.8 666.6h16.4v7.7h-16.4zM620.3 585.5h16.4v7.7h-16.4zM443.8 600.2h16.4v7.7h-16.4zM298.5 682.9h16.4v7.6h-16.4zM202.1 690.2h16.4v7.6h-16.4zM475.9 682.9h16.4v7.6h-16.4zM507.9 682.9h16.4v7.6h-16.4zM604.2 682.9h16.4v7.6h-16.4zM524.0 704.9h16.4v7.6h-16.4zM507.9 712.2h16.4v7.6h-16.4zM718.4 719.6h16.4v7.6h-16.4zM734.4 727.0h16.4v7.6h-16.4zM734.4 734.3h16.4v7.6h-16.4zM686.2 741.6h16.4v7.6h-16.4zM734.4 741.6h16.4v7.6h-16.4z"/>
<path fill="#d52743" d="M73.5 600.2h16.4v7.7h-16.4zM234.2 615.0h16.4v7.7h-16.4zM89.6 651.9h16.4v7.7h-16.4zM153.8 659.2h16.4v7.7h-16.4zM686.2 622.4h16.4v7.7h-16.4zM686.2 629.8h16.4v7.7h-16.4zM638.0 637.1h16.4v7.7h-16.4zM686.2 644.5h16.4v7.7h-16.4zM718.4 659.2h16.4v7.7h-16.4zM105.6 712.2h16.4v7.6h-16.4zM137.8 712.2h16.4v7.6h-16.4zM89.6 727.0h16.4v7.6h-16.4zM638.0 690.2h16.4v7.6h-16.4zM654.1 690.2h16.4v7.6h-16.4zM670.1 712.2h16.4v7.6h-16.4z"/>
<path fill="#f19b9b" d="M137.8 600.2h16.4v7.7h-16.4zM202.1 622.4h16.4v7.7h-16.4zM137.8 644.5h16.4v7.7h-16.4zM282.4 666.6h16.4v7.7h-16.4zM766.6 600.2h16.4v7.7h-16.4zM734.4 644.5h16.4v7.7h-16.4zM734.4 651.9h16.4v7.7h-16.4zM750.5 651.9h16.4v7.7h-16.4zM798.7 666.6h16.4v7.7h-16.4zM105.6 697.5h16.4v7.6h-16.4zM121.7 697.5h16.4v7.6h-16.4zM137.8 697.5h16.4v7.6h-16.4zM121.7 704.9h16.4v7.6h-16.4zM202.1 712.2h16.4v7.6h-16.4zM202.1 719.6h16.4v7.6h-16.4zM298.5 719.6h16.4v7.6h-16.4zM314.6 719.6h16.4v7.6h-16.4zM121.7 734.3h16.4v7.6h-16.4zM121.7 741.6h16.4v7.6h-16.4zM186.0 741.6h16.4v7.6h-16.4zM362.8 741.6h16.4v7.6h-16.4zM540.0 734.3h16.4v7.6h-16.4zM620.3 749.0h16.4v7.6h-16.4zM718.4 690.2h16.4v7.6h-16.4zM782.6 697.5h16.4v7.6h-16.4zM718.4 704.9h16.4v7.6h-16.4zM686.2 712.2h16.4v7.6h-16.4zM702.3 712.2h16.4v7.6h-16.4zM766.6 712.2h16.4v7.6h-16.4z"/>
<path fill="#e76870" d="M153.8 600.2h16.4v7.7h-16.4zM121.7 622.4h16.4v7.7h-16.4zM121.7 629.8h16.4v7.7h-16.4zM137.8 629.8h16.4v7.7h-16.4zM250.3 666.6h16.4v7.7h-16.4zM266.3 666.6h16.4v7.7h-16.4zM686.2 585.5h16.4v7.7h-16.4zM718.4 615.0h16.4v7.7h-16.4zM734.4 666.6h16.4v7.7h-16.4zM105.6 749.0h16.4v7.6h-16.4zM411.0 749.0h16.4v7.6h-16.4zM443.8 697.5h16.4v7.6h-16.4zM638.0 675.5h16.4v7.6h-16.4zM670.1 675.5h16.4v7.6h-16.4z"/>
<path fill="#ffffff" d="M169.9 600.2h16.4v7.7h-16.4zM250.3 600.2h16.4v7.7h-16.4zM282.4 600.2h16.4v7.7h-16.4zM186.0 629.8h16.4v7.7h-16.4zM202.1 659.2h16.4v7.7h-16.4zM282.4 659.2h16.4v7.7h-16.4zM89.6 666.6h16.4v7.7h-16.4zM459.8 592.9h16.4v7.7h-16.4zM540.0 607.6h16.4v7.7h-16.4zM556.1 615.0h16.4v7.7h-16.4zM443.8 622.4h16.4v7.7h-16.4zM427.7 637.1h16.4v7.7h-16.4zM459.8 637.1h16.4v7.7h-16.4zM475.9 637.1h16.4v7.7h-16.4zM524.0 644.5h16.4v7.7h-16.4zM443.8 651.9h16.4v7.7h-16.4zM427.7 659.2h16.4v7.7h-16.4zM443.8 666.6h16.4v7.7h-16.4zM766.6 585.5h16.4v7.7h-16.4zM734.4 592.9h16.4v7.7h-16.4zM766.6 592.9h16.4v7.7h-16.4zM782.6 592.9h16.4v7.7h-16.4zM702.3 607.6h16.4v7.7h-16.4zM734.4 622.4h16.4v7.7h-16.4zM782.6 629.8h16.4v7.7h-16.4zM702.3 637.1h16.4v7.7h-16.4zM702.3 644.5h16.4v7.7h-16.4zM782.6 644.5h16.4v7.7h-16.4zM202.1 675.5h16.4v7.6h-16.4zM234.2 675.5h16.4v7.6h-16.4zM202.1 682.9h16.4v7.6h-16.4zM250.3 682.9h16.4v7.6h-16.4zM234.2 690.2h16.4v7.6h-16.4zM89.6 697.5h16.4v7.6h-16.4zM169.9 704.9h16.4v7.6h-16.4zM89.6 719.6h16.4v7.6h-16.4zM314.6 727.0h16.4v7.6h-16.4zM169.9 734.3h16.4v7.6h-16.4zM218.1 734.3h16.4v7.6h-16.4zM346.7 741.6h16.4v7.6h-16.4zM169.9 749.0h16.4v7.6h-16.4zM507.9 697.5h16.4v7.6h-16.4zM604.2 697.5h16.4v7.6h-16.4zM540.0 704.9h16.4v7.6h-16.4zM556.1 704.9h16.4v7.6h-16.4zM443.8 712.2h16.4v7.6h-16.4zM620.3 727.0h16.4v7.6h-16.4zM443.8 734.3h16.4v7.6h-16.4zM427.7 741.6h16.4v7.6h-16.4zM507.9 741.6h16.4v7.6h-16.4zM443.8 749.0h16.4v7.6h-16.4zM782.6 675.5h16.4v7.6h-16.4zM766.6 682.9h16.4v7.6h-16.4zM782.6 712.2h16.4v7.6h-16.4zM766.6 719.6h16.4v7.6h-16.4zM686.2 749.0h16.4v7.6h-16.4zM153.8 769.7h16.4v9.5h-16.4zM186.0 769.7h16.4v9.5h-16.4zM250.3 769.7h16.4v9.5h-16.4zM234.2 778.8h16.4v9.5h-16.4zM266.3 778.8h16.4v9.5h-16.4zM346.7 778.8h16.4v9.5h-16.4zM330.6 797.2h16.4v9.5h-16.4zM153.8 806.3h16.4v9.5h-16.4zM218.1 806.3h16.4v9.5h-16.4zM346.7 806.3h16.4v9.5h-16.4zM121.7 824.7h16.4v9.5h-16.4zM218.1 824.7h16.4v9.5h-16.4zM540.0 769.7h16.4v9.5h-16.4zM540.0 778.8h16.4v9.5h-16.4zM507.9 788.0h16.4v9.5h-16.4zM475.9 797.2h16.4v9.5h-16.4zM443.8 806.3h16.4v9.5h-16.4zM540.0 806.3h16.4v9.5h-16.4zM427.7 815.5h16.4v9.5h-16.4zM443.8 815.5h16.4v9.5h-16.4zM604.2 815.5h16.4v9.5h-16.4zM734.4 760.5h16.4v9.5h-16.4zM782.6 760.5h16.4v9.5h-16.4zM670.1 769.7h16.4v9.5h-16.4zM734.4 769.7h16.4v9.5h-16.4zM766.6 769.7h16.4v9.5h-16.4zM798.7 769.7h16.4v9.5h-16.4zM782.6 778.8h16.4v9.5h-16.4zM766.6 788.0h16.4v9.5h-16.4zM782.6 788.0h16.4v9.5h-16.4zM766.6 797.2h16.4v9.5h-16.4zM782.6 797.2h16.4v9.5h-16.4zM782.6 806.3h16.4v9.5h-16.4zM670.1 824.7h16.4v9.5h-16.4zM718.4 824.7h16.4v9.5h-16.4zM250.3 838.6h16.4v9.5h-16.4zM250.3 847.8h16.4v9.5h-16.4zM314.6 847.8h16.4v9.5h-16.4zM411.0 847.8h16.4v9.5h-16.4zM89.6 857.0h16.4v9.5h-16.4zM314.6 857.0h16.4v9.5h-16.4zM105.6 875.3h16.4v9.5h-16.4zM330.6 875.3h16.4v9.5h-16.4zM411.0 875.3h16.4v9.5h-16.4zM73.5 884.5h16.4v9.5h-16.4zM411.0 884.5h16.4v9.5h-16.4zM330.6 893.7h16.4v9.5h-16.4zM186.0 902.9h16.4v9.5h-16.4zM234.2 912.0h16.4v9.5h-16.4zM378.8 912.0h16.4v9.5h-16.4zM507.9 838.6h16.4v9.5h-16.4zM604.2 838.6h16.4v9.5h-16.4zM459.8 875.3h16.4v9.5h-16.4zM443.8 884.5h16.4v9.5h-16.4zM556.1 884.5h16.4v9.5h-16.4zM443.8 902.9h16.4v9.5h-16.4zM507.9 902.9h16.4v9.5h-16.4zM654.1 838.6h16.4v9.5h-16.4zM670.1 857.0h16.4v9.5h-16.4zM686.2 866.1h16.4v9.5h-16.4zM718.4 912.0h16.4v9.5h-16.4z"/>
<path fill="#fdf2f2" d="M218.1 600.2h16.4v7.7h-16.4zM218.1 615.0h16.4v7.7h-16.4zM218.1 644.5h16.4v7.7h-16.4zM378.8 666.6h16.4v7.7h-16.4zM524.0 585.5h16.4v7.7h-16.4zM443.8 637.1h16.4v7.7h-16.4zM427.7 644.5h16.4v7.7h-16.4zM702.3 585.5h16.4v7.7h-16.4zM766.6 615.0h16.4v7.7h-16.4zM782.6 637.1h16.4v7.7h-16.4zM346.7 675.5h16.4v7.6h-16.4zM314.6 690.2h16.4v7.6h-16.4zM218.1 741.6h16.4v7.6h-16.4zM186.0 749.0h16.4v7.6h-16.4zM572.1 727.0h16.4v7.6h-16.4zM798.7 719.6h16.4v7.6h-16.4zM670.1 727.0h16.4v7.6h-16.4zM702.3 741.6h16.4v7.6h-16.4zM670.1 749.0h16.4v7.6h-16.4z"/>
<path fill="#9dc9e8" d="M298.5 600.2h16.4v7.7h-16.4zM378.8 607.6h16.4v7.7h-16.4zM330.6 629.8h16.4v7.7h-16.4zM394.9 629.8h16.4v7.7h-16.4zM282.4 637.1h16.4v7.7h-16.4zM314.6 637.1h16.4v7.7h-16.4zM330.6 637.1h16.4v7.7h-16.4zM346.7 637.1h16.4v7.7h-16.4zM266.3 644.5h16.4v7.7h-16.4zM266.3 651.9h16.4v7.7h-16.4zM314.6 666.6h16.4v7.7h-16.4zM475.9 607.6h16.4v7.7h-16.4zM524.0 607.6h16.4v7.7h-16.4zM588.2 607.6h16.4v7.7h-16.4zM507.9 629.8h16.4v7.7h-16.4zM556.1 637.1h16.4v7.7h-16.4zM556.1 644.5h16.4v7.7h-16.4zM556.1 651.9h16.4v7.7h-16.4zM507.9 659.2h16.4v7.7h-16.4zM378.8 675.5h16.4v7.6h-16.4zM362.8 690.2h16.4v7.6h-16.4zM266.3 697.5h16.4v7.6h-16.4zM298.5 697.5h16.4v7.6h-16.4zM394.9 697.5h16.4v7.6h-16.4zM314.6 704.9h16.4v7.6h-16.4zM73.5 719.6h16.4v7.6h-16.4zM491.9 675.5h16.4v7.6h-16.4zM507.9 704.9h16.4v7.6h-16.4zM556.1 719.6h16.4v7.6h-16.4zM798.7 712.2h16.4v7.6h-16.4z"/>
<path fill="#fce6e6" d="M346.7 600.2h16.4v7.7h-16.4zM73.5 615.0h16.4v7.7h-16.4zM202.1 629.8h16.4v7.7h-16.4zM186.0 651.9h16.4v7.7h-16.4zM169.9 659.2h16.4v7.7h-16.4zM540.0 585.5h16.4v7.7h-16.4zM604.2 585.5h16.4v7.7h-16.4zM475.9 592.9h16.4v7.7h-16.4zM507.9 592.9h16.4v7.7h-16.4zM491.9 600.2h16.4v7.7h-16.4zM427.7 607.6h16.4v7.7h-16.4zM475.9 659.2h16.4v7.7h-16.4zM524.0 659.2h16.4v7.7h-16.4zM782.6 600.2h16.4v7.7h-16.4zM782.6 607.6h16.4v7.7h-16.4zM782.6 622.4h16.4v7.7h-16.4zM798.7 637.1h16.4v7.7h-16.4zM798.7 644.5h16.4v7.7h-16.4zM782.6 651.9h16.4v7.7h-16.4zM250.3 697.5h16.4v7.6h-16.4zM234.2 704.9h16.4v7.6h-16.4zM73.5 727.0h16.4v7.6h-16.4zM186.0 727.0h16.4v7.6h-16.4zM218.1 727.0h16.4v7.6h-16.4zM314.6 749.0h16.4v7.6h-16.4zM556.1 675.5h16.4v7.6h-16.4zM507.9 734.3h16.4v7.6h-16.4zM443.8 741.6h16.4v7.6h-16.4zM491.9 749.0h16.4v7.6h-16.4zM686.2 697.5h16.4v7.6h-16.4zM782.6 704.9h16.4v7.6h-16.4z"/>
<path fill="#2c9ed3" d="M362.8 600.2h16.4v7.7h-16.4zM362.8 651.9h16.4v7.7h-16.4zM750.5 719.6h16.4v7.6h-16.4zM750.5 727.0h16.4v7.6h-16.4z"/>
<path fill="#ce0d31" d="M105.6 607.6h16.4v7.7h-16.4zM153.8 622.4h16.4v7.7h-16.4zM105.6 644.5h16.4v7.7h-16.4zM73.5 651.9h16.4v7.7h-16.4zM105.6 651.9h16.4v7.7h-16.4zM121.7 666.6h16.4v7.7h-16.4zM654.1 637.1h16.4v7.7h-16.4zM169.9 690.2h16.4v7.6h-16.4zM654.1 704.9h16.4v7.6h-16.4z"/>
<path fill="#d11a3a" d="M121.7 607.6h16.4v7.7h-16.4zM73.5 644.5h16.4v7.7h-16.4zM89.6 659.2h16.4v7.7h-16.4zM654.1 600.2h16.4v7.7h-16.4zM670.1 615.0h16.4v7.7h-16.4zM654.1 622.4h16.4v7.7h-16.4zM718.4 622.4h16.4v7.7h-16.4zM654.1 629.8h16.4v7.7h-16.4zM718.4 629.8h16.4v7.7h-16.4zM654.1 644.5h16.4v7.7h-16.4zM654.1 651.9h16.4v7.7h-16.4zM686.2 651.9h16.4v7.7h-16.4zM137.8 704.9h16.4v7.6h-16.4zM250.3 727.0h16.4v7.6h-16.4zM89.6 734.3h16.4v7.6h-16.4zM89.6 741.6h16.4v7.6h-16.4zM137.8 741.6h16.4v7.6h-16.4zM475.9 734.3h16.4v7.6h-16.4z"/>
<path fill="#fadada" d="M282.4 607.6h16.4v7.7h-16.4zM186.0 622.4h16.4v7.7h-16.4zM234.2 622.4h16.4v7.7h-16.4zM105.6 666.6h16.4v7.7h-16.4zM475.9 585.5h16.4v7.7h-16.4zM459.8 600.2h16.4v7.7h-16.4zM491.9 607.6h16.4v7.7h-16.4zM524.0 637.1h16.4v7.7h-16.4zM427.7 651.9h16.4v7.7h-16.4zM782.6 585.5h16.4v7.7h-16.4zM750.5 615.0h16.4v7.7h-16.4zM798.7 651.9h16.4v7.7h-16.4zM670.1 666.6h16.4v7.7h-16.4zM89.6 682.9h16.4v7.6h-16.4zM218.1 712.2h16.4v7.6h-16.4zM105.6 727.0h16.4v7.6h-16.4zM298.5 749.0h16.4v7.6h-16.4zM572.1 704.9h16.4v7.6h-16.4zM556.1 727.0h16.4v7.6h-16.4zM572.1 734.3h16.4v7.6h-16.4zM750.5 675.5h16.4v7.6h-16.4zM750.5 682.9h16.4v7.6h-16.4zM798.7 682.9h16.4v7.6h-16.4zM670.1 690.2h16.4v7.6h-16.4zM686.2 690.2h16.4v7.6h-16.4zM750.5 704.9h16.4v7.6h-16.4zM670.1 719.6h16.4v7.6h-16.4zM686.2 719.6h16.4v7.6h-16.4z"/>
<path fill="#5eafdc" d="M314.6 622.4h16.4v7.7h-16.4zM298.5 637.1h16.4v7.7h-16.4zM394.9 651.9h16.4v7.7h-16.4zM620.3 622.4h16.4v7.7h-16.4zM266.3 712.2h16.4v7.6h-16.4zM604.2 675.5h16.4v7.6h-16.4zM604.2 690.2h16.4v7.6h-16.4zM798.7 704.9h16.4v7.6h-16.4z"/>
<path fill="#e04e5e" d="M153.8 637.1h16.4v7.7h-16.4zM153.8 644.5h16.4v7.7h-16.4zM234.2 651.9h16.4v7.7h-16.4zM121.7 659.2h16.4v7.7h-16.4zM73.5 666.6h16.4v7.7h-16.4zM654.1 585.5h16.4v7.7h-16.4zM638.0 592.9h16.4v7.7h-16.4zM638.0 600.2h16.4v7.7h-16.4zM670.1 607.6h16.4v7.7h-16.4zM638.0 622.4h16.4v7.7h-16.4zM638.0 666.6h16.4v7.7h-16.4zM186.0 675.5h16.4v7.6h-16.4zM443.8 675.5h16.4v7.6h-16.4zM443.8 690.2h16.4v7.6h-16.4zM475.9 749.0h16.4v7.6h-16.4zM670.1 704.9h16.4v7.6h-16.4zM718.4 712.2h16.4v7.6h-16.4z"/>
<path fill="#52abda" d="M411.0 637.1h16.4v7.7h-16.4zM298.5 644.5h16.4v7.7h-16.4zM346.7 644.5h16.4v7.7h-16.4zM298.5 651.9h16.4v7.7h-16.4zM346.7 651.9h16.4v7.7h-16.4zM298.5 659.2h16.4v7.7h-16.4zM491.9 622.4h16.4v7.7h-16.4zM572.1 629.8h16.4v7.7h-16.4zM588.2 637.1h16.4v7.7h-16.4zM572.1 651.9h16.4v7.7h-16.4zM572.1 659.2h16.4v7.7h-16.4zM588.2 659.2h16.4v7.7h-16.4zM556.1 666.6h16.4v7.7h-16.4zM266.3 675.5h16.4v7.6h-16.4zM686.2 727.0h16.4v7.6h-16.4z"/>
<path fill="#77b7e0" d="M330.6 644.5h16.4v7.7h-16.4zM330.6 651.9h16.4v7.7h-16.4zM218.1 659.2h16.4v7.7h-16.4zM620.3 637.1h16.4v7.7h-16.4zM588.2 644.5h16.4v7.7h-16.4zM282.4 682.9h16.4v7.6h-16.4zM266.3 690.2h16.4v7.6h-16.4zM378.8 719.6h16.4v7.6h-16.4zM524.0 675.5h16.4v7.6h-16.4zM491.9 682.9h16.4v7.6h-16.4zM588.2 682.9h16.4v7.6h-16.4zM588.2 690.2h16.4v7.6h-16.4zM718.4 734.3h16.4v7.6h-16.4z"/>
<path fill="#dc4155" d="M686.2 600.2h16.4v7.7h-16.4zM718.4 666.6h16.4v7.7h-16.4zM718.4 682.9h16.4v7.6h-16.4zM638.0 719.6h16.4v7.6h-16.4z"/>
<path fill="#1396cf" d="M491.9 690.2h16.4v7.6h-16.4z"/>
<path fill="#eb745f" d="M73.5 760.5h16.4v9.5h-16.4zM73.5 815.5h16.4v9.5h-16.4zM670.1 760.5h16.4v9.5h-16.4zM654.1 806.3h16.4v9.5h-16.4zM670.1 815.5h16.4v9.5h-16.4zM686.2 815.5h16.4v9.5h-16.4zM234.2 857.0h16.4v9.5h-16.4zM314.6 884.5h16.4v9.5h-16.4zM378.8 884.5h16.4v9.5h-16.4zM218.1 912.0h16.4v9.5h-16.4z"/>
<path fill="#e96651" d="M89.6 760.5h16.4v9.5h-16.4zM121.7 769.7h16.4v9.5h-16.4zM427.7 797.2h16.4v9.5h-16.4zM604.2 797.2h16.4v9.5h-16.4zM218.1 857.0h16.4v9.5h-16.4zM234.2 866.1h16.4v9.5h-16.4zM427.7 857.0h16.4v9.5h-16.4z"/>
<path fill="#ed806e" d="M105.6 760.5h16.4v9.5h-16.4zM121.7 778.8h16.4v9.5h-16.4zM121.7 788.0h16.4v9.5h-16.4zM686.2 760.5h16.4v9.5h-16.4zM670.1 778.8h16.4v9.5h-16.4zM718.4 778.8h16.4v9.5h-16.4zM638.0 797.2h16.4v9.5h-16.4zM218.1 838.6h16.4v9.5h-16.4zM186.0 866.1h16.4v9.5h-16.4zM186.0 875.3h16.4v9.5h-16.4zM218.1 875.3h16.4v9.5h-16.4zM282.4 893.7h16.4v9.5h-16.4zM298.5 893.7h16.4v9.5h-16.4zM314.6 912.0h16.4v9.5h-16.4zM346.7 912.0h16.4v9.5h-16.4zM443.8 838.6h16.4v9.5h-16.4zM556.1 857.0h16.4v9.5h-16.4z"/>
<path fill="#f5b7ac" d="M121.7 760.5h16.4v9.5h-16.4zM234.2 760.5h16.4v9.5h-16.4zM186.0 778.8h16.4v9.5h-16.4zM234.2 806.3h16.4v9.5h-16.4zM121.7 815.5h16.4v9.5h-16.4zM234.2 815.5h16.4v9.5h-16.4zM362.8 824.7h16.4v9.5h-16.4zM540.0 797.2h16.4v9.5h-16.4zM702.3 797.2h16.4v9.5h-16.4zM750.5 806.3h16.4v9.5h-16.4zM169.9 838.6h16.4v9.5h-16.4zM73.5 847.8h16.4v9.5h-16.4zM105.6 847.8h16.4v9.5h-16.4zM298.5 847.8h16.4v9.5h-16.4zM105.6 857.0h16.4v9.5h-16.4zM330.6 857.0h16.4v9.5h-16.4zM394.9 857.0h16.4v9.5h-16.4zM73.5 866.1h16.4v9.5h-16.4zM73.5 875.3h16.4v9.5h-16.4zM234.2 875.3h16.4v9.5h-16.4zM298.5 875.3h16.4v9.5h-16.4zM202.1 902.9h16.4v9.5h-16.4zM330.6 902.9h16.4v9.5h-16.4zM153.8 912.0h16.4v9.5h-16.4zM202.1 912.0h16.4v9.5h-16.4zM507.9 857.0h16.4v9.5h-16.4zM604.2 884.5h16.4v9.5h-16.4zM702.3 838.6h16.4v9.5h-16.4zM734.4 866.1h16.4v9.5h-16.4zM734.4 875.3h16.4v9.5h-16.4zM734.4 893.7h16.4v9.5h-16.4z"/>
<path fill="#f6c3ba" d="M137.8 760.5h16.4v9.5h-16.4zM137.8 778.8h16.4v9.5h-16.4zM218.1 788.0h16.4v9.5h-16.4zM137.8 797.2h16.4v9.5h-16.4zM556.1 797.2h16.4v9.5h-16.4zM718.4 760.5h16.4v9.5h-16.4zM702.3 769.7h16.4v9.5h-16.4zM734.4 797.2h16.4v9.5h-16.4zM750.5 797.2h16.4v9.5h-16.4zM686.2 806.3h16.4v9.5h-16.4zM654.1 815.5h16.4v9.5h-16.4zM718.4 815.5h16.4v9.5h-16.4zM378.8 838.6h16.4v9.5h-16.4zM330.6 847.8h16.4v9.5h-16.4zM137.8 866.1h16.4v9.5h-16.4zM153.8 866.1h16.4v9.5h-16.4zM266.3 902.9h16.4v9.5h-16.4zM411.0 902.9h16.4v9.5h-16.4zM411.0 912.0h16.4v9.5h-16.4zM427.7 838.6h16.4v9.5h-16.4zM443.8 847.8h16.4v9.5h-16.4zM556.1 866.1h16.4v9.5h-16.4zM459.8 893.7h16.4v9.5h-16.4zM491.9 902.9h16.4v9.5h-16.4zM604.2 902.9h16.4v9.5h-16.4zM540.0 912.0h16.4v9.5h-16.4zM782.6 866.1h16.4v9.5h-16.4zM798.7 884.5h16.4v9.5h-16.4zM798.7 893.7h16.4v9.5h-16.4zM750.5 902.9h16.4v9.5h-16.4z"/>
<path fill="#fce7e3" d="M153.8 760.5h16.4v9.5h-16.4zM218.1 778.8h16.4v9.5h-16.4zM234.2 788.0h16.4v9.5h-16.4zM169.9 806.3h16.4v9.5h-16.4zM137.8 824.7h16.4v9.5h-16.4zM346.7 824.7h16.4v9.5h-16.4zM394.9 824.7h16.4v9.5h-16.4zM734.4 778.8h16.4v9.5h-16.4zM734.4 815.5h16.4v9.5h-16.4zM782.6 815.5h16.4v9.5h-16.4zM686.2 824.7h16.4v9.5h-16.4zM105.6 838.6h16.4v9.5h-16.4zM202.1 838.6h16.4v9.5h-16.4zM282.4 838.6h16.4v9.5h-16.4zM314.6 838.6h16.4v9.5h-16.4zM202.1 847.8h16.4v9.5h-16.4zM121.7 857.0h16.4v9.5h-16.4zM169.9 875.3h16.4v9.5h-16.4zM314.6 875.3h16.4v9.5h-16.4zM137.8 884.5h16.4v9.5h-16.4zM137.8 893.7h16.4v9.5h-16.4zM411.0 893.7h16.4v9.5h-16.4zM234.2 902.9h16.4v9.5h-16.4zM394.9 912.0h16.4v9.5h-16.4zM572.1 838.6h16.4v9.5h-16.4zM588.2 866.1h16.4v9.5h-16.4zM443.8 875.3h16.4v9.5h-16.4zM427.7 884.5h16.4v9.5h-16.4zM540.0 902.9h16.4v9.5h-16.4zM491.9 912.0h16.4v9.5h-16.4zM654.1 847.8h16.4v9.5h-16.4zM638.0 866.1h16.4v9.5h-16.4zM798.7 866.1h16.4v9.5h-16.4zM750.5 884.5h16.4v9.5h-16.4zM766.6 893.7h16.4v9.5h-16.4zM686.2 902.9h16.4v9.5h-16.4zM766.6 902.9h16.4v9.5h-16.4z"/>
<path fill="#e8f6fa" d="M169.9 760.5h16.4v9.5h-16.4zM346.7 815.5h16.4v9.5h-16.4zM427.7 769.7h16.4v9.5h-16.4zM604.2 778.8h16.4v9.5h-16.4zM782.6 769.7h16.4v9.5h-16.4zM782.6 824.7h16.4v9.5h-16.4zM89.6 847.8h16.4v9.5h-16.4zM105.6 866.1h16.4v9.5h-16.4zM202.1 866.1h16.4v9.5h-16.4zM89.6 912.0h16.4v9.5h-16.4zM572.1 847.8h16.4v9.5h-16.4zM443.8 866.1h16.4v9.5h-16.4zM540.0 875.3h16.4v9.5h-16.4zM491.9 884.5h16.4v9.5h-16.4zM588.2 884.5h16.4v9.5h-16.4zM556.1 893.7h16.4v9.5h-16.4zM443.8 912.0h16.4v9.5h-16.4zM686.2 893.7h16.4v9.5h-16.4zM766.6 912.0h16.4v9.5h-16.4z"/>
<path fill="#d0ecf6" d="M186.0 760.5h16.4v9.5h-16.4zM314.6 769.7h16.4v9.5h-16.4zM346.7 769.7h16.4v9.5h-16.4zM282.4 788.0h16.4v9.5h-16.4zM250.3 806.3h16.4v9.5h-16.4zM250.3 815.5h16.4v9.5h-16.4zM266.3 815.5h16.4v9.5h-16.4zM314.6 815.5h16.4v9.5h-16.4zM475.9 760.5h16.4v9.5h-16.4zM507.9 760.5h16.4v9.5h-16.4zM604.2 769.7h16.4v9.5h-16.4zM475.9 778.8h16.4v9.5h-16.4zM443.8 788.0h16.4v9.5h-16.4zM540.0 788.0h16.4v9.5h-16.4zM604.2 788.0h16.4v9.5h-16.4zM459.8 806.3h16.4v9.5h-16.4zM588.2 824.7h16.4v9.5h-16.4zM620.3 824.7h16.4v9.5h-16.4zM798.7 815.5h16.4v9.5h-16.4zM282.4 857.0h16.4v9.5h-16.4zM250.3 866.1h16.4v9.5h-16.4zM330.6 866.1h16.4v9.5h-16.4zM137.8 875.3h16.4v9.5h-16.4zM282.4 875.3h16.4v9.5h-16.4zM282.4 884.5h16.4v9.5h-16.4zM169.9 893.7h16.4v9.5h-16.4zM121.7 902.9h16.4v9.5h-16.4zM121.7 912.0h16.4v9.5h-16.4zM459.8 838.6h16.4v9.5h-16.4zM491.9 838.6h16.4v9.5h-16.4zM475.9 847.8h16.4v9.5h-16.4zM540.0 893.7h16.4v9.5h-16.4zM588.2 893.7h16.4v9.5h-16.4zM798.7 847.8h16.4v9.5h-16.4zM702.3 857.0h16.4v9.5h-16.4zM734.4 857.0h16.4v9.5h-16.4zM798.7 857.0h16.4v9.5h-16.4zM750.5 866.1h16.4v9.5h-16.4z"/>
<path fill="#f3fafd" d="M202.1 760.5h16.4v9.5h-16.4zM314.6 778.8h16.4v9.5h-16.4zM330.6 778.8h16.4v9.5h-16.4zM314.6 788.0h16.4v9.5h-16.4zM362.8 788.0h16.4v9.5h-16.4zM298.5 797.2h16.4v9.5h-16.4zM378.8 797.2h16.4v9.5h-16.4zM282.4 824.7h16.4v9.5h-16.4zM443.8 769.7h16.4v9.5h-16.4zM459.8 769.7h16.4v9.5h-16.4zM475.9 769.7h16.4v9.5h-16.4zM427.7 778.8h16.4v9.5h-16.4zM443.8 778.8h16.4v9.5h-16.4zM572.1 788.0h16.4v9.5h-16.4zM443.8 797.2h16.4v9.5h-16.4zM588.2 806.3h16.4v9.5h-16.4zM540.0 824.7h16.4v9.5h-16.4zM798.7 760.5h16.4v9.5h-16.4zM798.7 788.0h16.4v9.5h-16.4zM766.6 815.5h16.4v9.5h-16.4zM766.6 824.7h16.4v9.5h-16.4zM234.2 838.6h16.4v9.5h-16.4zM121.7 875.3h16.4v9.5h-16.4zM202.1 875.3h16.4v9.5h-16.4zM121.7 893.7h16.4v9.5h-16.4zM186.0 893.7h16.4v9.5h-16.4zM250.3 912.0h16.4v9.5h-16.4zM362.8 912.0h16.4v9.5h-16.4zM572.1 857.0h16.4v9.5h-16.4zM443.8 893.7h16.4v9.5h-16.4zM556.1 902.9h16.4v9.5h-16.4zM459.8 912.0h16.4v9.5h-16.4zM702.3 847.8h16.4v9.5h-16.4zM734.4 847.8h16.4v9.5h-16.4zM654.1 884.5h16.4v9.5h-16.4z"/>
<path fill="#fadbd6" d="M218.1 760.5h16.4v9.5h-16.4zM202.1 769.7h16.4v9.5h-16.4zM218.1 769.7h16.4v9.5h-16.4zM234.2 769.7h16.4v9.5h-16.4zM169.9 778.8h16.4v9.5h-16.4zM202.1 778.8h16.4v9.5h-16.4zM153.8 788.0h16.4v9.5h-16.4zM186.0 806.3h16.4v9.5h-16.4zM218.1 815.5h16.4v9.5h-16.4zM105.6 824.7h16.4v9.5h-16.4zM491.9 760.5h16.4v9.5h-16.4zM588.2 797.2h16.4v9.5h-16.4zM556.1 806.3h16.4v9.5h-16.4zM766.6 806.3h16.4v9.5h-16.4zM169.9 847.8h16.4v9.5h-16.4zM73.5 857.0h16.4v9.5h-16.4zM250.3 875.3h16.4v9.5h-16.4zM186.0 884.5h16.4v9.5h-16.4zM314.6 893.7h16.4v9.5h-16.4zM105.6 912.0h16.4v9.5h-16.4zM588.2 838.6h16.4v9.5h-16.4zM507.9 847.8h16.4v9.5h-16.4zM443.8 857.0h16.4v9.5h-16.4zM588.2 902.9h16.4v9.5h-16.4zM588.2 912.0h16.4v9.5h-16.4zM702.3 884.5h16.4v9.5h-16.4zM782.6 912.0h16.4v9.5h-16.4z"/>
<path fill="#c4e8f4" d="M250.3 760.5h16.4v9.5h-16.4zM378.8 760.5h16.4v9.5h-16.4zM266.3 769.7h16.4v9.5h-16.4zM330.6 769.7h16.4v9.5h-16.4zM282.4 797.2h16.4v9.5h-16.4zM459.8 797.2h16.4v9.5h-16.4zM475.9 815.5h16.4v9.5h-16.4zM346.7 847.8h16.4v9.5h-16.4zM89.6 902.9h16.4v9.5h-16.4zM362.8 902.9h16.4v9.5h-16.4zM491.9 866.1h16.4v9.5h-16.4zM459.8 902.9h16.4v9.5h-16.4zM556.1 912.0h16.4v9.5h-16.4zM572.1 912.0h16.4v9.5h-16.4zM670.1 838.6h16.4v9.5h-16.4zM782.6 857.0h16.4v9.5h-16.4zM798.7 875.3h16.4v9.5h-16.4zM782.6 884.5h16.4v9.5h-16.4zM702.3 893.7h16.4v9.5h-16.4zM718.4 893.7h16.4v9.5h-16.4z"/>
<path fill="#96d5ea" d="M266.3 760.5h16.4v9.5h-16.4zM314.6 760.5h16.4v9.5h-16.4zM362.8 760.5h16.4v9.5h-16.4zM394.9 778.8h16.4v9.5h-16.4zM411.0 788.0h16.4v9.5h-16.4zM282.4 806.3h16.4v9.5h-16.4zM314.6 806.3h16.4v9.5h-16.4zM394.9 806.3h16.4v9.5h-16.4zM282.4 815.5h16.4v9.5h-16.4zM443.8 760.5h16.4v9.5h-16.4zM556.1 760.5h16.4v9.5h-16.4zM491.9 778.8h16.4v9.5h-16.4zM459.8 788.0h16.4v9.5h-16.4zM524.0 806.3h16.4v9.5h-16.4zM524.0 815.5h16.4v9.5h-16.4zM556.1 815.5h16.4v9.5h-16.4zM572.1 815.5h16.4v9.5h-16.4zM620.3 847.8h16.4v9.5h-16.4zM524.0 866.1h16.4v9.5h-16.4zM604.2 875.3h16.4v9.5h-16.4zM572.1 893.7h16.4v9.5h-16.4zM572.1 902.9h16.4v9.5h-16.4zM782.6 847.8h16.4v9.5h-16.4zM718.4 857.0h16.4v9.5h-16.4zM670.1 866.1h16.4v9.5h-16.4zM686.2 875.3h16.4v9.5h-16.4zM766.6 875.3h16.4v9.5h-16.4zM670.1 884.5h16.4v9.5h-16.4zM766.6 884.5h16.4v9.5h-16.4z"/>
<path fill="#f8cfc8" d="M282.4 760.5h16.4v9.5h-16.4zM169.9 797.2h16.4v9.5h-16.4zM169.9 815.5h16.4v9.5h-16.4zM234.2 824.7h16.4v9.5h-16.4zM620.3 769.7h16.4v9.5h-16.4zM443.8 824.7h16.4v9.5h-16.4zM766.6 760.5h16.4v9.5h-16.4zM686.2 769.7h16.4v9.5h-16.4zM750.5 769.7h16.4v9.5h-16.4zM750.5 778.8h16.4v9.5h-16.4zM734.4 788.0h16.4v9.5h-16.4zM670.1 806.3h16.4v9.5h-16.4zM702.3 806.3h16.4v9.5h-16.4zM734.4 806.3h16.4v9.5h-16.4zM702.3 815.5h16.4v9.5h-16.4zM654.1 824.7h16.4v9.5h-16.4zM89.6 838.6h16.4v9.5h-16.4zM121.7 847.8h16.4v9.5h-16.4zM218.1 866.1h16.4v9.5h-16.4zM411.0 866.1h16.4v9.5h-16.4zM153.8 884.5h16.4v9.5h-16.4zM346.7 884.5h16.4v9.5h-16.4zM153.8 893.7h16.4v9.5h-16.4zM218.1 893.7h16.4v9.5h-16.4zM234.2 893.7h16.4v9.5h-16.4zM250.3 893.7h16.4v9.5h-16.4zM298.5 902.9h16.4v9.5h-16.4zM588.2 857.0h16.4v9.5h-16.4zM507.9 866.1h16.4v9.5h-16.4zM588.2 875.3h16.4v9.5h-16.4zM620.3 875.3h16.4v9.5h-16.4zM638.0 884.5h16.4v9.5h-16.4zM734.4 902.9h16.4v9.5h-16.4zM782.6 902.9h16.4v9.5h-16.4zM798.7 902.9h16.4v9.5h-16.4zM686.2 912.0h16.4v9.5h-16.4z"/>
<path fill="#fdf3f1" d="M298.5 760.5h16.4v9.5h-16.4zM169.9 769.7h16.4v9.5h-16.4zM378.8 788.0h16.4v9.5h-16.4zM234.2 797.2h16.4v9.5h-16.4zM186.0 815.5h16.4v9.5h-16.4zM202.1 815.5h16.4v9.5h-16.4zM330.6 824.7h16.4v9.5h-16.4zM686.2 797.2h16.4v9.5h-16.4zM718.4 797.2h16.4v9.5h-16.4zM734.4 824.7h16.4v9.5h-16.4zM169.9 857.0h16.4v9.5h-16.4zM202.1 857.0h16.4v9.5h-16.4zM298.5 857.0h16.4v9.5h-16.4zM411.0 857.0h16.4v9.5h-16.4zM153.8 875.3h16.4v9.5h-16.4zM105.6 884.5h16.4v9.5h-16.4zM169.9 884.5h16.4v9.5h-16.4zM234.2 884.5h16.4v9.5h-16.4zM298.5 884.5h16.4v9.5h-16.4zM266.3 912.0h16.4v9.5h-16.4zM282.4 912.0h16.4v9.5h-16.4zM475.9 838.6h16.4v9.5h-16.4zM459.8 847.8h16.4v9.5h-16.4zM475.9 912.0h16.4v9.5h-16.4zM507.9 912.0h16.4v9.5h-16.4zM670.1 847.8h16.4v9.5h-16.4zM782.6 875.3h16.4v9.5h-16.4zM782.6 893.7h16.4v9.5h-16.4zM718.4 902.9h16.4v9.5h-16.4zM734.4 912.0h16.4v9.5h-16.4zM798.7 912.0h16.4v9.5h-16.4z"/>
<path fill="#addeef" d="M330.6 760.5h16.4v9.5h-16.4zM282.4 769.7h16.4v9.5h-16.4zM202.1 788.0h16.4v9.5h-16.4zM202.1 797.2h16.4v9.5h-16.4zM378.8 806.3h16.4v9.5h-16.4zM378.8 815.5h16.4v9.5h-16.4zM250.3 824.7h16.4v9.5h-16.4zM266.3 824.7h16.4v9.5h-16.4zM427.7 760.5h16.4v9.5h-16.4zM459.8 760.5h16.4v9.5h-16.4zM540.0 760.5h16.4v9.5h-16.4zM604.2 760.5h16.4v9.5h-16.4zM556.1 769.7h16.4v9.5h-16.4zM427.7 788.0h16.4v9.5h-16.4zM491.9 788.0h16.4v9.5h-16.4zM491.9 797.2h16.4v9.5h-16.4zM507.9 797.2h16.4v9.5h-16.4zM507.9 806.3h16.4v9.5h-16.4zM475.9 824.7h16.4v9.5h-16.4zM766.6 778.8h16.4v9.5h-16.4zM798.7 778.8h16.4v9.5h-16.4zM702.3 788.0h16.4v9.5h-16.4zM250.3 902.9h16.4v9.5h-16.4zM654.1 857.0h16.4v9.5h-16.4zM686.2 884.5h16.4v9.5h-16.4zM718.4 884.5h16.4v9.5h-16.4zM638.0 893.7h16.4v9.5h-16.4zM654.1 893.7h16.4v9.5h-16.4zM654.1 902.9h16.4v9.5h-16.4z"/>
<path fill="#8ad0e8" d="M346.7 760.5h16.4v9.5h-16.4zM282.4 778.8h16.4v9.5h-16.4zM298.5 778.8h16.4v9.5h-16.4zM266.3 806.3h16.4v9.5h-16.4zM362.8 806.3h16.4v9.5h-16.4zM394.9 815.5h16.4v9.5h-16.4zM524.0 760.5h16.4v9.5h-16.4zM491.9 769.7h16.4v9.5h-16.4zM588.2 769.7h16.4v9.5h-16.4zM572.1 778.8h16.4v9.5h-16.4zM588.2 778.8h16.4v9.5h-16.4zM491.9 806.3h16.4v9.5h-16.4zM491.9 815.5h16.4v9.5h-16.4zM620.3 815.5h16.4v9.5h-16.4zM798.7 797.2h16.4v9.5h-16.4zM362.8 866.1h16.4v9.5h-16.4zM378.8 893.7h16.4v9.5h-16.4zM169.9 912.0h16.4v9.5h-16.4zM620.3 838.6h16.4v9.5h-16.4zM491.9 847.8h16.4v9.5h-16.4zM540.0 884.5h16.4v9.5h-16.4zM475.9 893.7h16.4v9.5h-16.4zM782.6 838.6h16.4v9.5h-16.4zM750.5 857.0h16.4v9.5h-16.4zM670.1 902.9h16.4v9.5h-16.4z"/>
<path fill="#f09383" d="M394.9 760.5h16.4v9.5h-16.4zM105.6 769.7h16.4v9.5h-16.4zM153.8 778.8h16.4v9.5h-16.4zM105.6 788.0h16.4v9.5h-16.4zM89.6 797.2h16.4v9.5h-16.4zM121.7 806.3h16.4v9.5h-16.4zM153.8 815.5h16.4v9.5h-16.4zM702.3 778.8h16.4v9.5h-16.4zM718.4 788.0h16.4v9.5h-16.4zM121.7 838.6h16.4v9.5h-16.4zM394.9 866.1h16.4v9.5h-16.4zM105.6 893.7h16.4v9.5h-16.4zM153.8 902.9h16.4v9.5h-16.4zM346.7 902.9h16.4v9.5h-16.4zM540.0 838.6h16.4v9.5h-16.4z"/>
<path fill="#69c4e2" d="M411.0 760.5h16.4v9.5h-16.4zM378.8 769.7h16.4v9.5h-16.4zM362.8 778.8h16.4v9.5h-16.4zM330.6 788.0h16.4v9.5h-16.4zM266.3 797.2h16.4v9.5h-16.4zM588.2 760.5h16.4v9.5h-16.4zM620.3 778.8h16.4v9.5h-16.4zM507.9 824.7h16.4v9.5h-16.4zM266.3 875.3h16.4v9.5h-16.4zM73.5 902.9h16.4v9.5h-16.4zM572.1 884.5h16.4v9.5h-16.4zM750.5 838.6h16.4v9.5h-16.4zM798.7 838.6h16.4v9.5h-16.4zM766.6 847.8h16.4v9.5h-16.4zM766.6 857.0h16.4v9.5h-16.4zM638.0 902.9h16.4v9.5h-16.4z"/>
<path fill="#e8604a" d="M73.5 769.7h16.4v9.5h-16.4zM105.6 778.8h16.4v9.5h-16.4zM89.6 815.5h16.4v9.5h-16.4zM105.6 815.5h16.4v9.5h-16.4zM89.6 824.7h16.4v9.5h-16.4zM218.1 884.5h16.4v9.5h-16.4zM202.1 893.7h16.4v9.5h-16.4z"/>
<path fill="#ea6d58" d="M89.6 769.7h16.4v9.5h-16.4zM73.5 778.8h16.4v9.5h-16.4zM89.6 778.8h16.4v9.5h-16.4zM73.5 824.7h16.4v9.5h-16.4zM620.3 760.5h16.4v9.5h-16.4zM670.1 788.0h16.4v9.5h-16.4zM638.0 815.5h16.4v9.5h-16.4zM702.3 824.7h16.4v9.5h-16.4zM153.8 838.6h16.4v9.5h-16.4zM153.8 857.0h16.4v9.5h-16.4zM394.9 893.7h16.4v9.5h-16.4z"/>
<path fill="#e75a43" d="M137.8 769.7h16.4v9.5h-16.4zM73.5 797.2h16.4v9.5h-16.4zM73.5 806.3h16.4v9.5h-16.4zM137.8 806.3h16.4v9.5h-16.4zM638.0 769.7h16.4v9.5h-16.4zM638.0 806.3h16.4v9.5h-16.4zM153.8 847.8h16.4v9.5h-16.4zM378.8 875.3h16.4v9.5h-16.4zM394.9 902.9h16.4v9.5h-16.4z"/>
<path fill="#74c8e4" d="M298.5 769.7h16.4v9.5h-16.4zM378.8 778.8h16.4v9.5h-16.4zM411.0 806.3h16.4v9.5h-16.4zM362.8 815.5h16.4v9.5h-16.4zM411.0 815.5h16.4v9.5h-16.4zM411.0 824.7h16.4v9.5h-16.4zM507.9 769.7h16.4v9.5h-16.4zM524.0 769.7h16.4v9.5h-16.4zM588.2 788.0h16.4v9.5h-16.4zM588.2 815.5h16.4v9.5h-16.4zM137.8 847.8h16.4v9.5h-16.4zM89.6 866.1h16.4v9.5h-16.4zM346.7 866.1h16.4v9.5h-16.4zM73.5 893.7h16.4v9.5h-16.4zM604.2 847.8h16.4v9.5h-16.4zM475.9 875.3h16.4v9.5h-16.4zM572.1 875.3h16.4v9.5h-16.4zM475.9 884.5h16.4v9.5h-16.4zM524.0 884.5h16.4v9.5h-16.4zM670.1 893.7h16.4v9.5h-16.4zM670.1 912.0h16.4v9.5h-16.4z"/>
<path fill="#7fcce6" d="M362.8 769.7h16.4v9.5h-16.4zM394.9 788.0h16.4v9.5h-16.4zM362.8 797.2h16.4v9.5h-16.4zM298.5 815.5h16.4v9.5h-16.4zM298.5 824.7h16.4v9.5h-16.4zM572.1 760.5h16.4v9.5h-16.4zM524.0 778.8h16.4v9.5h-16.4zM556.1 778.8h16.4v9.5h-16.4zM556.1 788.0h16.4v9.5h-16.4zM475.9 806.3h16.4v9.5h-16.4zM572.1 806.3h16.4v9.5h-16.4zM507.9 815.5h16.4v9.5h-16.4zM266.3 847.8h16.4v9.5h-16.4zM491.9 857.0h16.4v9.5h-16.4zM604.2 857.0h16.4v9.5h-16.4zM620.3 857.0h16.4v9.5h-16.4zM718.4 838.6h16.4v9.5h-16.4zM670.1 875.3h16.4v9.5h-16.4zM718.4 875.3h16.4v9.5h-16.4zM750.5 875.3h16.4v9.5h-16.4z"/>
<path fill="#f3ab9e" d="M394.9 769.7h16.4v9.5h-16.4zM266.3 788.0h16.4v9.5h-16.4zM105.6 797.2h16.4v9.5h-16.4zM121.7 797.2h16.4v9.5h-16.4zM346.7 797.2h16.4v9.5h-16.4zM89.6 806.3h16.4v9.5h-16.4zM105.6 806.3h16.4v9.5h-16.4zM137.8 815.5h16.4v9.5h-16.4zM654.1 760.5h16.4v9.5h-16.4zM750.5 760.5h16.4v9.5h-16.4zM718.4 769.7h16.4v9.5h-16.4zM638.0 778.8h16.4v9.5h-16.4zM686.2 778.8h16.4v9.5h-16.4zM686.2 788.0h16.4v9.5h-16.4zM750.5 815.5h16.4v9.5h-16.4zM298.5 838.6h16.4v9.5h-16.4zM330.6 838.6h16.4v9.5h-16.4zM346.7 838.6h16.4v9.5h-16.4zM314.6 866.1h16.4v9.5h-16.4zM346.7 893.7h16.4v9.5h-16.4zM218.1 902.9h16.4v9.5h-16.4zM314.6 902.9h16.4v9.5h-16.4zM556.1 838.6h16.4v9.5h-16.4zM507.9 884.5h16.4v9.5h-16.4zM604.2 893.7h16.4v9.5h-16.4zM654.1 866.1h16.4v9.5h-16.4zM766.6 866.1h16.4v9.5h-16.4zM654.1 875.3h16.4v9.5h-16.4zM734.4 884.5h16.4v9.5h-16.4zM750.5 893.7h16.4v9.5h-16.4z"/>
<path fill="#5ec0e0" d="M411.0 769.7h16.4v9.5h-16.4zM314.6 824.7h16.4v9.5h-16.4zM620.3 806.3h16.4v9.5h-16.4zM604.2 824.7h16.4v9.5h-16.4zM524.0 875.3h16.4v9.5h-16.4zM427.7 893.7h16.4v9.5h-16.4zM766.6 838.6h16.4v9.5h-16.4z"/>
<path fill="#dcf1f8" d="M250.3 778.8h16.4v9.5h-16.4zM186.0 788.0h16.4v9.5h-16.4zM298.5 788.0h16.4v9.5h-16.4zM346.7 788.0h16.4v9.5h-16.4zM153.8 797.2h16.4v9.5h-16.4zM218.1 797.2h16.4v9.5h-16.4zM202.1 806.3h16.4v9.5h-16.4zM330.6 806.3h16.4v9.5h-16.4zM330.6 815.5h16.4v9.5h-16.4zM475.9 788.0h16.4v9.5h-16.4zM604.2 806.3h16.4v9.5h-16.4zM540.0 815.5h16.4v9.5h-16.4zM702.3 760.5h16.4v9.5h-16.4zM670.1 797.2h16.4v9.5h-16.4zM750.5 824.7h16.4v9.5h-16.4zM266.3 838.6h16.4v9.5h-16.4zM394.9 838.6h16.4v9.5h-16.4zM411.0 838.6h16.4v9.5h-16.4zM394.9 847.8h16.4v9.5h-16.4zM250.3 857.0h16.4v9.5h-16.4zM362.8 857.0h16.4v9.5h-16.4zM282.4 866.1h16.4v9.5h-16.4zM89.6 875.3h16.4v9.5h-16.4zM105.6 902.9h16.4v9.5h-16.4zM378.8 902.9h16.4v9.5h-16.4zM459.8 857.0h16.4v9.5h-16.4zM524.0 857.0h16.4v9.5h-16.4zM459.8 866.1h16.4v9.5h-16.4zM491.9 875.3h16.4v9.5h-16.4zM524.0 902.9h16.4v9.5h-16.4zM638.0 875.3h16.4v9.5h-16.4z"/>
<path fill="#a1d9ed" d="M411.0 778.8h16.4v9.5h-16.4zM411.0 797.2h16.4v9.5h-16.4zM298.5 806.3h16.4v9.5h-16.4zM572.1 769.7h16.4v9.5h-16.4zM572.1 797.2h16.4v9.5h-16.4zM459.8 824.7h16.4v9.5h-16.4zM362.8 838.6h16.4v9.5h-16.4zM282.4 847.8h16.4v9.5h-16.4zM362.8 847.8h16.4v9.5h-16.4zM121.7 866.1h16.4v9.5h-16.4zM89.6 884.5h16.4v9.5h-16.4zM250.3 884.5h16.4v9.5h-16.4zM330.6 884.5h16.4v9.5h-16.4zM169.9 902.9h16.4v9.5h-16.4zM572.1 866.1h16.4v9.5h-16.4zM459.8 884.5h16.4v9.5h-16.4zM686.2 847.8h16.4v9.5h-16.4zM750.5 847.8h16.4v9.5h-16.4zM686.2 857.0h16.4v9.5h-16.4zM654.1 912.0h16.4v9.5h-16.4z"/>
<path fill="#ec7a67" d="M73.5 788.0h16.4v9.5h-16.4zM169.9 824.7h16.4v9.5h-16.4zM427.7 824.7h16.4v9.5h-16.4zM572.1 824.7h16.4v9.5h-16.4zM638.0 760.5h16.4v9.5h-16.4zM654.1 778.8h16.4v9.5h-16.4zM73.5 838.6h16.4v9.5h-16.4zM218.1 847.8h16.4v9.5h-16.4zM186.0 857.0h16.4v9.5h-16.4zM378.8 857.0h16.4v9.5h-16.4zM394.9 884.5h16.4v9.5h-16.4zM298.5 912.0h16.4v9.5h-16.4zM427.7 847.8h16.4v9.5h-16.4zM556.1 847.8h16.4v9.5h-16.4zM427.7 875.3h16.4v9.5h-16.4z"/>
<path fill="#e6533b" d="M89.6 788.0h16.4v9.5h-16.4zM638.0 788.0h16.4v9.5h-16.4zM507.9 875.3h16.4v9.5h-16.4zM620.3 884.5h16.4v9.5h-16.4zM620.3 893.7h16.4v9.5h-16.4zM620.3 902.9h16.4v9.5h-16.4z"/>
<path fill="#ee8775" d="M137.8 788.0h16.4v9.5h-16.4zM186.0 824.7h16.4v9.5h-16.4zM427.7 806.3h16.4v9.5h-16.4zM556.1 824.7h16.4v9.5h-16.4zM718.4 806.3h16.4v9.5h-16.4zM638.0 824.7h16.4v9.5h-16.4zM186.0 838.6h16.4v9.5h-16.4zM186.0 847.8h16.4v9.5h-16.4zM234.2 847.8h16.4v9.5h-16.4zM427.7 866.1h16.4v9.5h-16.4zM604.2 912.0h16.4v9.5h-16.4zM702.3 866.1h16.4v9.5h-16.4z"/>
<path fill="#b9e3f1" d="M169.9 788.0h16.4v9.5h-16.4zM250.3 788.0h16.4v9.5h-16.4zM250.3 797.2h16.4v9.5h-16.4zM314.6 797.2h16.4v9.5h-16.4zM378.8 824.7h16.4v9.5h-16.4zM459.8 778.8h16.4v9.5h-16.4zM507.9 778.8h16.4v9.5h-16.4zM524.0 788.0h16.4v9.5h-16.4zM459.8 815.5h16.4v9.5h-16.4zM491.9 824.7h16.4v9.5h-16.4zM798.7 806.3h16.4v9.5h-16.4zM798.7 824.7h16.4v9.5h-16.4zM137.8 838.6h16.4v9.5h-16.4zM266.3 857.0h16.4v9.5h-16.4zM346.7 857.0h16.4v9.5h-16.4zM298.5 866.1h16.4v9.5h-16.4zM346.7 875.3h16.4v9.5h-16.4zM362.8 893.7h16.4v9.5h-16.4zM186.0 912.0h16.4v9.5h-16.4zM524.0 847.8h16.4v9.5h-16.4zM475.9 857.0h16.4v9.5h-16.4zM540.0 866.1h16.4v9.5h-16.4zM507.9 893.7h16.4v9.5h-16.4zM524.0 893.7h16.4v9.5h-16.4zM524.0 912.0h16.4v9.5h-16.4zM734.4 838.6h16.4v9.5h-16.4zM718.4 847.8h16.4v9.5h-16.4zM718.4 866.1h16.4v9.5h-16.4zM702.3 902.9h16.4v9.5h-16.4zM702.3 912.0h16.4v9.5h-16.4z"/>
<path fill="#f19f91" d="M186.0 797.2h16.4v9.5h-16.4zM153.8 824.7h16.4v9.5h-16.4zM654.1 769.7h16.4v9.5h-16.4zM654.1 788.0h16.4v9.5h-16.4zM750.5 788.0h16.4v9.5h-16.4zM654.1 797.2h16.4v9.5h-16.4zM378.8 847.8h16.4v9.5h-16.4zM169.9 866.1h16.4v9.5h-16.4zM378.8 866.1h16.4v9.5h-16.4zM394.9 875.3h16.4v9.5h-16.4zM121.7 884.5h16.4v9.5h-16.4zM202.1 884.5h16.4v9.5h-16.4zM282.4 902.9h16.4v9.5h-16.4zM330.6 912.0h16.4v9.5h-16.4zM540.0 847.8h16.4v9.5h-16.4zM588.2 847.8h16.4v9.5h-16.4zM540.0 857.0h16.4v9.5h-16.4zM620.3 866.1h16.4v9.5h-16.4zM556.1 875.3h16.4v9.5h-16.4zM491.9 893.7h16.4v9.5h-16.4zM620.3 912.0h16.4v9.5h-16.4zM702.3 875.3h16.4v9.5h-16.4zM750.5 912.0h16.4v9.5h-16.4z"/>
<path fill="#48b8dc" d="M394.9 797.2h16.4v9.5h-16.4zM620.3 788.0h16.4v9.5h-16.4zM524.0 824.7h16.4v9.5h-16.4zM137.8 857.0h16.4v9.5h-16.4zM362.8 875.3h16.4v9.5h-16.4zM362.8 884.5h16.4v9.5h-16.4zM137.8 902.9h16.4v9.5h-16.4zM137.8 912.0h16.4v9.5h-16.4zM524.0 838.6h16.4v9.5h-16.4zM475.9 866.1h16.4v9.5h-16.4zM604.2 866.1h16.4v9.5h-16.4zM638.0 838.6h16.4v9.5h-16.4z"/>
<path fill="#53bcde" d="M202.1 824.7h16.4v9.5h-16.4zM89.6 893.7h16.4v9.5h-16.4zM266.3 893.7h16.4v9.5h-16.4zM73.5 912.0h16.4v9.5h-16.4zM427.7 902.9h16.4v9.5h-16.4z"/>
<path fill="#3db4da" d="M524.0 797.2h16.4v9.5h-16.4zM620.3 797.2h16.4v9.5h-16.4zM266.3 866.1h16.4v9.5h-16.4zM266.3 884.5h16.4v9.5h-16.4zM638.0 857.0h16.4v9.5h-16.4z"/>
<path fill="#32b0d8" d="M475.9 902.9h16.4v9.5h-16.4zM427.7 912.0h16.4v9.5h-16.4zM686.2 838.6h16.4v9.5h-16.4zM638.0 847.8h16.4v9.5h-16.4zM638.0 912.0h16.4v9.5h-16.4z"/>
<rect x="73.50" y="585.50" width="353.54" height="88.50" fill="none" stroke="#4a4a4a" stroke-width="1.1"/>
<rect x="427.70" y="585.50" width="208.65" height="88.50" fill="none" stroke="#4a4a4a" stroke-width="1.1"/>
<rect x="638.00" y="585.50" width="176.77" height="88.50" fill="none" stroke="#4a4a4a" stroke-width="1.1"/>
<rect x="73.50" y="675.50" width="353.54" height="80.85" fill="none" stroke="#4a4a4a" stroke-width="1.1"/>
<rect x="427.70" y="675.50" width="208.65" height="80.85" fill="none" stroke="#4a4a4a" stroke-width="1.1"/>
<rect x="638.00" y="675.50" width="176.77" height="80.85" fill="none" stroke="#4a4a4a" stroke-width="1.1"/>
<rect x="73.50" y="760.50" width="353.54" height="73.32" fill="none" stroke="#4a4a4a" stroke-width="1.1"/>
<rect x="427.70" y="760.50" width="208.65" height="73.32" fill="none" stroke="#4a4a4a" stroke-width="1.1"/>
<rect x="638.00" y="760.50" width="176.77" height="73.32" fill="none" stroke="#4a4a4a" stroke-width="1.1"/>
<rect x="73.50" y="838.60" width="353.54" height="82.62" fill="none" stroke="#4a4a4a" stroke-width="1.1"/>
<rect x="427.70" y="838.60" width="208.65" height="82.62" fill="none" stroke="#4a4a4a" stroke-width="1.1"/>
<rect x="638.00" y="838.60" width="176.77" height="82.62" fill="none" stroke="#4a4a4a" stroke-width="1.1"/>
<rect x="59.3" y="585.50" width="14.0" height="88.50" fill="#c49f52" stroke="#333" stroke-width="0.9"/>
<text transform="translate(69.30,629.75) rotate(-90)" font-size="7.4" fill="#fff" text-anchor="middle">TME composition</text>
<rect x="59.3" y="675.50" width="14.0" height="80.85" fill="#2f7d22" stroke="#333" stroke-width="0.9"/>
<text transform="translate(69.30,715.92) rotate(-90)" font-size="7.4" fill="#fff" text-anchor="middle">Hallmark pathway</text>
<rect x="59.3" y="760.50" width="14.0" height="73.32" fill="#f0862c" stroke="#333" stroke-width="0.9"/>
<text transform="translate(69.30,797.16) rotate(-90)" font-size="7.4" fill="#fff" text-anchor="middle">Immune checkpoints</text>
<rect x="59.3" y="838.60" width="14.0" height="82.62" fill="#217c9a" stroke="#333" stroke-width="0.9"/>
<text transform="translate(69.30,879.91) rotate(-90)" font-size="7.4" fill="#fff" text-anchor="middle">Lenvatinib targets</text>
<path d="M58.80,596.56H54.00V603.94H58.80M54.00,600.25H52.00V611.31H58.80M58.80,589.19H48.30V605.78H52.00M58.80,626.06H56.00V633.44H58.80M58.80,640.81H56.00V648.19H58.80M56.00,629.75H54.50V644.50H56.00M58.80,618.69H53.50V637.12H54.50M58.80,655.56H55.00V662.94H58.80M53.50,627.91H53.00V659.25H55.00M53.00,643.58H49.00V670.31H58.80M48.30,597.48H47.30V656.95H49.00M58.80,679.17H56.00V686.52H58.80M56.00,682.85H54.50V693.88H58.80M58.80,701.23H56.00V708.58H58.80M54.50,688.36H52.00V704.90H56.00M52.00,696.63H49.50V715.92H58.80M58.80,730.62H56.50V737.98H58.80M56.50,734.30H55.50V745.33H58.80M58.80,723.27H53.00V739.81H55.50M53.00,731.54H51.00V752.67H58.80M49.50,706.28H41.50V742.11H51.00M47.30,627.21H34.20V724.19H41.50" fill="none" stroke="#2a2a2a" stroke-width="0.8"/>
<rect x="823.60" y="584.40" width="14.30" height="135.60" fill="#cc3a4b"/>
<rect x="823.60" y="720.00" width="14.30" height="37.50" fill="#6c95ea"/>
<text transform="translate(833.80,640.00) rotate(-90)" font-size="7.6" fill="#151515" text-anchor="middle">Immune-related</text>
<text transform="translate(833.80,727.00) rotate(-90)" font-size="7.6" fill="#151515" text-anchor="middle">Tumor-related</text>
<text x="843.60" y="592.09" font-size="8.3" fill="#c63a4c">Antitumor cytokines</text>
<text x="843.60" y="599.46" font-size="8.3" fill="#c63a4c">Costimulatory ligands</text>
<text x="843.60" y="606.84" font-size="8.3" fill="#c63a4c">Effector cell traffic</text>
<text x="843.60" y="614.21" font-size="8.3" fill="#c63a4c">MHCI</text>
<text x="843.60" y="621.59" font-size="8.3" fill="#c63a4c">B cells</text>
<text x="843.60" y="628.96" font-size="8.3" fill="#c63a4c">Costimulatory receptors</text>
<text x="843.60" y="636.34" font-size="8.3" fill="#c63a4c">Checkpoint molecules</text>
<text x="843.60" y="643.71" font-size="8.3" fill="#c63a4c">NK cells</text>
<text x="843.60" y="651.09" font-size="8.3" fill="#c63a4c">Effector cells</text>
<text x="843.60" y="658.46" font-size="8.3" fill="#c63a4c">T cells</text>
<text x="843.60" y="665.84" font-size="8.3" fill="#c63a4c">Th1 signature</text>
<text x="843.60" y="673.21" font-size="8.3" fill="#c63a4c">MHCII</text>
<text x="843.60" y="682.07" font-size="8.3" fill="#c63a4c">Inflammatory response</text>
<text x="843.60" y="689.42" font-size="8.3" fill="#c63a4c">IL-2 STAT5 signaling</text>
<text x="843.60" y="696.77" font-size="8.3" fill="#c63a4c">Apoptosis</text>
<text x="843.60" y="704.12" font-size="8.3" fill="#c63a4c">TNFA signaling via NFKB</text>
<text x="843.60" y="711.48" font-size="8.3" fill="#c63a4c">Interferon α response</text>
<text x="843.60" y="718.82" font-size="8.3" fill="#c63a4c">Interferon γ response</text>
<text x="843.60" y="726.17" font-size="8.3" fill="#5b8be6">MYC targets V2</text>
<text x="843.60" y="733.52" font-size="8.3" fill="#5b8be6">MYC targets V1</text>
<text x="843.60" y="740.88" font-size="8.3" fill="#5b8be6">E2F targets</text>
<text x="843.60" y="748.23" font-size="8.3" fill="#5b8be6">G2M checkpoint</text>
<text x="843.60" y="755.57" font-size="8.3" fill="#5b8be6">DNA repair</text>
<text x="822.70" y="767.88" font-size="7.6" fill="#f08a3c" font-style="italic">PDCD1</text>
<text x="822.70" y="777.05" font-size="7.6" fill="#f08a3c" font-style="italic">CD274</text>
<text x="822.70" y="786.21" font-size="7.6" fill="#f08a3c" font-style="italic">CTLA4</text>
<text x="822.70" y="795.38" font-size="7.6" fill="#f08a3c" font-style="italic">LAG3</text>
<text x="822.70" y="804.54" font-size="7.6" fill="#f08a3c" font-style="italic">HAVCR2</text>
<text x="822.70" y="813.71" font-size="7.6" fill="#f08a3c" font-style="italic">PDCD1LG2</text>
<text x="822.70" y="822.87" font-size="7.6" fill="#f08a3c" font-style="italic">TIGIT</text>
<text x="822.70" y="832.04" font-size="7.6" fill="#f08a3c" font-style="italic">VSIR</text>
<text x="822.70" y="845.99" font-size="7.6" fill="#2a7fa0" font-style="italic">FLT1</text>
<text x="822.70" y="855.17" font-size="7.6" fill="#2a7fa0" font-style="italic">KDR</text>
<text x="822.70" y="864.35" font-size="7.6" fill="#2a7fa0" font-style="italic">FLT4</text>
<text x="822.70" y="873.53" font-size="7.6" fill="#2a7fa0" font-style="italic">PDGFRA</text>
<text x="822.70" y="882.71" font-size="7.6" fill="#2a7fa0" font-style="italic">PDGFRB</text>
<text x="822.70" y="891.89" font-size="7.6" fill="#2a7fa0" font-style="italic">FGFR1</text>
<text x="822.70" y="901.07" font-size="7.6" fill="#2a7fa0" font-style="italic">FGFR2</text>
<text x="822.70" y="910.25" font-size="7.6" fill="#2a7fa0" font-style="italic">FGFR3</text>
<text x="822.70" y="919.43" font-size="7.6" fill="#2a7fa0" font-style="italic">FGFR4</text>
<defs><linearGradient id="cb1" x1="0" y1="0" x2="0" y2="1"><stop offset="0" stop-color="#ca0028"/><stop offset="0.25" stop-color="#ee8282"/><stop offset="0.5" stop-color="#ffffff"/><stop offset="0.75" stop-color="#9ecae7"/><stop offset="1" stop-color="#0896cd"/></linearGradient><linearGradient id="cb2" x1="0" y1="0" x2="0" y2="1"><stop offset="0" stop-color="#e64e34"/><stop offset="0.25" stop-color="#f3a596"/><stop offset="0.5" stop-color="#ffffff"/><stop offset="0.75" stop-color="#ace0ee"/><stop offset="1" stop-color="#23afd4"/></linearGradient></defs>
<rect x="825.20" y="515.70" width="9.10" height="42.10" fill="url(#cb1)"/>
<text x="838.00" y="520.30" font-size="7.6" fill="#151515">2</text>
<text x="838.00" y="529.90" font-size="7.6" fill="#151515">1</text>
<text x="838.00" y="539.50" font-size="7.6" fill="#151515">0</text>
<text x="838.00" y="549.10" font-size="7.6" fill="#151515">−1</text>
<text x="838.00" y="558.70" font-size="7.6" fill="#151515">−2</text>
<rect x="871.00" y="764.70" width="8.20" height="41.00" fill="url(#cb2)"/>
<text x="882.80" y="767.20" font-size="7.6" fill="#151515">2</text>
<text x="882.80" y="776.50" font-size="7.6" fill="#151515">1</text>
<text x="882.80" y="785.80" font-size="7.6" fill="#151515">0</text>
<text x="882.80" y="795.10" font-size="7.6" fill="#151515">−1</text>
<text x="882.80" y="804.40" font-size="7.6" fill="#151515">−2</text>
<text x="855.00" y="498.80" font-size="8.2" fill="#151515">Time points</text>
<rect x="856.00" y="502.50" width="9.00" height="8.60" fill="#fce4f4"/>
<text x="869.00" y="509.50" font-size="8.2" fill="#151515">Pre</text>
<rect x="856.00" y="512.30" width="9.00" height="8.60" fill="#ebb0d0"/>
<text x="869.00" y="519.30" font-size="8.2" fill="#151515">Cryo</text>
<rect x="856.00" y="522.10" width="9.00" height="8.60" fill="#9b0d0d"/>
<text x="869.00" y="529.10" font-size="8.2" fill="#151515">Lenva + sint</text>
<text x="855.00" y="541.80" font-size="8.2" fill="#151515">Response</text>
<rect x="856.50" y="545.20" width="9.00" height="8.60" fill="#ea906f"/>
<text x="869.50" y="552.20" font-size="8.2" fill="#151515">CR</text>
<rect x="856.50" y="555.20" width="9.00" height="8.60" fill="#66aa99"/>
<text x="869.50" y="562.20" font-size="8.2" fill="#151515">PR</text>
<rect x="856.50" y="565.20" width="9.00" height="8.60" fill="#9ccfe0"/>
<text x="869.50" y="572.20" font-size="8.2" fill="#151515">SD</text>
<text x="910.00" y="541.80" font-size="8.2" fill="#151515">TME</text>
<rect x="911.20" y="545.20" width="9.00" height="8.60" fill="#c8102e"/>
<text x="924.00" y="552.20" font-size="8.2" fill="#151515">Hot</text>
<rect x="911.20" y="555.20" width="9.00" height="8.60" fill="#0a8ac8"/>
<text x="924.00" y="562.20" font-size="8.2" fill="#151515">Cold</text>
<path d="M868.00,823.30 L873.57,833.11 L862.43,833.11 Z" fill="#2b6b2e"/>
<text x="877.80" y="832.30" font-size="8.2" fill="#151515">Paired samples</text>
<circle cx="867.3" cy="843.3" r="5.3" fill="#c8321d"/>
<text x="877.80" y="847.00" font-size="8.2" fill="#151515">PDL1 (IHC) TPS≥1</text>
<rect x="862.00" y="853.80" width="12.00" height="9.80" fill="#0b0b7e"/>
<text x="877.80" y="862.50" font-size="8.2" fill="#151515">TMB≥10</text>
<text transform="translate(83.94,946.50) rotate(-90)" font-size="10.2" fill="#151515">P20</text>
<circle cx="81.53" cy="953.3" r="5.3" fill="#c8321d"/>
<text transform="translate(100.01,946.50) rotate(-90)" font-size="10.2" fill="#151515">P02</text>
<rect x="92.01" y="948.30" width="11.20" height="9.60" fill="#0b0b7e"/>
<path d="M97.61,948.00 L103.17,957.80 L92.04,957.80 Z" fill="#2b6b2e"/>
<text transform="translate(116.08,946.50) rotate(-90)" font-size="10.2" fill="#151515">P14</text>
<circle cx="113.67" cy="953.3" r="5.3" fill="#c8321d"/>
<text transform="translate(132.15,946.50) rotate(-90)" font-size="10.2" fill="#151515">P10</text>
<text transform="translate(148.22,946.50) rotate(-90)" font-size="10.2" fill="#151515">P23</text>
<circle cx="145.81" cy="953.3" r="5.3" fill="#c8321d"/>
<text transform="translate(164.28,946.50) rotate(-90)" font-size="10.2" fill="#151515">P25</text>
<text transform="translate(180.35,946.50) rotate(-90)" font-size="10.2" fill="#151515">P12</text>
<path d="M177.95,948.00 L183.52,957.80 L172.39,957.80 Z" fill="#2b6b2e"/>
<text transform="translate(196.43,946.50) rotate(-90)" font-size="10.2" fill="#151515">P17</text>
<text transform="translate(212.50,946.50) rotate(-90)" font-size="10.2" fill="#151515">P06</text>
<text transform="translate(228.56,946.50) rotate(-90)" font-size="10.2" fill="#151515">P01</text>
<text transform="translate(244.64,946.50) rotate(-90)" font-size="10.2" fill="#151515">P08</text>
<text transform="translate(260.70,946.50) rotate(-90)" font-size="10.2" fill="#151515">P24</text>
<path d="M258.31,948.00 L263.87,957.80 L252.74,957.80 Z" fill="#2b6b2e"/>
<text transform="translate(276.77,946.50) rotate(-90)" font-size="10.2" fill="#151515">P05</text>
<circle cx="274.38" cy="953.3" r="5.3" fill="#c8321d"/>
<text transform="translate(292.84,946.50) rotate(-90)" font-size="10.2" fill="#151515">P22</text>
<path d="M290.44,948.00 L296.01,957.80 L284.88,957.80 Z" fill="#2b6b2e"/>
<text transform="translate(308.91,946.50) rotate(-90)" font-size="10.2" fill="#151515">P27</text>
<text transform="translate(324.99,946.50) rotate(-90)" font-size="10.2" fill="#151515">P03</text>
<path d="M322.59,948.00 L328.15,957.80 L317.02,957.80 Z" fill="#2b6b2e"/>
<text transform="translate(341.06,946.50) rotate(-90)" font-size="10.2" fill="#151515">P21</text>
<path d="M338.66,948.00 L344.22,957.80 L333.09,957.80 Z" fill="#2b6b2e"/>
<text transform="translate(357.12,946.50) rotate(-90)" font-size="10.2" fill="#151515">P15</text>
<path d="M354.73,948.00 L360.29,957.80 L349.16,957.80 Z" fill="#2b6b2e"/>
<text transform="translate(373.19,946.50) rotate(-90)" font-size="10.2" fill="#151515">P13</text>
<text transform="translate(389.26,946.50) rotate(-90)" font-size="10.2" fill="#151515">P04</text>
<text transform="translate(405.33,946.50) rotate(-90)" font-size="10.2" fill="#151515">P07</text>
<path d="M402.94,948.00 L408.50,957.80 L397.37,957.80 Z" fill="#2b6b2e"/>
<text transform="translate(421.40,946.50) rotate(-90)" font-size="10.2" fill="#151515">P19</text>
<text transform="translate(438.12,946.50) rotate(-90)" font-size="10.2" fill="#151515">P18</text>
<text transform="translate(454.17,946.50) rotate(-90)" font-size="10.2" fill="#151515">P12</text>
<path d="M451.77,948.00 L457.34,957.80 L446.21,957.80 Z" fill="#2b6b2e"/>
<text transform="translate(470.22,946.50) rotate(-90)" font-size="10.2" fill="#151515">P24</text>
<path d="M467.82,948.00 L473.39,957.80 L462.26,957.80 Z" fill="#2b6b2e"/>
<text transform="translate(486.27,946.50) rotate(-90)" font-size="10.2" fill="#151515">P02</text>
<path d="M483.88,948.00 L489.44,957.80 L478.31,957.80 Z" fill="#2b6b2e"/>
<text transform="translate(502.32,946.50) rotate(-90)" font-size="10.2" fill="#151515">P22</text>
<path d="M499.93,948.00 L505.49,957.80 L494.36,957.80 Z" fill="#2b6b2e"/>
<text transform="translate(518.38,946.50) rotate(-90)" font-size="10.2" fill="#151515">P04</text>
<text transform="translate(534.42,946.50) rotate(-90)" font-size="10.2" fill="#151515">P03</text>
<path d="M532.02,948.00 L537.59,957.80 L526.46,957.80 Z" fill="#2b6b2e"/>
<text transform="translate(550.48,946.50) rotate(-90)" font-size="10.2" fill="#151515">P21</text>
<path d="M548.08,948.00 L553.64,957.80 L542.51,957.80 Z" fill="#2b6b2e"/>
<text transform="translate(566.52,946.50) rotate(-90)" font-size="10.2" fill="#151515">P17</text>
<text transform="translate(582.57,946.50) rotate(-90)" font-size="10.2" fill="#151515">P13</text>
<text transform="translate(598.62,946.50) rotate(-90)" font-size="10.2" fill="#151515">P19</text>
<text transform="translate(614.67,946.50) rotate(-90)" font-size="10.2" fill="#151515">P15</text>
<path d="M612.27,948.00 L617.84,957.80 L606.71,957.80 Z" fill="#2b6b2e"/>
<text transform="translate(630.73,946.50) rotate(-90)" font-size="10.2" fill="#151515">P07</text>
<path d="M628.33,948.00 L633.89,957.80 L622.76,957.80 Z" fill="#2b6b2e"/>
<text transform="translate(648.43,946.50) rotate(-90)" font-size="10.2" fill="#151515">P23</text>
<text transform="translate(664.50,946.50) rotate(-90)" font-size="10.2" fill="#151515">P24</text>
<path d="M662.11,948.00 L667.67,957.80 L656.54,957.80 Z" fill="#2b6b2e"/>
<text transform="translate(680.57,946.50) rotate(-90)" font-size="10.2" fill="#151515">P02</text>
<path d="M678.17,948.00 L683.74,957.80 L672.61,957.80 Z" fill="#2b6b2e"/>
<text transform="translate(696.64,946.50) rotate(-90)" font-size="10.2" fill="#151515">P03</text>
<path d="M694.25,948.00 L699.81,957.80 L688.68,957.80 Z" fill="#2b6b2e"/>
<text transform="translate(712.72,946.50) rotate(-90)" font-size="10.2" fill="#151515">P12</text>
<path d="M710.32,948.00 L715.88,957.80 L704.75,957.80 Z" fill="#2b6b2e"/>
<text transform="translate(728.78,946.50) rotate(-90)" font-size="10.2" fill="#151515">P08</text>
<text transform="translate(744.86,946.50) rotate(-90)" font-size="10.2" fill="#151515">P18</text>
<text transform="translate(760.92,946.50) rotate(-90)" font-size="10.2" fill="#151515">P15</text>
<path d="M758.52,948.00 L764.09,957.80 L752.96,957.80 Z" fill="#2b6b2e"/>
<text transform="translate(777.00,946.50) rotate(-90)" font-size="10.2" fill="#151515">P22</text>
<path d="M774.60,948.00 L780.16,957.80 L769.03,957.80 Z" fill="#2b6b2e"/>
<text transform="translate(793.06,946.50) rotate(-90)" font-size="10.2" fill="#151515">P21</text>
<path d="M790.66,948.00 L796.23,957.80 L785.10,957.80 Z" fill="#2b6b2e"/>
<text transform="translate(809.13,946.50) rotate(-90)" font-size="10.2" fill="#151515">P07</text>
<path d="M806.74,948.00 L812.30,957.80 L801.17,957.80 Z" fill="#2b6b2e"/>
<text x="979.00" y="508.50" font-size="26" fill="#151515" font-weight="bold">g</text>
<line x1="1023.00" y1="513.60" x2="1023.00" y2="603.60" stroke="#333" stroke-width="1.0"/>
<line x1="1023.00" y1="603.60" x2="1157.01" y2="603.60" stroke="#333" stroke-width="1.0"/>
<line x1="1020.20" y1="599.60" x2="1023.00" y2="599.60" stroke="#333" stroke-width="1.0"/>
<text x="1017.50" y="602.70" font-size="8.6" fill="#151515" text-anchor="end">0</text>
<line x1="1020.20" y1="578.95" x2="1023.00" y2="578.95" stroke="#333" stroke-width="1.0"/>
<text x="1017.50" y="582.05" font-size="8.6" fill="#151515" text-anchor="end">0.25</text>
<line x1="1020.20" y1="558.30" x2="1023.00" y2="558.30" stroke="#333" stroke-width="1.0"/>
<text x="1017.50" y="561.40" font-size="8.6" fill="#151515" text-anchor="end">0.50</text>
<line x1="1020.20" y1="537.65" x2="1023.00" y2="537.65" stroke="#333" stroke-width="1.0"/>
<text x="1017.50" y="540.75" font-size="8.6" fill="#151515" text-anchor="end">0.75</text>
<line x1="1020.20" y1="517.00" x2="1023.00" y2="517.00" stroke="#333" stroke-width="1.0"/>
<text x="1017.50" y="520.10" font-size="8.6" fill="#151515" text-anchor="end">1.00</text>
<line x1="1029.00" y1="603.60" x2="1029.00" y2="606.40" stroke="#333" stroke-width="1.0"/>
<text x="1029.00" y="617.20" font-size="8.6" fill="#151515" text-anchor="middle">0</text>
<line x1="1053.40" y1="603.60" x2="1053.40" y2="606.40" stroke="#333" stroke-width="1.0"/>
<text x="1053.40" y="617.20" font-size="8.6" fill="#151515" text-anchor="middle">6</text>
<line x1="1077.80" y1="603.60" x2="1077.80" y2="606.40" stroke="#333" stroke-width="1.0"/>
<text x="1077.80" y="617.20" font-size="8.6" fill="#151515" text-anchor="middle">12</text>
<line x1="1102.21" y1="603.60" x2="1102.21" y2="606.40" stroke="#333" stroke-width="1.0"/>
<text x="1102.21" y="617.20" font-size="8.6" fill="#151515" text-anchor="middle">18</text>
<line x1="1126.61" y1="603.60" x2="1126.61" y2="606.40" stroke="#333" stroke-width="1.0"/>
<text x="1126.61" y="617.20" font-size="8.6" fill="#151515" text-anchor="middle">24</text>
<line x1="1151.01" y1="603.60" x2="1151.01" y2="606.40" stroke="#333" stroke-width="1.0"/>
<text x="1151.01" y="617.20" font-size="8.6" fill="#151515" text-anchor="middle">30</text>
<text transform="translate(988.30,558.50) rotate(-90)" font-size="9.5" fill="#151515" text-anchor="middle">PFS probability</text>
<path d="M1029.00,517.00H1048.93V524.43H1059.91V540.95H1063.98V550.04H1075.77V559.13H1083.09V569.45H1089.60V579.36H1142.88" fill="none" stroke="#3a78b4" stroke-width="1.5"/>
<path d="M1029.00,517.00H1054.22V524.43H1057.06V531.87H1059.10V539.30H1068.45V546.74H1070.48V554.58H1097.33V565.73H1107.90V582.67H1132.30V599.60H1132.30" fill="none" stroke="#d42a2a" stroke-width="1.5"/>
<line x1="1056.66" y1="522.23" x2="1056.66" y2="526.63" stroke="#3a78b4" stroke-width="0.8"/>
<line x1="1068.04" y1="547.84" x2="1068.04" y2="552.24" stroke="#3a78b4" stroke-width="0.8"/>
<line x1="1091.23" y1="577.16" x2="1091.23" y2="581.56" stroke="#3a78b4" stroke-width="0.8"/>
<line x1="1142.88" y1="577.16" x2="1142.88" y2="581.56" stroke="#3a78b4" stroke-width="0.8"/>
<line x1="1069.67" y1="544.54" x2="1069.67" y2="548.94" stroke="#d42a2a" stroke-width="0.8"/>
<line x1="1072.92" y1="552.38" x2="1072.92" y2="556.78" stroke="#d42a2a" stroke-width="0.8"/>
<line x1="1096.11" y1="552.38" x2="1096.11" y2="556.78" stroke="#d42a2a" stroke-width="0.8"/>
<line x1="1103.43" y1="563.53" x2="1103.43" y2="567.93" stroke="#d42a2a" stroke-width="0.8"/>
<text x="1031.50" y="586.00" font-size="7.8" fill="#151515"><tspan font-style="italic">P</tspan> = 0.84</text>
<text x="1022.50" y="631.60" font-size="9.6" fill="#151515">Number at risk</text>
<text x="1016.00" y="642.90" font-size="7.9" fill="#3a78b4" text-anchor="end">TME = cold</text>
<text x="1016.00" y="651.90" font-size="7.9" fill="#d42a2a" text-anchor="end">TME = hot</text>
<line x1="1023.00" y1="636.50" x2="1023.00" y2="651.40" stroke="#333" stroke-width="1.0"/>
<line x1="1020.50" y1="640.00" x2="1023.00" y2="640.00" stroke="#333" stroke-width="1.0"/>
<line x1="1020.50" y1="649.00" x2="1023.00" y2="649.00" stroke="#333" stroke-width="1.0"/>
<line x1="1023.00" y1="651.40" x2="1157.01" y2="651.40" stroke="#333" stroke-width="1.0"/>
<text x="1029.00" y="642.80" font-size="8.4" fill="#151515" text-anchor="middle">11</text>
<text x="1029.00" y="651.80" font-size="8.4" fill="#151515" text-anchor="middle">11</text>
<line x1="1029.00" y1="651.40" x2="1029.00" y2="654.20" stroke="#333" stroke-width="1.0"/>
<text x="1029.00" y="664.00" font-size="8.6" fill="#151515" text-anchor="middle">0</text>
<text x="1053.40" y="642.80" font-size="8.4" fill="#151515" text-anchor="middle">10</text>
<text x="1053.40" y="651.80" font-size="8.4" fill="#151515" text-anchor="middle">11</text>
<line x1="1053.40" y1="651.40" x2="1053.40" y2="654.20" stroke="#333" stroke-width="1.0"/>
<text x="1053.40" y="664.00" font-size="8.6" fill="#151515" text-anchor="middle">6</text>
<text x="1077.80" y="642.80" font-size="8.4" fill="#151515" text-anchor="middle">4</text>
<text x="1077.80" y="651.80" font-size="8.4" fill="#151515" text-anchor="middle">5</text>
<line x1="1077.80" y1="651.40" x2="1077.80" y2="654.20" stroke="#333" stroke-width="1.0"/>
<text x="1077.80" y="664.00" font-size="8.6" fill="#151515" text-anchor="middle">12</text>
<text x="1102.21" y="642.80" font-size="8.4" fill="#151515" text-anchor="middle">1</text>
<text x="1102.21" y="651.80" font-size="8.4" fill="#151515" text-anchor="middle">3</text>
<line x1="1102.21" y1="651.40" x2="1102.21" y2="654.20" stroke="#333" stroke-width="1.0"/>
<text x="1102.21" y="664.00" font-size="8.6" fill="#151515" text-anchor="middle">18</text>
<text x="1126.61" y="642.80" font-size="8.4" fill="#151515" text-anchor="middle">1</text>
<text x="1126.61" y="651.80" font-size="8.4" fill="#151515" text-anchor="middle">1</text>
<line x1="1126.61" y1="651.40" x2="1126.61" y2="654.20" stroke="#333" stroke-width="1.0"/>
<text x="1126.61" y="664.00" font-size="8.6" fill="#151515" text-anchor="middle">24</text>
<text x="1151.01" y="642.80" font-size="8.4" fill="#151515" text-anchor="middle">0</text>
<text x="1151.01" y="651.80" font-size="8.4" fill="#151515" text-anchor="middle">0</text>
<line x1="1151.01" y1="651.40" x2="1151.01" y2="654.20" stroke="#333" stroke-width="1.0"/>
<text x="1151.01" y="664.00" font-size="8.6" fill="#151515" text-anchor="middle">30</text>
<text x="1090.01" y="673.80" font-size="9.6" fill="#151515" text-anchor="middle">Months</text>
<line x1="1022.60" y1="693.60" x2="1022.60" y2="783.60" stroke="#333" stroke-width="1.0"/>
<line x1="1022.60" y1="783.60" x2="1157.01" y2="783.60" stroke="#333" stroke-width="1.0"/>
<line x1="1019.80" y1="779.60" x2="1022.60" y2="779.60" stroke="#333" stroke-width="1.0"/>
<text x="1017.10" y="782.70" font-size="7.3" fill="#151515" text-anchor="end">0</text>
<line x1="1019.80" y1="758.95" x2="1022.60" y2="758.95" stroke="#333" stroke-width="1.0"/>
<text x="1017.10" y="762.05" font-size="7.3" fill="#151515" text-anchor="end">0.25</text>
<line x1="1019.80" y1="738.30" x2="1022.60" y2="738.30" stroke="#333" stroke-width="1.0"/>
<text x="1017.10" y="741.40" font-size="7.3" fill="#151515" text-anchor="end">0.50</text>
<line x1="1019.80" y1="717.65" x2="1022.60" y2="717.65" stroke="#333" stroke-width="1.0"/>
<text x="1017.10" y="720.75" font-size="7.3" fill="#151515" text-anchor="end">0.75</text>
<line x1="1019.80" y1="697.00" x2="1022.60" y2="697.00" stroke="#333" stroke-width="1.0"/>
<text x="1017.10" y="700.10" font-size="7.3" fill="#151515" text-anchor="end">1.00</text>
<line x1="1029.00" y1="783.60" x2="1029.00" y2="786.40" stroke="#333" stroke-width="1.0"/>
<text x="1029.00" y="796.60" font-size="7.3" fill="#151515" text-anchor="middle">0</text>
<line x1="1053.40" y1="783.60" x2="1053.40" y2="786.40" stroke="#333" stroke-width="1.0"/>
<text x="1053.40" y="796.60" font-size="7.3" fill="#151515" text-anchor="middle">6</text>
<line x1="1077.80" y1="783.60" x2="1077.80" y2="786.40" stroke="#333" stroke-width="1.0"/>
<text x="1077.80" y="796.60" font-size="7.3" fill="#151515" text-anchor="middle">12</text>
<line x1="1102.21" y1="783.60" x2="1102.21" y2="786.40" stroke="#333" stroke-width="1.0"/>
<text x="1102.21" y="796.60" font-size="7.3" fill="#151515" text-anchor="middle">18</text>
<line x1="1126.61" y1="783.60" x2="1126.61" y2="786.40" stroke="#333" stroke-width="1.0"/>
<text x="1126.61" y="796.60" font-size="7.3" fill="#151515" text-anchor="middle">24</text>
<line x1="1151.01" y1="783.60" x2="1151.01" y2="786.40" stroke="#333" stroke-width="1.0"/>
<text x="1151.01" y="796.60" font-size="7.3" fill="#151515" text-anchor="middle">30</text>
<text transform="translate(988.30,738.50) rotate(-90)" font-size="9.5" fill="#151515" text-anchor="middle">OS probability</text>
<path d="M1029.00,697.00H1048.93V704.43H1061.13V711.87H1069.26V719.30H1075.36V730.04H1075.77V740.78H1082.68V749.86H1099.36V764.73H1148.98" fill="none" stroke="#3a78b4" stroke-width="1.5"/>
<path d="M1029.00,697.00H1054.62V704.43H1065.60V711.87H1076.99V719.30H1131.90V739.13H1134.34V759.36H1151.01" fill="none" stroke="#d42a2a" stroke-width="1.5"/>
<line x1="1061.54" y1="709.67" x2="1061.54" y2="714.07" stroke="#3a78b4" stroke-width="0.8"/>
<line x1="1074.55" y1="717.10" x2="1074.55" y2="721.50" stroke="#3a78b4" stroke-width="0.8"/>
<line x1="1097.73" y1="747.66" x2="1097.73" y2="752.06" stroke="#3a78b4" stroke-width="0.8"/>
<line x1="1148.98" y1="762.53" x2="1148.98" y2="766.93" stroke="#3a78b4" stroke-width="0.8"/>
<line x1="1079.02" y1="717.10" x2="1079.02" y2="721.50" stroke="#d42a2a" stroke-width="0.8"/>
<line x1="1087.97" y1="717.10" x2="1087.97" y2="721.50" stroke="#d42a2a" stroke-width="0.8"/>
<line x1="1103.02" y1="717.10" x2="1103.02" y2="721.50" stroke="#d42a2a" stroke-width="0.8"/>
<line x1="1106.27" y1="717.10" x2="1106.27" y2="721.50" stroke="#d42a2a" stroke-width="0.8"/>
<line x1="1151.01" y1="757.16" x2="1151.01" y2="761.56" stroke="#d42a2a" stroke-width="0.8"/>
<text x="1031.00" y="765.80" font-size="7.8" fill="#151515"><tspan font-style="italic">P</tspan> = 0.17</text>
<text x="1022.10" y="806.80" font-size="9.6" fill="#151515">Number at risk</text>
<text x="1015.60" y="818.90" font-size="7.9" fill="#3a78b4" text-anchor="end">TME = cold</text>
<text x="1015.60" y="826.50" font-size="7.9" fill="#d42a2a" text-anchor="end">TME = hot</text>
<line x1="1022.60" y1="812.50" x2="1022.60" y2="827.00" stroke="#333" stroke-width="1.0"/>
<line x1="1020.10" y1="816.00" x2="1022.60" y2="816.00" stroke="#333" stroke-width="1.0"/>
<line x1="1020.10" y1="823.60" x2="1022.60" y2="823.60" stroke="#333" stroke-width="1.0"/>
<line x1="1022.60" y1="827.00" x2="1157.01" y2="827.00" stroke="#333" stroke-width="1.0"/>
<text x="1029.00" y="818.80" font-size="8.4" fill="#151515" text-anchor="middle">11</text>
<text x="1029.00" y="826.40" font-size="8.4" fill="#151515" text-anchor="middle">11</text>
<line x1="1029.00" y1="827.00" x2="1029.00" y2="829.80" stroke="#333" stroke-width="1.0"/>
<text x="1029.00" y="840.30" font-size="7.3" fill="#151515" text-anchor="middle">0</text>
<text x="1053.40" y="818.80" font-size="8.4" fill="#151515" text-anchor="middle">10</text>
<text x="1053.40" y="826.40" font-size="8.4" fill="#151515" text-anchor="middle">11</text>
<line x1="1053.40" y1="827.00" x2="1053.40" y2="829.80" stroke="#333" stroke-width="1.0"/>
<text x="1053.40" y="840.30" font-size="7.3" fill="#151515" text-anchor="middle">6</text>
<text x="1077.80" y="818.80" font-size="8.4" fill="#151515" text-anchor="middle">4</text>
<text x="1077.80" y="826.40" font-size="8.4" fill="#151515" text-anchor="middle">7</text>
<line x1="1077.80" y1="827.00" x2="1077.80" y2="829.80" stroke="#333" stroke-width="1.0"/>
<text x="1077.80" y="840.30" font-size="7.3" fill="#151515" text-anchor="middle">12</text>
<text x="1102.21" y="818.80" font-size="8.4" fill="#151515" text-anchor="middle">1</text>
<text x="1102.21" y="826.40" font-size="8.4" fill="#151515" text-anchor="middle">5</text>
<line x1="1102.21" y1="827.00" x2="1102.21" y2="829.80" stroke="#333" stroke-width="1.0"/>
<text x="1102.21" y="840.30" font-size="7.3" fill="#151515" text-anchor="middle">18</text>
<text x="1126.61" y="818.80" font-size="8.4" fill="#151515" text-anchor="middle">1</text>
<text x="1126.61" y="826.40" font-size="8.4" fill="#151515" text-anchor="middle">3</text>
<line x1="1126.61" y1="827.00" x2="1126.61" y2="829.80" stroke="#333" stroke-width="1.0"/>
<text x="1126.61" y="840.30" font-size="7.3" fill="#151515" text-anchor="middle">24</text>
<text x="1151.01" y="818.80" font-size="8.4" fill="#151515" text-anchor="middle">0</text>
<text x="1151.01" y="826.40" font-size="8.4" fill="#151515" text-anchor="middle">1</text>
<line x1="1151.01" y1="827.00" x2="1151.01" y2="829.80" stroke="#333" stroke-width="1.0"/>
<text x="1151.01" y="840.30" font-size="7.3" fill="#151515" text-anchor="middle">30</text>
<text x="1090.01" y="850.00" font-size="9.6" fill="#151515" text-anchor="middle">Months</text>
<text x="978.80" y="882.00" font-size="26" fill="#151515" font-weight="bold">h</text>
<rect x="1027.0" y="877.6" width="91.60" height="70.40" fill="#f9e9e5" stroke="#3a3a3a" stroke-width="1"/>
<line x1="1073.40" y1="877.60" x2="1073.40" y2="948.00" stroke="#3a3a3a" stroke-width="1"/>
<line x1="1027.00" y1="913.00" x2="1118.60" y2="913.00" stroke="#3a3a3a" stroke-width="1"/>
<text x="1074.00" y="873.00" font-size="8.7" fill="#151515" text-anchor="middle">TME</text>
<text x="1023.00" y="900.00" font-size="8.7" fill="#151515" text-anchor="end">Hot</text>
<text x="1023.00" y="934.60" font-size="8.7" fill="#151515" text-anchor="end">Cold</text>
<text x="1049.40" y="900.00" font-size="8.7" fill="#151515" text-anchor="middle">9</text>
<text x="1097.60" y="900.00" font-size="8.7" fill="#151515" text-anchor="middle">2</text>
<text x="1049.40" y="934.60" font-size="8.7" fill="#151515" text-anchor="middle">6</text>
<text x="1097.60" y="934.60" font-size="8.7" fill="#151515" text-anchor="middle">5</text>
<text x="1052.40" y="959.40" font-size="8.7" fill="#151515" text-anchor="middle">CR/PR</text>
<text x="1096.80" y="959.40" font-size="8.7" fill="#151515" text-anchor="middle">SD</text>
<text x="1124.00" y="915.20" font-size="8.7" fill="#151515"><tspan font-style="italic">P</tspan> = 0.362</text>
<text x="10.50" y="1012.70" font-size="26" fill="#151515" font-weight="bold">i</text>
<defs><filter id="rough" x="-5%" y="-10%" width="110%" height="120%" color-interpolation-filters="sRGB"><feTurbulence type="fractalNoise" baseFrequency="0.35" numOctaves="2" seed="3" result="n0"/><feDisplacementMap in="SourceGraphic" in2="n0" scale="5" xChannelSelector="R" yChannelSelector="G" result="src"/><feGaussianBlur in="src" stdDeviation="1.6" result="b"/><feColorMatrix in="b" type="matrix" values="1 0 0 0 0 0 1 0 0 0 0 0 1 0 0 0 0 0 0 1" result="cf"/><feTurbulence type="fractalNoise" baseFrequency="0.9" numOctaves="1" seed="11" result="n"/><feColorMatrix in="n" type="matrix" values="0 0 0 0 0 0 0 0 0 0 0 0 0 0 0 3.4 0 0 0 -1.3" result="na"/><feComposite in="b" in2="na" operator="arithmetic" k1="0" k2="1" k3="-1" k4="0.46" result="d"/><feComponentTransfer in="d" result="m"><feFuncA type="discrete" tableValues="0 1"/></feComponentTransfer><feComposite in="cf" in2="m" operator="in"/></filter></defs>
<text x="124.00" y="1015.80" font-size="12.0" fill="#151515" text-anchor="middle">CD8<tspan font-size="7.5" dy="-5">+</tspan><tspan dy="5"> T cells</tspan></text>
<text x="297.00" y="1015.80" font-size="12.0" fill="#151515" text-anchor="middle">CD4<tspan font-size="7.5" dy="-5">+</tspan><tspan dy="5"> T cells</tspan></text>
<text x="502.00" y="1015.80" font-size="12.0" fill="#151515" text-anchor="middle">Epithelial cells</text>
<text x="692.50" y="1015.80" font-size="12.0" fill="#151515" text-anchor="middle">Myeloid cells</text>
<text x="897.00" y="1015.80" font-size="12.0" fill="#151515" text-anchor="middle">Mesenchymal cells</text>
<text x="1096.00" y="1015.80" font-size="12.0" fill="#151515" text-anchor="middle">Endothelial cells</text>
<line x1="195.70" y1="1019.50" x2="195.70" y2="1177.00" stroke="#111" stroke-width="1.3" stroke-dasharray="4.2,3.2"/>
<line x1="393.00" y1="1019.50" x2="393.00" y2="1177.00" stroke="#111" stroke-width="1.3" stroke-dasharray="4.2,3.2"/>
<line x1="591.60" y1="1019.50" x2="591.60" y2="1177.00" stroke="#111" stroke-width="1.3" stroke-dasharray="4.2,3.2"/>
<line x1="789.20" y1="1019.50" x2="789.20" y2="1177.00" stroke="#111" stroke-width="1.3" stroke-dasharray="4.2,3.2"/>
<line x1="987.00" y1="1019.50" x2="987.00" y2="1177.00" stroke="#111" stroke-width="1.3" stroke-dasharray="4.2,3.2"/>
<g filter="url(#rough)"><path d="M35.0,1030.5Q35.0,1029.3 39.1,1030.5Q43.3,1031.7 49.1,1033.3Q55.0,1035.0 60.9,1035.8Q66.7,1036.7 70.8,1040.0Q75.0,1043.3 70.8,1044.2Q66.7,1045.0 64.2,1047.5Q61.7,1050.0 60.9,1046.7Q60.0,1043.3 55.0,1041.3Q50.0,1039.3 45.0,1037.2Q40.0,1035.0 37.5,1033.3Q35.0,1031.7 35.0,1030.5Z" fill="#c0409a"/><path d="M95.0,1074.3Q94.2,1067.1 101.4,1062.6Q108.5,1058.1 117.6,1055.4Q126.6,1052.7 135.5,1054.5Q144.5,1056.3 151.7,1059.0Q159.0,1061.7 162.5,1068.0Q166.1,1074.3 167.0,1081.5Q167.9,1088.7 167.0,1097.7Q166.1,1106.7 164.3,1115.7Q162.5,1124.7 158.9,1135.5Q155.3,1146.3 149.9,1153.5Q144.5,1160.7 137.3,1163.4Q130.1,1166.1 121.1,1164.3Q112.1,1162.5 104.9,1158.0Q97.7,1153.5 95.0,1146.3Q92.3,1139.1 92.3,1128.3Q92.3,1117.5 93.3,1106.7Q94.2,1095.9 95.0,1088.7Q95.9,1081.5 95.0,1074.3Z" fill="#3c7b73"/><path d="M96.8,1085.2Q98.6,1074.4 105.8,1070.8Q113.0,1067.2 120.2,1068.1Q127.4,1069.0 131.0,1075.3Q134.6,1081.6 133.7,1090.6Q132.8,1099.6 133.7,1108.6Q134.6,1117.6 136.4,1124.8Q138.2,1132.0 132.8,1135.6Q127.4,1139.2 120.2,1137.4Q113.0,1135.6 105.8,1133.8Q98.6,1132.0 96.8,1124.8Q95.0,1117.6 95.0,1106.8Q95.0,1096.0 96.8,1085.2Z" fill="#6fb7d3" fill-opacity="0.85"/><path d="M132.0,1101.4Q132.0,1088.8 139.3,1085.2Q146.5,1081.6 153.7,1083.4Q160.9,1085.3 163.6,1092.5Q166.3,1099.6 164.5,1108.7Q162.7,1117.7 158.2,1121.2Q153.6,1124.8 146.4,1124.8Q139.3,1124.8 135.6,1119.4Q132.0,1114.0 132.0,1101.4Z" fill="#7db89c" fill-opacity="0.85"/><ellipse cx="128" cy="1088" rx="6" ry="5" fill="#3c7b73"/><path d="M86.1,1045.8Q86.9,1038.6 91.5,1035.0Q96.0,1031.4 103.2,1030.5Q110.4,1029.7 116.7,1032.4Q123.0,1035.1 124.8,1040.5Q126.6,1045.9 124.8,1051.3Q123.0,1056.7 118.5,1059.4Q113.9,1062.1 112.1,1068.3Q110.4,1074.6 108.6,1081.8Q106.8,1089.1 103.2,1089.1Q99.6,1089.1 98.6,1081.8Q97.7,1074.6 95.0,1068.3Q92.3,1062.1 88.8,1057.5Q85.2,1053.0 86.1,1045.8Z" fill="#e8a33c"/><path d="M130.2,1039.8Q131.1,1036.2 135.6,1034.4Q140.1,1032.6 144.6,1034.4Q149.0,1036.2 149.0,1041.6Q149.0,1047.0 145.5,1049.7Q141.9,1052.4 137.4,1051.5Q132.8,1050.6 131.1,1047.0Q129.3,1043.4 130.2,1039.8Z" fill="#d3e6cc"/><path d="M68.1,1130.2Q65.4,1123.0 70.8,1119.4Q76.2,1115.8 83.4,1114.9Q90.6,1114.0 93.3,1118.5Q96.0,1123.0 95.1,1130.2Q94.2,1137.4 88.8,1139.2Q83.4,1141.0 77.1,1139.2Q70.8,1137.4 68.1,1130.2Z" fill="#f6b9a7"/><path d="M243.9,1108.0Q242.1,1100.8 244.8,1088.2Q247.5,1075.7 252.9,1066.6Q258.3,1057.6 262.8,1058.5Q267.3,1059.5 270.0,1065.7Q272.7,1072.0 271.8,1082.8Q270.9,1093.6 269.1,1104.4Q267.3,1115.2 261.9,1117.0Q256.5,1118.9 251.1,1117.0Q245.7,1115.2 243.9,1108.0Z" fill="#3c7b73"/><path d="M243.9,1126.1Q243.9,1115.3 248.4,1109.9Q252.9,1104.5 260.1,1106.3Q267.4,1108.1 270.9,1115.2Q274.5,1122.4 273.6,1133.2Q272.8,1144.0 270.1,1151.3Q267.4,1158.5 262.0,1161.2Q256.6,1163.9 252.0,1159.4Q247.5,1154.8 245.7,1145.9Q243.9,1136.9 243.9,1126.1Z" fill="#6fb7d3" fill-opacity="0.85"/><path d="M266.2,1101.5Q265.3,1088.9 270.7,1085.3Q276.1,1081.7 285.1,1083.5Q294.0,1085.4 298.6,1090.8Q303.1,1096.2 302.2,1105.1Q301.3,1114.1 295.9,1118.6Q290.5,1123.2 283.3,1123.2Q276.1,1123.2 271.6,1118.6Q267.0,1114.1 266.2,1101.5Z" fill="#7db89c" fill-opacity="0.85"/><path d="M264.2,1054.5Q263.3,1047.2 268.7,1042.8Q274.1,1038.3 281.2,1037.9Q288.4,1037.5 292.0,1042.4Q295.7,1047.2 298.4,1055.3Q301.1,1063.4 304.7,1071.5Q308.3,1079.6 305.6,1082.3Q302.9,1085.0 298.4,1083.3Q293.8,1081.5 290.3,1076.1Q286.7,1070.7 281.3,1068.0Q275.9,1065.3 270.5,1063.5Q265.1,1061.7 264.2,1054.5Z" fill="#e8a33c"/><path d="M268.9,1136.3Q269.3,1129.2 274.7,1126.5Q280.1,1123.8 284.6,1126.5Q289.1,1129.2 289.1,1138.2Q289.1,1147.2 285.5,1151.7Q281.9,1156.2 277.4,1155.2Q272.9,1154.3 270.7,1148.9Q268.5,1143.5 268.9,1136.3Z" fill="#f6b9a7"/><path d="M313.6,1088.0Q315.4,1078.9 319.0,1070.8Q322.5,1062.7 327.9,1060.0Q333.3,1057.3 340.6,1061.0Q347.8,1064.6 351.4,1073.5Q354.9,1082.5 354.1,1093.3Q353.2,1104.1 348.7,1111.3Q344.1,1118.6 340.6,1122.1Q337.0,1125.7 331.6,1123.9Q326.2,1122.1 320.8,1116.7Q315.4,1111.3 313.6,1104.2Q311.7,1097.0 313.6,1088.0Z" fill="#d3e6cc"/><path d="M333.3,1061.7Q333.3,1056.7 341.6,1055.0Q350.0,1053.3 358.4,1054.2Q366.7,1055.0 365.9,1064.2Q365.0,1073.3 363.4,1081.7Q361.7,1090.0 360.0,1098.3Q358.3,1106.7 355.8,1110.0Q353.3,1113.3 350.8,1108.3Q348.3,1103.3 347.5,1095.0Q346.7,1086.7 343.4,1080.0Q340.0,1073.3 336.6,1070.0Q333.3,1066.7 333.3,1061.7Z" fill="#c0409a" fill-opacity="0.85"/><path d="M429.5,1061.8Q426.6,1052.3 431.4,1046.5Q436.2,1040.8 445.7,1042.7Q455.3,1044.6 466.8,1050.3Q478.3,1056.1 489.7,1061.8Q501.2,1067.6 512.7,1079.0Q524.2,1090.4 530.0,1098.1Q535.7,1105.8 533.8,1108.7Q531.9,1111.6 526.1,1110.7Q520.4,1109.7 507.0,1102.0Q493.6,1094.4 478.3,1086.7Q463.0,1079.0 447.7,1075.2Q432.3,1071.4 429.5,1061.8Z" fill="#d5e0a5"/><path d="M470.3,1043.9Q470.3,1037.1 476.0,1031.4Q481.7,1025.7 487.5,1022.9Q493.2,1020.0 496.1,1026.7Q499.0,1033.3 501.8,1046.7Q504.7,1060.1 499.0,1061.0Q493.2,1062.0 485.6,1060.1Q477.9,1058.2 474.1,1054.4Q470.3,1050.6 470.3,1043.9Z" fill="#4b8bb9"/><path d="M510.6,1063.8Q510.6,1057.1 514.4,1055.2Q518.2,1053.3 522.0,1060.0Q525.9,1066.7 524.9,1073.4Q523.9,1080.1 520.1,1081.0Q516.3,1082.0 513.4,1076.3Q510.6,1070.5 510.6,1063.8Z" fill="#e6b27a"/><path d="M428.8,1082.7Q426.9,1075.0 429.7,1068.4Q432.6,1061.7 439.3,1059.7Q446.0,1057.8 454.6,1059.7Q463.2,1061.7 468.0,1067.4Q472.8,1073.1 470.9,1081.7Q469.0,1090.3 464.2,1094.1Q459.4,1098.0 451.8,1098.0Q444.1,1098.0 437.4,1094.1Q430.7,1090.3 428.8,1082.7Z" fill="#c9534f"/><path d="M428.3,1091.7Q428.3,1084.1 433.0,1083.2Q437.8,1082.2 442.6,1087.0Q447.4,1091.7 447.4,1099.4Q447.4,1107.1 444.5,1110.9Q441.6,1114.7 437.8,1113.7Q434.0,1112.8 431.1,1106.1Q428.3,1099.4 428.3,1091.7Z" fill="#e3d33e"/><path d="M464.9,1090.2Q463.9,1084.5 470.6,1079.6Q477.3,1074.8 484.9,1075.8Q492.6,1076.7 502.2,1082.4Q511.8,1088.2 517.5,1095.8Q523.2,1103.5 521.3,1108.3Q519.4,1113.1 511.7,1112.2Q504.0,1111.2 494.5,1110.3Q485.0,1109.3 479.2,1106.4Q473.5,1103.5 469.6,1099.7Q465.8,1095.9 464.9,1090.2Z" fill="#4a76a0"/><path d="M486.5,1072.1Q485.4,1067.1 490.4,1064.3Q495.3,1061.5 501.1,1064.3Q506.9,1067.1 511.6,1073.8Q516.4,1080.5 514.9,1085.0Q513.4,1089.5 506.3,1087.3Q499.1,1085.0 493.4,1081.1Q487.6,1077.2 486.5,1072.1Z" fill="#ece59a"/><path d="M442.7,1105.4Q442.7,1097.8 450.3,1094.0Q457.9,1090.1 466.5,1094.0Q475.2,1097.8 478.0,1105.4Q480.9,1113.1 479.0,1120.8Q477.1,1128.4 471.4,1130.3Q465.6,1132.1 458.0,1128.3Q450.3,1124.5 446.5,1118.8Q442.7,1113.1 442.7,1105.4Z" fill="#2f8b3c"/><path d="M477.0,1122.6Q476.1,1115.0 483.7,1110.3Q491.4,1105.5 501.0,1105.5Q510.6,1105.5 517.2,1114.1Q523.9,1122.6 524.8,1130.3Q525.8,1138.0 522.0,1141.8Q518.2,1145.6 510.5,1146.6Q502.8,1147.6 495.2,1144.7Q487.6,1141.8 482.8,1136.0Q478.0,1130.2 477.0,1122.6Z" fill="#e9a45a"/><path d="M490.1,1152.5Q491.0,1145.9 496.7,1143.0Q502.4,1140.0 509.2,1142.0Q515.9,1144.0 518.7,1150.6Q521.6,1157.3 519.7,1165.0Q517.8,1172.6 512.1,1174.5Q506.4,1176.4 500.6,1173.6Q494.8,1170.7 492.0,1165.0Q489.1,1159.2 490.1,1152.5Z" fill="#aaa536"/><path d="M536.3,1071.3Q533.4,1066.6 537.2,1063.7Q541.0,1060.8 547.7,1061.8Q554.5,1062.8 561.2,1065.6Q567.9,1068.5 565.9,1072.3Q564.0,1076.1 557.3,1076.1Q550.7,1076.1 544.9,1076.1Q539.1,1076.1 536.3,1071.3Z" fill="#4ea458"/><path d="M532.4,1084.8Q533.4,1077.1 537.2,1074.3Q541.0,1071.4 551.5,1071.4Q562.1,1071.4 565.9,1076.2Q569.8,1080.9 569.8,1092.4Q569.8,1103.9 565.9,1108.7Q562.1,1113.5 554.5,1114.5Q546.8,1115.4 541.1,1111.6Q535.3,1107.8 533.4,1100.2Q531.5,1092.5 532.4,1084.8Z" fill="#8dc183"/><path d="M566.9,1096.1Q566.9,1091.4 571.6,1090.4Q576.4,1089.5 580.2,1093.3Q584.0,1097.1 582.1,1102.8Q580.2,1108.6 578.3,1113.4Q576.4,1118.1 573.5,1113.4Q570.7,1108.6 568.8,1104.7Q566.9,1100.9 566.9,1096.1Z" fill="#c3e0ee"/><path d="M692.3,1078.8Q690.6,1072.0 695.8,1065.2Q700.9,1058.3 709.5,1055.8Q718.0,1053.2 726.5,1055.8Q735.1,1058.3 741.9,1065.2Q748.7,1072.0 753.9,1077.1Q759.0,1082.2 760.7,1087.3Q762.4,1092.5 759.0,1102.8Q755.5,1113.0 750.4,1118.1Q745.3,1123.2 741.9,1130.1Q738.5,1136.9 735.0,1138.6Q731.6,1140.3 724.8,1138.6Q718.0,1136.9 714.6,1133.5Q711.2,1130.0 708.6,1121.5Q706.0,1113.0 703.5,1102.8Q700.9,1092.5 697.5,1089.1Q694.0,1085.7 692.3,1078.8Z" fill="#d1e5cc"/><path d="M745.3,1087.3Q745.3,1082.2 749.6,1080.2Q753.9,1078.1 758.1,1081.9Q762.4,1085.7 765.0,1094.2Q767.5,1102.7 765.8,1109.6Q764.1,1116.4 760.7,1118.1Q757.3,1119.8 753.0,1118.9Q748.7,1118.1 745.3,1114.7Q741.9,1111.3 736.8,1108.8Q731.6,1106.2 729.9,1102.8Q728.2,1099.3 731.7,1096.8Q735.1,1094.2 740.2,1093.3Q745.3,1092.5 745.3,1087.3Z" fill="#c2449e" fill-opacity="0.9"/><path d="M710.3,1147.2Q711.2,1140.3 718.0,1137.8Q724.8,1135.2 731.6,1137.8Q738.5,1140.3 741.9,1147.2Q745.3,1154.0 743.6,1160.8Q741.9,1167.7 735.0,1170.2Q728.2,1172.8 721.4,1170.2Q714.6,1167.7 712.0,1160.8Q709.4,1154.0 710.3,1147.2Z" fill="#7b70b9"/><path d="M674.5,1062.6Q673.6,1060.0 678.7,1058.8Q683.8,1057.6 689.8,1058.8Q695.8,1060.0 697.5,1061.8Q699.2,1063.5 694.9,1064.7Q690.6,1065.8 686.4,1066.3Q682.1,1066.9 678.7,1066.1Q675.3,1065.2 674.5,1062.6Z" fill="#2e7a70"/><ellipse cx="680" cy="1074" rx="1.5" ry="8" fill="#2e7a70"/><path d="M656.5,1090.8Q653.1,1089.0 658.2,1084.8Q663.3,1080.5 668.5,1078.0Q673.6,1075.4 675.3,1077.5Q677.0,1079.5 673.6,1084.2Q670.2,1089.0 665.0,1090.8Q659.9,1092.5 656.5,1090.8Z" fill="#e9a23e"/><path d="M627.5,1119.5Q625.7,1116.4 630.0,1114.7Q634.3,1113.0 638.5,1113.3Q642.8,1113.7 643.6,1116.8Q644.5,1119.8 641.1,1121.8Q637.7,1123.9 633.5,1123.2Q629.2,1122.6 627.5,1119.5Z" fill="#6db193"/><ellipse cx="675.5" cy="1049" rx="1.6" ry="4" fill="#c8502e" transform="rotate(-35 675.5 1049)"/><ellipse cx="684.5" cy="1022.5" rx="1.2" ry="3.2" fill="#4aa8d8"/><path d="M907.0,1044.7Q904.5,1041.2 908.8,1036.1Q913.0,1031.0 919.9,1027.6Q926.7,1024.2 930.1,1025.9Q933.5,1027.6 932.6,1034.4Q931.8,1041.2 934.3,1046.3Q936.9,1051.5 936.0,1057.5Q935.2,1063.5 931.8,1060.9Q928.4,1058.3 924.1,1053.2Q919.8,1048.1 914.7,1048.1Q909.6,1048.1 907.0,1044.7Z" fill="#5aaa64" fill-opacity="0.5"/><path d="M889.1,1069.5Q887.4,1063.5 891.6,1057.5Q895.9,1051.5 901.9,1050.7Q907.9,1049.8 913.8,1054.0Q919.8,1058.3 926.6,1060.9Q933.5,1063.5 939.5,1067.8Q945.4,1072.0 950.5,1078.0Q955.7,1084.0 953.2,1091.7Q950.6,1099.3 945.5,1099.3Q940.3,1099.3 933.5,1095.9Q926.7,1092.5 921.5,1089.1Q916.4,1085.7 909.5,1082.2Q902.7,1078.8 896.8,1077.1Q890.8,1075.4 889.1,1069.5Z" fill="#b54dc4" fill-opacity="0.5"/><path d="M888.2,1093.3Q885.7,1092.5 888.2,1087.3Q890.8,1082.2 896.8,1080.8Q902.7,1079.5 911.2,1081.8Q919.8,1084.0 918.1,1086.5Q916.4,1089.0 907.8,1089.0Q899.3,1089.0 895.0,1091.6Q890.8,1094.2 888.2,1093.3Z" fill="#279bd1" fill-opacity="0.5"/><path d="M888.2,1130.1Q887.4,1126.7 890.0,1121.6Q892.5,1116.4 899.4,1113.8Q906.2,1111.3 913.0,1108.8Q919.8,1106.2 928.3,1105.3Q936.9,1104.5 942.0,1108.8Q947.2,1113.0 949.8,1119.8Q952.3,1126.7 948.0,1130.1Q943.7,1133.5 936.9,1135.2Q930.1,1136.9 927.5,1143.8Q925.0,1150.6 921.5,1152.3Q918.1,1154.0 915.5,1147.2Q913.0,1140.3 906.1,1138.6Q899.3,1136.9 894.2,1135.2Q889.1,1133.5 888.2,1130.1Z" fill="#eca85a" fill-opacity="0.5"/><path d="M842.1,1149.8Q839.5,1147.2 844.6,1142.1Q849.8,1136.9 853.2,1130.1Q856.6,1123.2 864.3,1121.5Q872.0,1119.8 876.2,1130.0Q880.5,1140.3 876.2,1145.4Q872.0,1150.6 865.1,1152.3Q858.3,1154.0 851.5,1153.2Q844.7,1152.3 842.1,1149.8Z" fill="#c6dec4" fill-opacity="0.5"/><ellipse cx="886.5" cy="1164.5" rx="14" ry="1.8" fill="#6784cb" transform="rotate(28 886.5 1164.5)"/><ellipse cx="879.5" cy="1108" rx="4" ry="3.2" fill="#b54dc4" fill-opacity="0.5"/><ellipse cx="809" cy="1065" rx="5.5" ry="1.8" fill="#c24b25" transform="rotate(12 809 1065)"/><ellipse cx="830" cy="1120.3" rx="7.5" ry="2.3" fill="#b0a0a8" fill-opacity="0.8"/><ellipse cx="908" cy="1188.2" rx="2.2" ry="1.2" fill="#6784cb"/><path d="M1022.3,1099.3Q1022.3,1092.5 1025.8,1085.7Q1029.2,1078.8 1036.0,1072.0Q1042.8,1065.2 1049.7,1058.3Q1056.5,1051.5 1063.3,1049.0Q1070.1,1046.4 1076.9,1042.1Q1083.8,1037.8 1089.8,1034.4Q1095.8,1031.0 1098.3,1032.7Q1100.9,1034.4 1099.2,1041.2Q1097.5,1048.1 1092.3,1053.2Q1087.2,1058.3 1092.3,1066.8Q1097.5,1075.4 1100.9,1078.0Q1104.3,1080.5 1099.2,1083.1Q1094.1,1085.7 1092.3,1092.5Q1090.6,1099.3 1085.5,1101.0Q1080.4,1102.7 1071.8,1104.5Q1063.3,1106.2 1058.2,1107.1Q1053.1,1107.9 1047.9,1108.8Q1042.8,1109.6 1036.0,1111.3Q1029.2,1113.0 1025.8,1109.6Q1022.3,1106.2 1022.3,1099.3Z" fill="#91c48f" fill-opacity="0.45"/><path d="M1109.5,1101.1Q1107.7,1095.9 1112.8,1090.8Q1118.0,1085.7 1122.2,1077.2Q1126.5,1068.6 1130.8,1061.8Q1135.0,1054.9 1141.8,1056.6Q1148.7,1058.3 1153.8,1065.2Q1159.0,1072.0 1164.1,1080.5Q1169.2,1089.0 1174.3,1099.3Q1179.5,1109.6 1180.3,1118.2Q1181.2,1126.7 1176.9,1131.0Q1172.6,1135.2 1165.8,1136.1Q1159.0,1136.9 1152.2,1133.5Q1145.4,1130.0 1140.2,1123.2Q1135.0,1116.4 1128.2,1113.0Q1121.4,1109.6 1116.3,1107.9Q1111.2,1106.2 1109.5,1101.1Z" fill="#6b61b2" fill-opacity="0.6"/><path d="M1043.7,1118.1Q1042.8,1113.0 1047.9,1111.3Q1053.1,1109.6 1058.2,1113.0Q1063.3,1116.4 1065.0,1125.0Q1066.7,1133.5 1065.0,1142.0Q1063.3,1150.6 1060.8,1154.0Q1058.2,1157.4 1056.5,1152.3Q1054.8,1147.2 1052.2,1140.3Q1049.6,1133.5 1047.0,1128.3Q1044.5,1123.2 1043.7,1118.1Z" fill="#66addf" fill-opacity="0.45"/><path d="M1072.8,1121.6Q1071.9,1116.4 1076.2,1111.3Q1080.4,1106.2 1083.8,1107.1Q1087.2,1107.9 1088.9,1115.6Q1090.6,1123.2 1089.8,1128.3Q1088.9,1133.5 1084.7,1133.5Q1080.4,1133.5 1077.0,1130.1Q1073.6,1126.7 1072.8,1121.6Z" fill="#e9832f" fill-opacity="0.8"/><path d="M1031.8,1169.4Q1030.9,1167.7 1034.3,1164.2Q1037.7,1160.8 1041.1,1158.2Q1044.5,1155.7 1044.5,1160.0Q1044.5,1164.2 1042.0,1167.7Q1039.4,1171.1 1036.0,1171.1Q1032.6,1171.1 1031.8,1169.4Z" fill="#b335a4" fill-opacity="0.85"/></g>
<line x1="53.30" y1="1179.30" x2="53.30" y2="1153.00" stroke="#111" stroke-width="1.0"/><path d="M51.0,1154.0 L53.3,1150.0 L55.599999999999994,1154.0 Z" fill="#111"/><line x1="53.30" y1="1179.30" x2="80.30" y2="1179.30" stroke="#111" stroke-width="1.0"/><path d="M79.3,1177.0 L83.3,1179.3 L79.3,1181.6 Z" fill="#111"/><text transform="translate(48.00,1177.30) rotate(-90)" font-size="6.9" fill="#151515">UMAP2</text><text x="54.80" y="1189.50" font-size="6.9" fill="#151515">UMAP1</text>
<line x1="236.70" y1="1173.30" x2="236.70" y2="1146.00" stroke="#111" stroke-width="1.0"/><path d="M234.39999999999998,1147.0 L236.7,1143.0 L239.0,1147.0 Z" fill="#111"/><line x1="236.70" y1="1173.30" x2="263.70" y2="1173.30" stroke="#111" stroke-width="1.0"/><path d="M262.7,1171.0 L266.7,1173.3 L262.7,1175.6 Z" fill="#111"/><text transform="translate(231.50,1171.30) rotate(-90)" font-size="6.9" fill="#151515">UMAP2</text><text x="238.20" y="1183.50" font-size="6.9" fill="#151515">UMAP1</text>
<line x1="444.70" y1="1177.90" x2="444.70" y2="1148.40" stroke="#111" stroke-width="1.0"/><path d="M442.4,1149.4 L444.7,1145.4 L447.0,1149.4 Z" fill="#111"/><line x1="444.70" y1="1177.90" x2="476.50" y2="1177.90" stroke="#111" stroke-width="1.0"/><path d="M475.5,1175.6000000000001 L479.5,1177.9 L475.5,1180.2 Z" fill="#111"/><text transform="translate(439.50,1175.90) rotate(-90)" font-size="6.9" fill="#151515">UMAP2</text><text x="446.20" y="1187.00" font-size="6.9" fill="#151515">UMAP1</text>
<line x1="618.90" y1="1179.60" x2="618.90" y2="1151.90" stroke="#111" stroke-width="1.0"/><path d="M616.6,1152.9 L618.9,1148.9 L621.1999999999999,1152.9 Z" fill="#111"/><line x1="618.90" y1="1179.60" x2="649.40" y2="1179.60" stroke="#111" stroke-width="1.0"/><path d="M648.4,1177.3 L652.4,1179.6 L648.4,1181.8999999999999 Z" fill="#111"/><text transform="translate(613.70,1177.60) rotate(-90)" font-size="6.9" fill="#151515">UMAP2</text><text x="620.40" y="1189.20" font-size="6.9" fill="#151515">UMAP1</text>
<line x1="813.90" y1="1176.90" x2="813.90" y2="1148.50" stroke="#111" stroke-width="1.0"/><path d="M811.6,1149.5 L813.9,1145.5 L816.1999999999999,1149.5 Z" fill="#111"/><line x1="813.90" y1="1176.90" x2="842.30" y2="1176.90" stroke="#111" stroke-width="1.0"/><path d="M841.3,1174.6000000000001 L845.3,1176.9 L841.3,1179.2 Z" fill="#111"/><text transform="translate(808.70,1174.90) rotate(-90)" font-size="6.9" fill="#151515">UMAP2</text><text x="815.40" y="1186.00" font-size="6.9" fill="#151515">UMAP1</text>
<line x1="1011.40" y1="1176.90" x2="1011.40" y2="1150.80" stroke="#111" stroke-width="1.0"/><path d="M1009.1,1151.8 L1011.4,1147.8 L1013.6999999999999,1151.8 Z" fill="#111"/><line x1="1011.40" y1="1176.90" x2="1039.80" y2="1176.90" stroke="#111" stroke-width="1.0"/><path d="M1038.8,1174.6000000000001 L1042.8,1176.9 L1038.8,1179.2 Z" fill="#111"/><text transform="translate(1006.20,1174.90) rotate(-90)" font-size="6.9" fill="#151515">UMAP2</text><text x="1012.90" y="1186.00" font-size="6.9" fill="#151515">UMAP1</text>
<rect x="48.50" y="1199.70" width="145.80" height="22.50" fill="#aaa5d5"/>
<text x="121.40" y="1215.25" font-size="12.4" fill="#151515" text-anchor="middle">CD8<tspan font-size="8" dy="-4.8">+</tspan><tspan dy="4.8"> T cells</tspan></text>
<rect x="228.80" y="1199.70" width="144.80" height="22.50" fill="#e9a070"/>
<text x="301.20" y="1215.25" font-size="12.4" fill="#151515" text-anchor="middle">CD4<tspan font-size="8" dy="-4.8">+</tspan><tspan dy="4.8"> T cells</tspan></text>
<rect x="395.70" y="1199.70" width="145.80" height="22.50" fill="#f1d072"/>
<text x="468.60" y="1215.25" font-size="12.4" fill="#151515" text-anchor="middle">Epithelial cells</text>
<rect x="560.80" y="1327.00" width="146.20" height="22.80" fill="#f07fc0"/>
<text x="633.90" y="1342.70" font-size="12.4" fill="#151515" text-anchor="middle">Myeloid cells</text>
<rect x="863.00" y="1202.00" width="145.80" height="22.00" fill="#72c8b1"/>
<text x="935.90" y="1217.30" font-size="12.4" fill="#151515" text-anchor="middle">Mesenchymal cells</text>
<rect x="1030.50" y="1232.00" width="146.30" height="23.00" fill="#99c871"/>
<text x="1103.65" y="1247.80" font-size="12.4" fill="#151515" text-anchor="middle">Endothelial cells</text>
<circle cx="70.6" cy="1237.3" r="6.5" fill="#e8a33c"/>
<text x="82.00" y="1241.50" font-size="11.7" fill="#151515">T1 CD8<tspan font-size="8" dy="-4.6">+</tspan><tspan dy="4.6"> PD1</tspan><tspan font-size="8" dy="-4.6">hi</tspan><tspan dy="4.6"> Tex</tspan></text>
<circle cx="70.6" cy="1256.2" r="6.5" fill="#c0409a"/>
<text x="82.00" y="1260.40" font-size="11.7" fill="#151515">T2 CD8<tspan font-size="8" dy="-4.6">+</tspan><tspan dy="4.6"> PD1</tspan><tspan font-size="8" dy="-4.6">hi</tspan><tspan dy="4.6"> cycling</tspan></text>
<circle cx="70.6" cy="1275.1" r="6.5" fill="#d3e6cc"/>
<text x="82.00" y="1279.30" font-size="11.7" fill="#151515">T3 CD8<tspan font-size="8" dy="-4.6">+</tspan><tspan dy="4.6"> PD1</tspan><tspan font-size="8" dy="-4.6">hi</tspan><tspan dy="4.6"> ISG</tspan></text>
<circle cx="70.6" cy="1294.0" r="6.5" fill="#6fb7d3"/>
<text x="82.00" y="1298.20" font-size="11.7" fill="#151515">T4 CD8<tspan font-size="8" dy="-4.6">+</tspan><tspan dy="4.6"> PD1</tspan><tspan font-size="8" dy="-4.6">hi</tspan><tspan dy="4.6"> Teff</tspan></text>
<circle cx="70.6" cy="1312.9" r="6.5" fill="#3c7b73"/>
<text x="82.00" y="1317.10" font-size="11.7" fill="#151515">T5 CD8<tspan font-size="8" dy="-4.6">+</tspan><tspan dy="4.6"> PD1</tspan><tspan font-size="8" dy="-4.6">low</tspan><tspan dy="4.6"> Teff</tspan></text>
<circle cx="70.6" cy="1331.8" r="6.5" fill="#f6b9a7"/>
<text x="82.00" y="1336.00" font-size="11.7" fill="#151515">T6 CD8<tspan font-size="8" dy="-4.6">+</tspan><tspan dy="4.6"> PD1</tspan><tspan font-size="8" dy="-4.6">low</tspan><tspan dy="4.6"> CTL</tspan></text>
<circle cx="70.6" cy="1350.7" r="6.5" fill="#7db89c"/>
<text x="82.00" y="1354.90" font-size="11.7" fill="#151515">T7 CD8<tspan font-size="8" dy="-4.6">+</tspan><tspan dy="4.6"> PD1</tspan><tspan font-size="8" dy="-4.6">low</tspan><tspan dy="4.6"> Tmem</tspan></text>
<circle cx="247.8" cy="1237.3" r="6.5" fill="#e8a33c"/>
<text x="258.50" y="1241.50" font-size="11.7" fill="#151515">T8 CD4<tspan font-size="8" dy="-4.6">+</tspan><tspan dy="4.6"> CXCL13 Tfh</tspan></text>
<circle cx="247.8" cy="1256.2" r="6.5" fill="#3c7b73"/>
<text x="258.50" y="1260.40" font-size="11.7" fill="#151515">T9 CD4<tspan font-size="8" dy="-4.6">+</tspan><tspan dy="4.6"> Th1</tspan></text>
<circle cx="247.8" cy="1275.1" r="6.5" fill="#6fb7d3"/>
<text x="258.50" y="1279.30" font-size="11.7" fill="#151515">T10 CD4<tspan font-size="8" dy="-4.6">+</tspan><tspan dy="4.6"> Tem</tspan></text>
<circle cx="247.8" cy="1294.0" r="6.5" fill="#f6b9a7"/>
<text x="258.50" y="1298.20" font-size="11.7" fill="#151515">T11 CD4<tspan font-size="8" dy="-4.6">+</tspan><tspan dy="4.6"> Th17</tspan></text>
<circle cx="247.8" cy="1312.9" r="6.5" fill="#7db89c"/>
<text x="258.50" y="1317.10" font-size="11.7" fill="#151515">T12 CD4<tspan font-size="8" dy="-4.6">+</tspan><tspan dy="4.6"> Tmem</tspan></text>
<circle cx="247.8" cy="1331.8" r="6.5" fill="#d3e6cc"/>
<text x="258.50" y="1336.00" font-size="11.7" fill="#151515">T13 CD4<tspan font-size="8" dy="-4.6">+</tspan><tspan dy="4.6"> Treg1</tspan></text>
<circle cx="247.8" cy="1350.7" r="6.5" fill="#c0409a"/>
<text x="258.50" y="1354.90" font-size="11.7" fill="#151515">T14 CD4<tspan font-size="8" dy="-4.6">+</tspan><tspan dy="4.6"> Treg2</tspan></text>
<circle cx="417.8" cy="1238.6" r="6.5" fill="#c85a5a"/>
<text x="434.00" y="1242.80" font-size="11.7" fill="#151515">EP1_FTL</text>
<circle cx="417.8" cy="1257.2" r="6.5" fill="#5a7a98"/>
<text x="434.00" y="1261.40" font-size="11.7" fill="#151515">EP2_LDHA</text>
<circle cx="417.8" cy="1275.8" r="6.5" fill="#2a8a3a"/>
<text x="434.00" y="1280.00" font-size="11.7" fill="#151515">EP3_SPP1</text>
<circle cx="417.8" cy="1294.4" r="6.5" fill="#a8a838"/>
<text x="434.00" y="1298.60" font-size="11.7" fill="#151515">EP4_TFF1</text>
<circle cx="417.8" cy="1313.0" r="6.5" fill="#eca560"/>
<text x="434.00" y="1317.20" font-size="11.7" fill="#151515">EP5_CXCL2</text>
<circle cx="417.8" cy="1331.6" r="6.5" fill="#4a88b8"/>
<text x="434.00" y="1335.80" font-size="11.7" fill="#151515">EP6_STMN1</text>
<circle cx="417.8" cy="1350.2" r="6.5" fill="#d3e2a9"/>
<text x="434.00" y="1354.40" font-size="11.7" fill="#151515">EP7_RGS5</text>
<circle cx="572.8" cy="1217.0" r="6.5" fill="#88b878"/>
<text x="589.00" y="1221.20" font-size="11.7" fill="#151515">EP8_GPC6</text>
<circle cx="572.8" cy="1236.2" r="6.5" fill="#c3deee"/>
<text x="589.00" y="1240.40" font-size="11.7" fill="#151515">EP9_THBS1</text>
<circle cx="572.8" cy="1255.4" r="6.5" fill="#4a9a5a"/>
<text x="589.00" y="1259.60" font-size="11.7" fill="#151515">EP10_SEMA6D</text>
<circle cx="572.8" cy="1274.6" r="6.5" fill="#ebb882"/>
<text x="589.00" y="1278.80" font-size="11.7" fill="#151515">EP11_MMP1</text>
<circle cx="572.8" cy="1293.8" r="6.5" fill="#ede5a2"/>
<text x="589.00" y="1298.00" font-size="11.7" fill="#151515">EP12_S100A2</text>
<circle cx="572.8" cy="1313.0" r="6.5" fill="#e0d240"/>
<text x="589.00" y="1317.20" font-size="11.7" fill="#151515">EP13_RARRES3</text>
<circle cx="743.4" cy="1217.0" r="6.5" fill="#c0408a"/>
<text x="757.50" y="1221.20" font-size="11.7" fill="#151515">Monocyte</text>
<circle cx="743.4" cy="1234.9" r="6.5" fill="#d1e5cc"/>
<text x="757.50" y="1239.10" font-size="11.7" fill="#151515">Macrophage</text>
<circle cx="743.4" cy="1252.8" r="6.5" fill="#78b098"/>
<text x="757.50" y="1257.00" font-size="11.7" fill="#151515">Mast cell</text>
<circle cx="743.4" cy="1270.7" r="6.5" fill="#7870b8"/>
<text x="757.50" y="1274.90" font-size="11.7" fill="#151515">Neutrophil</text>
<circle cx="743.4" cy="1288.6" r="6.5" fill="#e8a040"/>
<text x="757.50" y="1292.80" font-size="11.7" fill="#151515">Mye cycling</text>
<circle cx="743.4" cy="1306.5" r="6.5" fill="#3a7a70"/>
<text x="757.50" y="1310.70" font-size="11.7" fill="#151515">DC1_CD1C</text>
<circle cx="743.4" cy="1324.4" r="6.5" fill="#6cb8d8"/>
<text x="757.50" y="1328.60" font-size="11.7" fill="#151515">DC2_CLEC9A</text>
<circle cx="743.4" cy="1342.3" r="6.5" fill="#c85038"/>
<text x="757.50" y="1346.50" font-size="11.7" fill="#151515">DC3_LAMP3</text>
<circle cx="879.4" cy="1236.0" r="6.5" fill="#c9e1c9"/>
<text x="894.00" y="1240.20" font-size="11.7" fill="#151515">EC1 MSC-like</text>
<circle cx="879.4" cy="1253.9" r="6.5" fill="#f0a860"/>
<text x="894.00" y="1258.10" font-size="11.7" fill="#151515">EC2 PCV</text>
<circle cx="879.4" cy="1271.8" r="6.5" fill="#c050c0"/>
<text x="894.00" y="1276.00" font-size="11.7" fill="#151515">EC3 stalk</text>
<circle cx="879.4" cy="1289.7" r="6.5" fill="#1a98d0"/>
<text x="894.00" y="1293.90" font-size="11.7" fill="#151515">EC4 tip</text>
<circle cx="879.4" cy="1307.6" r="6.5" fill="#62b072"/>
<text x="894.00" y="1311.80" font-size="11.7" fill="#151515">EC5 arterial</text>
<circle cx="879.4" cy="1325.5" r="6.5" fill="#7890c8"/>
<text x="894.00" y="1329.70" font-size="11.7" fill="#151515">EC6 capillary</text>
<circle cx="879.4" cy="1343.4" r="6.5" fill="#c2b2ba"/>
<text x="894.00" y="1347.60" font-size="11.7" fill="#151515">EC7 cycling</text>
<circle cx="1041.9" cy="1217.0" r="6.5" fill="#c85038"/>
<text x="1056.50" y="1221.20" font-size="11.7" fill="#151515">EC8 lymphatic</text>
<circle cx="1041.9" cy="1269.0" r="6.5" fill="#98c090"/>
<text x="1056.50" y="1273.20" font-size="11.7" fill="#151515">CAF1_POSTN</text>
<circle cx="1041.9" cy="1286.8" r="6.5" fill="#e88030"/>
<text x="1056.50" y="1291.00" font-size="11.7" fill="#151515">CAF2_FBLN1</text>
<circle cx="1041.9" cy="1304.6" r="6.5" fill="#b040a8"/>
<text x="1056.50" y="1308.80" font-size="11.7" fill="#151515">CAF3_RELN</text>
<circle cx="1041.9" cy="1322.4" r="6.5" fill="#60b0e0"/>
<text x="1056.50" y="1326.60" font-size="11.7" fill="#151515">CAF4 MSC-like</text>
<circle cx="1041.9" cy="1340.2" r="6.5" fill="#6a60b0"/>
<text x="1056.50" y="1344.40" font-size="11.7" fill="#151515">Pericyte_RGS5</text>
<text x="10.30" y="1404.00" font-size="26" fill="#151515" font-weight="bold">j</text>
<rect x="75.30" y="1385.50" width="161.70" height="26.70" fill="#fce4f4"/>
<rect x="237.00" y="1385.50" width="162.70" height="26.70" fill="#ebb0d0"/>
<text x="156.50" y="1403.60" font-size="13.8" fill="#151515" text-anchor="middle">Pre</text>
<text x="318.00" y="1403.60" font-size="13.8" fill="#151515" text-anchor="middle">Cryo</text>
<line x1="232.00" y1="1399.35" x2="197.00" y2="1399.35" stroke="#111" stroke-width="0.9"/>
<path d="M194.0,1399.35 L199.0,1397.35 L199.0,1401.35 Z" fill="#111"/>
<line x1="241.00" y1="1399.35" x2="277.00" y2="1399.35" stroke="#111" stroke-width="0.9"/>
<path d="M280.0,1399.35 L275.0,1397.35 L275.0,1401.35 Z" fill="#111"/>
<rect x="441.00" y="1385.50" width="162.30" height="26.70" fill="#fce4f4"/>
<rect x="603.30" y="1385.50" width="162.70" height="26.70" fill="#9b0d0d"/>
<text x="522.00" y="1403.60" font-size="13.8" fill="#151515" text-anchor="middle">Pre</text>
<text x="687.00" y="1403.60" font-size="13.8" fill="#fff" text-anchor="middle">Lenva + sint</text>
<line x1="598.30" y1="1399.35" x2="563.30" y2="1399.35" stroke="#111" stroke-width="0.9"/>
<path d="M560.3,1399.35 L565.3,1397.35 L565.3,1401.35 Z" fill="#111"/>
<line x1="607.30" y1="1399.35" x2="643.30" y2="1399.35" stroke="#111" stroke-width="0.9"/>
<path d="M646.3,1399.35 L641.3,1397.35 L641.3,1401.35 Z" fill="#111"/>
<rect x="817.80" y="1385.50" width="162.40" height="26.70" fill="#ebb0d0"/>
<rect x="980.20" y="1385.50" width="162.80" height="26.70" fill="#9b0d0d"/>
<text x="899.00" y="1403.60" font-size="13.8" fill="#151515" text-anchor="middle">Cryo</text>
<text x="1065.00" y="1403.60" font-size="13.8" fill="#fff" text-anchor="middle">Lenva + sint</text>
<line x1="975.20" y1="1399.35" x2="940.20" y2="1399.35" stroke="#111" stroke-width="0.9"/>
<path d="M937.2,1399.35 L942.2,1397.35 L942.2,1401.35 Z" fill="#111"/>
<line x1="984.20" y1="1399.35" x2="1020.20" y2="1399.35" stroke="#111" stroke-width="0.9"/>
<path d="M1023.2,1399.35 L1018.2,1397.35 L1018.2,1401.35 Z" fill="#111"/>
<line x1="58.50" y1="1412.70" x2="58.50" y2="1657.80" stroke="#444" stroke-width="1.2"/>
<line x1="55.00" y1="1647.20" x2="58.50" y2="1647.20" stroke="#444" stroke-width="1.2"/>
<text x="50.00" y="1651.20" font-size="11.2" fill="#151515" text-anchor="end">0</text>
<line x1="55.00" y1="1583.40" x2="58.50" y2="1583.40" stroke="#444" stroke-width="1.2"/>
<text x="50.00" y="1587.40" font-size="11.2" fill="#151515" text-anchor="end">1</text>
<line x1="55.00" y1="1519.60" x2="58.50" y2="1519.60" stroke="#444" stroke-width="1.2"/>
<text x="50.00" y="1523.60" font-size="11.2" fill="#151515" text-anchor="end">2</text>
<line x1="55.00" y1="1455.80" x2="58.50" y2="1455.80" stroke="#444" stroke-width="1.2"/>
<text x="50.00" y="1459.80" font-size="11.2" fill="#151515" text-anchor="end">3</text>
<text transform="translate(31.50,1536.50) rotate(-90)" font-size="15.2" fill="#151515" text-anchor="middle">−log<tspan font-size="9.5" dy="3.5">10</tspan><tspan dy="-3.5" font-style="italic">P</tspan> value</text>
<line x1="420.00" y1="1430.00" x2="420.00" y2="1657.00" stroke="#111" stroke-width="1.3" stroke-dasharray="3.2,2.6"/>
<line x1="794.00" y1="1430.00" x2="794.00" y2="1657.00" stroke="#111" stroke-width="1.3" stroke-dasharray="3.2,2.6"/>
<line x1="58.50" y1="1564.20" x2="1175.00" y2="1564.20" stroke="#e8202a" stroke-width="1.5" stroke-dasharray="6.5,4.5"/>
<line x1="233.50" y1="1430.00" x2="233.50" y2="1657.00" stroke="#c8c8c8" stroke-width="0.9" stroke-dasharray="3,2.5"/>
<line x1="604.00" y1="1430.00" x2="604.00" y2="1657.00" stroke="#c8c8c8" stroke-width="0.9" stroke-dasharray="3,2.5"/>
<line x1="983.00" y1="1430.00" x2="983.00" y2="1657.00" stroke="#c8c8c8" stroke-width="0.9" stroke-dasharray="3,2.5"/>
<line x1="58.50" y1="1657.80" x2="420.00" y2="1657.80" stroke="#444" stroke-width="1.2"/>
<line x1="88.90" y1="1657.80" x2="88.90" y2="1664.50" stroke="#444" stroke-width="1.2"/>
<text x="88.90" y="1683.80" font-size="11.8" fill="#151515" text-anchor="middle">−2</text>
<line x1="161.20" y1="1657.80" x2="161.20" y2="1664.50" stroke="#444" stroke-width="1.2"/>
<text x="161.20" y="1683.80" font-size="11.8" fill="#151515" text-anchor="middle">−1</text>
<line x1="233.50" y1="1657.80" x2="233.50" y2="1664.50" stroke="#444" stroke-width="1.2"/>
<text x="233.50" y="1683.80" font-size="11.8" fill="#151515" text-anchor="middle">0</text>
<line x1="305.80" y1="1657.80" x2="305.80" y2="1664.50" stroke="#444" stroke-width="1.2"/>
<text x="305.80" y="1683.80" font-size="11.8" fill="#151515" text-anchor="middle">1</text>
<line x1="378.10" y1="1657.80" x2="378.10" y2="1664.50" stroke="#444" stroke-width="1.2"/>
<text x="378.10" y="1683.80" font-size="11.8" fill="#151515" text-anchor="middle">2</text>
<text x="233.50" y="1705.00" font-size="15.0" fill="#151515" text-anchor="middle">log<tspan font-size="9.5" dy="3.5">2</tspan><tspan dy="-3.5">FC</tspan></text>
<line x1="420.00" y1="1657.80" x2="794.00" y2="1657.80" stroke="#444" stroke-width="1.2"/>
<line x1="459.40" y1="1657.80" x2="459.40" y2="1664.50" stroke="#444" stroke-width="1.2"/>
<text x="459.40" y="1683.80" font-size="11.8" fill="#151515" text-anchor="middle">−2</text>
<line x1="531.70" y1="1657.80" x2="531.70" y2="1664.50" stroke="#444" stroke-width="1.2"/>
<text x="531.70" y="1683.80" font-size="11.8" fill="#151515" text-anchor="middle">−1</text>
<line x1="604.00" y1="1657.80" x2="604.00" y2="1664.50" stroke="#444" stroke-width="1.2"/>
<text x="604.00" y="1683.80" font-size="11.8" fill="#151515" text-anchor="middle">0</text>
<line x1="676.30" y1="1657.80" x2="676.30" y2="1664.50" stroke="#444" stroke-width="1.2"/>
<text x="676.30" y="1683.80" font-size="11.8" fill="#151515" text-anchor="middle">1</text>
<line x1="748.60" y1="1657.80" x2="748.60" y2="1664.50" stroke="#444" stroke-width="1.2"/>
<text x="748.60" y="1683.80" font-size="11.8" fill="#151515" text-anchor="middle">2</text>
<text x="604.00" y="1705.00" font-size="15.0" fill="#151515" text-anchor="middle">log<tspan font-size="9.5" dy="3.5">2</tspan><tspan dy="-3.5">FC</tspan></text>
<line x1="794.00" y1="1657.80" x2="1175.50" y2="1657.80" stroke="#444" stroke-width="1.2"/>
<line x1="838.40" y1="1657.80" x2="838.40" y2="1664.50" stroke="#444" stroke-width="1.2"/>
<text x="838.40" y="1683.80" font-size="11.8" fill="#151515" text-anchor="middle">−2</text>
<line x1="910.70" y1="1657.80" x2="910.70" y2="1664.50" stroke="#444" stroke-width="1.2"/>
<text x="910.70" y="1683.80" font-size="11.8" fill="#151515" text-anchor="middle">−1</text>
<line x1="983.00" y1="1657.80" x2="983.00" y2="1664.50" stroke="#444" stroke-width="1.2"/>
<text x="983.00" y="1683.80" font-size="11.8" fill="#151515" text-anchor="middle">0</text>
<line x1="1055.30" y1="1657.80" x2="1055.30" y2="1664.50" stroke="#444" stroke-width="1.2"/>
<text x="1055.30" y="1683.80" font-size="11.8" fill="#151515" text-anchor="middle">1</text>
<line x1="1127.60" y1="1657.80" x2="1127.60" y2="1664.50" stroke="#444" stroke-width="1.2"/>
<text x="1127.60" y="1683.80" font-size="11.8" fill="#151515" text-anchor="middle">2</text>
<text x="983.00" y="1705.00" font-size="15.0" fill="#151515" text-anchor="middle">log<tspan font-size="9.5" dy="3.5">2</tspan><tspan dy="-3.5">FC</tspan></text>
<circle cx="76.0" cy="1440.2" r="6.4" fill="#a9a4d4" fill-opacity="0.85"/>
<text x="87.30" y="1444.40" font-size="12.0" fill="#151515">CD8<tspan font-size="8" dy="-4.6">+</tspan><tspan dy="4.6"> T cells</tspan></text>
<circle cx="76.0" cy="1456.8" r="6.4" fill="#e8884a" fill-opacity="0.85"/>
<text x="87.30" y="1461.00" font-size="12.0" fill="#151515">CD4<tspan font-size="8" dy="-4.6">+</tspan><tspan dy="4.6"> T cells</tspan></text>
<circle cx="76.0" cy="1473.4" r="6.4" fill="#f0c850" fill-opacity="0.85"/>
<text x="87.30" y="1477.60" font-size="12.0" fill="#151515">Epithelial cells</text>
<circle cx="76.0" cy="1490.0" r="6.4" fill="#f060a8" fill-opacity="0.85"/>
<text x="87.30" y="1494.20" font-size="12.0" fill="#151515">Myeloid cells</text>
<circle cx="76.0" cy="1506.6" r="6.4" fill="#40b090" fill-opacity="0.85"/>
<text x="87.30" y="1510.80" font-size="12.0" fill="#151515">Mesenchymal cells</text>
<circle cx="76.0" cy="1523.2" r="6.4" fill="#88c060" fill-opacity="0.85"/>
<text x="87.30" y="1527.40" font-size="12.0" fill="#151515">Endothelial cells</text>
<circle cx="243.3" cy="1508.8" r="8.6" fill="#a9a4d4" fill-opacity="0.82"/><circle cx="253.7" cy="1513.2" r="8.6" fill="#e8884a" fill-opacity="0.82"/><circle cx="167.0" cy="1573.8" r="8.6" fill="#f060a8" fill-opacity="0.82"/><circle cx="246.5" cy="1570.6" r="8.6" fill="#f060a8" fill-opacity="0.82"/><circle cx="182.2" cy="1594.9" r="8.6" fill="#a9a4d4" fill-opacity="0.82"/><circle cx="203.9" cy="1594.9" r="8.6" fill="#f0c850" fill-opacity="0.82"/><circle cx="212.5" cy="1589.8" r="8.6" fill="#88c060" fill-opacity="0.82"/><circle cx="216.1" cy="1586.0" r="8.6" fill="#e8884a" fill-opacity="0.82"/><circle cx="255.2" cy="1594.9" r="8.6" fill="#f0c850" fill-opacity="0.82"/><circle cx="280.5" cy="1591.1" r="8.6" fill="#40b090" fill-opacity="0.82"/><circle cx="223.4" cy="1614.0" r="8.6" fill="#a9a4d4" fill-opacity="0.82"/><circle cx="271.1" cy="1609.6" r="8.6" fill="#f0c850" fill-opacity="0.82"/><circle cx="279.8" cy="1608.3" r="8.6" fill="#a9a4d4" fill-opacity="0.82"/><circle cx="283.4" cy="1605.1" r="8.6" fill="#f0c850" fill-opacity="0.82"/><circle cx="287.7" cy="1612.1" r="8.6" fill="#40b090" fill-opacity="0.82"/><circle cx="264.6" cy="1619.1" r="8.6" fill="#88c060" fill-opacity="0.82"/><circle cx="250.1" cy="1617.9" r="8.6" fill="#88c060" fill-opacity="0.82"/><circle cx="252.3" cy="1623.0" r="8.6" fill="#f060a8" fill-opacity="0.82"/><circle cx="240.0" cy="1623.0" r="8.6" fill="#f0c850" fill-opacity="0.82"/><circle cx="268.9" cy="1633.2" r="8.6" fill="#88c060" fill-opacity="0.82"/><circle cx="312.3" cy="1628.1" r="8.6" fill="#f060a8" fill-opacity="0.82"/><circle cx="149.6" cy="1642.1" r="8.6" fill="#88c060" fill-opacity="0.82"/><circle cx="185.1" cy="1645.9" r="8.6" fill="#40b090" fill-opacity="0.82"/><circle cx="219.0" cy="1639.5" r="8.6" fill="#f0c850" fill-opacity="0.82"/><circle cx="229.2" cy="1635.7" r="8.6" fill="#40b090" fill-opacity="0.82"/><circle cx="220.5" cy="1642.7" r="8.6" fill="#f0c850" fill-opacity="0.82"/><circle cx="222.7" cy="1649.1" r="8.6" fill="#e8884a" fill-opacity="0.82"/><circle cx="224.1" cy="1647.2" r="8.6" fill="#f0c850" fill-opacity="0.82"/><circle cx="227.7" cy="1646.6" r="8.6" fill="#f060a8" fill-opacity="0.82"/><circle cx="234.6" cy="1642.7" r="8.6" fill="#40b090" fill-opacity="0.82"/><circle cx="237.8" cy="1646.6" r="8.6" fill="#f060a8" fill-opacity="0.82"/><circle cx="245.1" cy="1641.5" r="8.6" fill="#f060a8" fill-opacity="0.82"/><circle cx="231.3" cy="1638.3" r="8.6" fill="#40b090" fill-opacity="0.82"/><circle cx="234.9" cy="1631.2" r="8.6" fill="#f0c850" fill-opacity="0.82"/><circle cx="237.1" cy="1640.8" r="8.6" fill="#a9a4d4" fill-opacity="0.82"/>
<text x="235.20" y="1493.50" font-size="11.7" fill="#8a86c8">T4 CD8<tspan font-size="8" dy="-4.6">+</tspan><tspan dy="4.6"> PD1</tspan><tspan font-size="8" dy="-4.6">hi</tspan><tspan dy="4.6"> Teff</tspan></text>
<text x="268.50" y="1519.00" font-size="11.7" fill="#e07a30">T12 CD4<tspan font-size="8" dy="-4.6">+</tspan><tspan dy="4.6"> Tmem</tspan></text>
<circle cx="512.9" cy="1455.2" r="8.6" fill="#88c060" fill-opacity="0.82"/><circle cx="635.8" cy="1466.0" r="8.6" fill="#a9a4d4" fill-opacity="0.82"/><circle cx="723.3" cy="1485.1" r="8.6" fill="#88c060" fill-opacity="0.82"/><circle cx="640.1" cy="1489.0" r="8.6" fill="#e8884a" fill-opacity="0.82"/><circle cx="574.4" cy="1520.9" r="8.6" fill="#e8884a" fill-opacity="0.82"/><circle cx="553.4" cy="1524.7" r="8.6" fill="#f060a8" fill-opacity="0.82"/><circle cx="551.9" cy="1557.9" r="8.6" fill="#e8884a" fill-opacity="0.82"/><circle cx="513.6" cy="1564.9" r="8.6" fill="#a9a4d4" fill-opacity="0.82"/><circle cx="674.9" cy="1552.1" r="8.6" fill="#f060a8" fill-opacity="0.82"/><circle cx="727.6" cy="1550.2" r="8.6" fill="#40b090" fill-opacity="0.82"/><circle cx="739.9" cy="1550.2" r="8.6" fill="#f060a8" fill-opacity="0.82"/><circle cx="676.3" cy="1585.3" r="8.6" fill="#f060a8" fill-opacity="0.82"/><circle cx="538.2" cy="1590.4" r="8.6" fill="#f0c850" fill-opacity="0.82"/><circle cx="651.7" cy="1607.6" r="8.6" fill="#88c060" fill-opacity="0.82"/><circle cx="668.3" cy="1610.8" r="8.6" fill="#f0c850" fill-opacity="0.82"/><circle cx="559.2" cy="1618.5" r="8.6" fill="#88c060" fill-opacity="0.82"/><circle cx="581.6" cy="1618.5" r="8.6" fill="#f060a8" fill-opacity="0.82"/><circle cx="565.0" cy="1631.9" r="8.6" fill="#a9a4d4" fill-opacity="0.82"/><circle cx="574.4" cy="1646.6" r="8.6" fill="#f0c850" fill-opacity="0.82"/><circle cx="627.9" cy="1618.5" r="8.6" fill="#88c060" fill-opacity="0.82"/><circle cx="596.8" cy="1617.2" r="8.6" fill="#e8884a" fill-opacity="0.82"/><circle cx="590.3" cy="1621.7" r="8.6" fill="#40b090" fill-opacity="0.82"/><circle cx="608.3" cy="1620.4" r="8.6" fill="#e8884a" fill-opacity="0.82"/><circle cx="616.3" cy="1622.3" r="8.6" fill="#40b090" fill-opacity="0.82"/><circle cx="593.2" cy="1633.8" r="8.6" fill="#40b090" fill-opacity="0.82"/><circle cx="599.7" cy="1637.0" r="8.6" fill="#a9a4d4" fill-opacity="0.82"/><circle cx="601.8" cy="1647.2" r="8.6" fill="#f060a8" fill-opacity="0.82"/><circle cx="595.3" cy="1645.3" r="8.6" fill="#f0c850" fill-opacity="0.82"/><circle cx="611.2" cy="1637.0" r="8.6" fill="#e8884a" fill-opacity="0.82"/><circle cx="618.5" cy="1642.1" r="8.6" fill="#f0c850" fill-opacity="0.82"/><circle cx="614.8" cy="1647.2" r="8.6" fill="#a9a4d4" fill-opacity="0.82"/><circle cx="628.6" cy="1645.3" r="8.6" fill="#f0c850" fill-opacity="0.82"/><circle cx="604.7" cy="1633.8" r="8.6" fill="#f060a8" fill-opacity="0.82"/><circle cx="606.9" cy="1628.7" r="8.6" fill="#f0c850" fill-opacity="0.82"/><circle cx="612.7" cy="1628.1" r="8.6" fill="#e8884a" fill-opacity="0.82"/>
<text x="446.00" y="1458.50" font-size="11.7" fill="#6aaa3a">EC3 Stalk</text>
<text x="620.00" y="1454.00" font-size="11.7" fill="#8a86c8">T4 CD8<tspan font-size="8" dy="-4.6">+</tspan><tspan dy="4.6"> PD1</tspan><tspan font-size="8" dy="-4.6">hi</tspan><tspan dy="4.6"> Teff</tspan></text>
<text x="707.50" y="1472.20" font-size="11.7" fill="#6aaa3a">EC2 PCV</text>
<text x="506.50" y="1503.00" font-size="11.7" fill="#e07a30">T14 CD4<tspan font-size="8" dy="-4.6">+</tspan><tspan dy="4.6"> Treg2</tspan></text>
<text x="622.00" y="1509.00" font-size="11.7" fill="#e07a30">T8 CD4<tspan font-size="8" dy="-4.6">+</tspan><tspan dy="4.6"> CXCL13 Tfh</tspan></text>
<text x="471.50" y="1527.00" font-size="11.7" fill="#e8409a">Mye_cycling</text>
<text x="705.00" y="1530.00" font-size="11.7" fill="#2aa080">Caf2_FBLN1</text>
<text x="481.00" y="1547.00" font-size="11.7" fill="#e07a30">T11 CD4<tspan font-size="8" dy="-4.6">+</tspan><tspan dy="4.6"> Th17</tspan></text>
<text x="630.00" y="1541.00" font-size="11.7" fill="#e8409a">DC2_CLEC9A</text>
<text x="735.00" y="1546.00" font-size="11.7" fill="#e8409a">Mast cell</text>
<circle cx="1068.3" cy="1455.2" r="8.6" fill="#88c060" fill-opacity="0.82"/><circle cx="930.9" cy="1470.5" r="8.6" fill="#e8884a" fill-opacity="0.82"/><circle cx="1030.7" cy="1489.6" r="8.6" fill="#e8884a" fill-opacity="0.82"/><circle cx="1109.5" cy="1502.4" r="8.6" fill="#f060a8" fill-opacity="0.82"/><circle cx="891.9" cy="1519.0" r="8.6" fill="#88c060" fill-opacity="0.82"/><circle cx="1005.4" cy="1517.0" r="8.6" fill="#a9a4d4" fill-opacity="0.82"/><circle cx="1124.7" cy="1529.2" r="8.6" fill="#40b090" fill-opacity="0.82"/><circle cx="830.4" cy="1552.1" r="8.6" fill="#88c060" fill-opacity="0.82"/><circle cx="969.3" cy="1554.1" r="8.6" fill="#f060a8" fill-opacity="0.82"/><circle cx="929.5" cy="1562.3" r="8.6" fill="#f060a8" fill-opacity="0.82"/><circle cx="1115.3" cy="1571.9" r="8.6" fill="#88c060" fill-opacity="0.82"/><circle cx="988.8" cy="1572.6" r="8.6" fill="#e8884a" fill-opacity="0.82"/><circle cx="897.7" cy="1575.7" r="8.6" fill="#a9a4d4" fill-opacity="0.82"/><circle cx="1059.6" cy="1584.7" r="8.6" fill="#40b090" fill-opacity="0.82"/><circle cx="1045.2" cy="1594.2" r="8.6" fill="#40b090" fill-opacity="0.82"/><circle cx="919.4" cy="1594.2" r="8.6" fill="#f0c850" fill-opacity="0.82"/><circle cx="909.3" cy="1600.0" r="8.6" fill="#88c060" fill-opacity="0.82"/><circle cx="966.4" cy="1589.8" r="8.6" fill="#e8884a" fill-opacity="0.82"/><circle cx="964.2" cy="1602.5" r="8.6" fill="#40b090" fill-opacity="0.82"/><circle cx="977.9" cy="1604.5" r="8.6" fill="#e8884a" fill-opacity="0.82"/><circle cx="1027.1" cy="1613.4" r="8.6" fill="#f060a8" fill-opacity="0.82"/><circle cx="946.9" cy="1616.6" r="8.6" fill="#f0c850" fill-opacity="0.82"/><circle cx="964.9" cy="1613.4" r="8.6" fill="#f060a8" fill-opacity="0.82"/><circle cx="943.2" cy="1633.2" r="8.6" fill="#a9a4d4" fill-opacity="0.82"/><circle cx="1048.8" cy="1632.5" r="8.6" fill="#f060a8" fill-opacity="0.82"/><circle cx="1019.9" cy="1640.8" r="8.6" fill="#f0c850" fill-opacity="0.82"/><circle cx="1002.5" cy="1618.5" r="8.6" fill="#f0c850" fill-opacity="0.82"/><circle cx="1005.4" cy="1628.7" r="8.6" fill="#88c060" fill-opacity="0.82"/><circle cx="971.4" cy="1624.9" r="8.6" fill="#40b090" fill-opacity="0.82"/><circle cx="959.9" cy="1630.6" r="8.6" fill="#f0c850" fill-opacity="0.82"/><circle cx="970.7" cy="1632.5" r="8.6" fill="#e8884a" fill-opacity="0.82"/><circle cx="988.1" cy="1623.6" r="8.6" fill="#f0c850" fill-opacity="0.82"/><circle cx="995.3" cy="1625.5" r="8.6" fill="#a9a4d4" fill-opacity="0.82"/><circle cx="975.8" cy="1636.4" r="8.6" fill="#f060a8" fill-opacity="0.82"/><circle cx="981.6" cy="1644.6" r="8.6" fill="#88c060" fill-opacity="0.82"/><circle cx="990.2" cy="1639.5" r="8.6" fill="#a9a4d4" fill-opacity="0.82"/><circle cx="991.7" cy="1631.2" r="8.6" fill="#f0c850" fill-opacity="0.82"/><circle cx="999.6" cy="1642.7" r="8.6" fill="#f060a8" fill-opacity="0.82"/><circle cx="995.3" cy="1635.7" r="8.6" fill="#e8884a" fill-opacity="0.82"/><circle cx="983.0" cy="1634.4" r="8.6" fill="#40b090" fill-opacity="0.82"/>
<text x="884.30" y="1455.50" font-size="11.7" fill="#e07a30">T11 CD4<tspan font-size="8" dy="-4.6">+</tspan><tspan dy="4.6"> Th17</tspan></text>
<text x="1048.80" y="1438.50" font-size="11.7" fill="#6aaa3a">EC2 PCV</text>
<text x="969.00" y="1483.00" font-size="11.7" fill="#e07a30">T8 CD4<tspan font-size="8" dy="-4.6">+</tspan><tspan dy="4.6"> CXCL13 Tfh</tspan></text>
<text x="1096.00" y="1490.50" font-size="11.7" fill="#e8409a">Mast cell</text>
<text x="866.00" y="1505.00" font-size="11.7" fill="#6aaa3a">EC3 stalk</text>
<text x="980.00" y="1516.60" font-size="11.7" fill="#8a86c8">T4 CD8<tspan font-size="8" dy="-4.6">+</tspan><tspan dy="4.6"> PD1</tspan><tspan font-size="8" dy="-4.6">hi</tspan><tspan dy="4.6"> Teff</tspan></text>
<text x="825.00" y="1536.00" font-size="11.7" fill="#6aaa3a">EC4 Tip</text>
<text x="950.00" y="1543.00" font-size="11.7" fill="#e8409a">Macrophage</text>
<text x="1075.00" y="1550.00" font-size="11.7" fill="#2aa080">Caf5_RELN</text>
<text x="872.00" y="1553.00" font-size="11.7" fill="#e8409a">Mye_cycling</text>
</svg>
</body></html>
